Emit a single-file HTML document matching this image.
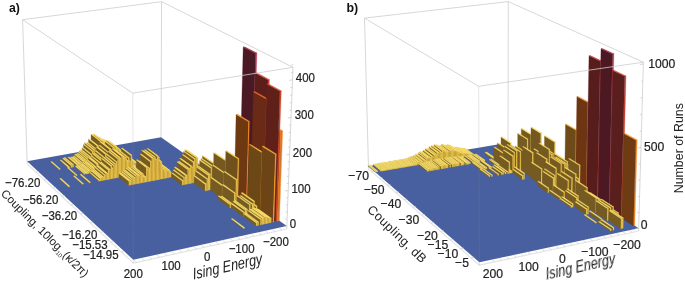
<!DOCTYPE html>
<html><head><meta charset="utf-8"><style>
html,body{margin:0;padding:0;background:#fff;width:685px;height:283px;overflow:hidden}
svg{display:block}
.bars path{stroke-width:0.3;stroke-linejoin:round}
text{font-family:'Liberation Sans',sans-serif}
</style></head><body>
<svg width="685" height="283" viewBox="0 0 685 283" xmlns="http://www.w3.org/2000/svg">
<line x1="22.6" y1="19.7" x2="161.6" y2="1.7" stroke="#cdcdcd" stroke-width="0.8"/>
<line x1="161.6" y1="1.7" x2="293.0" y2="67.3" stroke="#cdcdcd" stroke-width="0.8"/>
<line x1="22.6" y1="19.7" x2="132.8" y2="93.1" stroke="#cdcdcd" stroke-width="0.8"/>
<line x1="161.6" y1="1.7" x2="161.0" y2="140.0" stroke="#cdcdcd" stroke-width="0.8"/>
<line x1="22.6" y1="19.7" x2="27.2" y2="164.0" stroke="#cdcdcd" stroke-width="0.8"/>
<line x1="27.2" y1="164.0" x2="133.3" y2="263.1" stroke="#e4e4e4" stroke-width="1.2"/>
<line x1="133.3" y1="263.1" x2="286.7" y2="229.0" stroke="#e4e4e4" stroke-width="1.2"/>
<path d="M27.1 161.2L161.0 137.3L286.8 225.9L133.3 259.8Z" fill="#48609f"/>
<g class="bars"><path d="M127.2 157.1L128.5 156.9L128.5 155.9L127.2 156.1Z" fill="#ebc84e" stroke="#ebc84e"/>
<path d="M118.2 150.2L127.2 157.1L127.2 156.1L118.2 149.2Z" fill="#765d23" stroke="#765d23"/>
<path d="M118.2 149.2L119.5 149.0L128.5 155.9L127.2 156.1Z" fill="#f7de69" stroke="#f7de69"/>
<path d="M125.9 157.3L127.2 157.1L127.2 156.0L125.9 156.2Z" fill="#ebc84e" stroke="#ebc84e"/>
<path d="M117.0 150.4L125.9 157.3L125.9 156.2L116.9 149.3Z" fill="#765d23" stroke="#765d23"/>
<path d="M116.9 149.3L118.2 149.1L127.2 156.0L125.9 156.2Z" fill="#f7de69" stroke="#f7de69"/>
<path d="M124.6 157.6L125.9 157.3L125.9 156.0L124.6 156.2Z" fill="#ebc84e" stroke="#ebc84e"/>
<path d="M115.7 150.6L124.6 157.6L124.6 156.2L115.7 149.3Z" fill="#765d23" stroke="#765d23"/>
<path d="M115.7 149.3L116.9 149.1L125.9 156.0L124.6 156.2Z" fill="#f7de68" stroke="#f7de68"/>
<path d="M123.3 157.8L124.6 157.6L124.6 155.1L123.3 155.3Z" fill="#ebc74d" stroke="#ebc74d"/>
<path d="M114.4 150.9L123.3 157.8L123.3 155.3L114.4 148.4Z" fill="#765d23" stroke="#765d23"/>
<path d="M114.4 148.4L115.7 148.2L124.6 155.1L123.3 155.3Z" fill="#f7dd68" stroke="#f7dd68"/>
<path d="M122.0 158.1L123.3 157.8L123.3 155.3L122.0 155.5Z" fill="#ebc74d" stroke="#ebc74d"/>
<path d="M113.1 151.1L122.0 158.1L122.0 155.5L113.1 148.6Z" fill="#765d23" stroke="#765d23"/>
<path d="M113.1 148.6L114.4 148.4L123.3 155.3L122.0 155.5Z" fill="#f7dd68" stroke="#f7dd68"/>
<path d="M120.8 158.3L122.0 158.1L122.0 155.1L120.7 155.3Z" fill="#ebc74d" stroke="#ebc74d"/>
<path d="M111.9 151.3L120.8 158.3L120.7 155.3L111.8 148.4Z" fill="#765d23" stroke="#765d23"/>
<path d="M111.8 148.4L113.1 148.1L122.0 155.1L120.7 155.3Z" fill="#f7dd68" stroke="#f7dd68"/>
<path d="M119.5 158.5L120.8 158.3L120.7 153.5L119.4 153.8Z" fill="#ebc74d" stroke="#ebc74d"/>
<path d="M110.6 151.6L119.5 158.5L119.4 153.8L110.6 146.9Z" fill="#765c23" stroke="#765c23"/>
<path d="M110.6 146.9L111.8 146.6L120.7 153.5L119.4 153.8Z" fill="#f7dd67" stroke="#f7dd67"/>
<path d="M118.2 158.8L119.5 158.5L119.4 153.7L118.1 153.9Z" fill="#ebc74d" stroke="#ebc74d"/>
<path d="M109.3 151.8L118.2 158.8L118.1 153.9L109.3 147.0Z" fill="#765c23" stroke="#765c23"/>
<path d="M109.3 147.0L110.5 146.8L119.4 153.7L118.1 153.9Z" fill="#f7dd67" stroke="#f7dd67"/>
<path d="M116.9 159.0L118.2 158.8L118.1 151.8L116.8 152.1Z" fill="#ebc64c" stroke="#ebc64c"/>
<path d="M108.0 152.0L116.9 159.0L116.8 152.1L108.0 145.2Z" fill="#765c22" stroke="#765c22"/>
<path d="M108.0 145.2L109.3 144.9L118.1 151.8L116.8 152.1Z" fill="#f7dc66" stroke="#f7dc66"/>
<path d="M115.6 159.2L116.9 159.0L116.8 151.9L115.5 152.1Z" fill="#ebc64c" stroke="#ebc64c"/>
<path d="M106.8 152.2L115.6 159.2L115.5 152.1L106.7 145.2Z" fill="#765c22" stroke="#765c22"/>
<path d="M106.7 145.2L108.0 145.0L116.8 151.9L115.5 152.1Z" fill="#f7dc66" stroke="#f7dc66"/>
<path d="M114.3 159.5L115.6 159.2L115.5 149.0L114.2 149.2Z" fill="#ebc54c" stroke="#ebc54c"/>
<path d="M105.5 152.5L114.3 159.5L114.2 149.2L105.4 142.4Z" fill="#755c22" stroke="#755c22"/>
<path d="M105.4 142.4L106.7 142.1L115.5 149.0L114.2 149.2Z" fill="#f7db65" stroke="#f7db65"/>
<path d="M113.0 159.7L114.3 159.5L114.2 150.6L112.9 150.9Z" fill="#ebc54c" stroke="#ebc54c"/>
<path d="M104.2 152.7L113.0 159.7L112.9 150.9L104.1 144.0Z" fill="#755c22" stroke="#755c22"/>
<path d="M104.1 144.0L105.4 143.7L114.2 150.6L112.9 150.9Z" fill="#f7db65" stroke="#f7db65"/>
<path d="M111.7 159.9L113.0 159.7L112.9 145.9L111.6 146.2Z" fill="#ebc44b" stroke="#ebc44b"/>
<path d="M102.9 152.9L111.7 159.9L111.6 146.2L102.8 139.3Z" fill="#755b22" stroke="#755b22"/>
<path d="M102.8 139.3L104.1 139.1L112.9 145.9L111.6 146.2Z" fill="#f7da63" stroke="#f7da63"/>
<path d="M110.4 160.2L111.7 159.9L111.6 147.8L110.3 148.1Z" fill="#ebc54b" stroke="#ebc54b"/>
<path d="M101.6 153.2L110.4 160.2L110.3 148.1L101.5 141.2Z" fill="#755b22" stroke="#755b22"/>
<path d="M101.5 141.2L102.8 141.0L111.6 147.8L110.3 148.1Z" fill="#f7db64" stroke="#f7db64"/>
<path d="M109.1 160.4L110.4 160.2L110.3 148.4L109.0 148.6Z" fill="#ebc54b" stroke="#ebc54b"/>
<path d="M100.4 153.4L109.1 160.4L109.0 148.6L100.2 141.7Z" fill="#755b22" stroke="#755b22"/>
<path d="M100.2 141.7L101.5 141.5L110.3 148.4L109.0 148.6Z" fill="#f7db64" stroke="#f7db64"/>
<path d="M107.8 160.7L109.1 160.4L109.0 144.1L107.7 144.4Z" fill="#ebc34a" stroke="#ebc34a"/>
<path d="M99.1 153.6L107.8 160.7L107.7 144.4L98.9 137.5Z" fill="#755b22" stroke="#755b22"/>
<path d="M98.9 137.5L100.2 137.3L109.0 144.1L107.7 144.4Z" fill="#f7d962" stroke="#f7d962"/>
<path d="M106.5 160.9L107.8 160.7L107.7 147.2L106.4 147.5Z" fill="#ebc44b" stroke="#ebc44b"/>
<path d="M97.8 153.9L106.5 160.9L106.4 147.5L97.6 140.6Z" fill="#755b22" stroke="#755b22"/>
<path d="M97.6 140.6L98.9 140.4L107.7 147.2L106.4 147.5Z" fill="#f7da63" stroke="#f7da63"/>
<path d="M105.2 161.1L106.5 160.9L106.4 146.3L105.1 146.5Z" fill="#ebc44b" stroke="#ebc44b"/>
<path d="M96.5 154.1L105.2 161.1L105.1 146.5L96.3 139.6Z" fill="#755b22" stroke="#755b22"/>
<path d="M96.3 139.6L97.6 139.4L106.4 146.3L105.1 146.5Z" fill="#f7da63" stroke="#f7da63"/>
<path d="M103.9 161.4L105.2 161.1L105.0 142.3L103.7 142.6Z" fill="#ebc34a" stroke="#ebc34a"/>
<path d="M95.2 154.3L103.9 161.4L103.7 142.6L95.0 135.7Z" fill="#755a21" stroke="#755a21"/>
<path d="M95.0 135.7L96.3 135.5L105.0 142.3L103.7 142.6Z" fill="#f6d961" stroke="#f6d961"/>
<path d="M102.6 161.6L103.9 161.4L103.7 141.0L102.4 141.2Z" fill="#ebc249" stroke="#ebc249"/>
<path d="M93.9 154.6L102.6 161.6L102.4 141.2L93.6 134.4Z" fill="#755a21" stroke="#755a21"/>
<path d="M93.6 134.4L94.9 134.2L103.7 141.0L102.4 141.2Z" fill="#f6d860" stroke="#f6d860"/>
<path d="M101.3 161.9L102.6 161.6L102.4 144.7L101.1 144.9Z" fill="#ebc34a" stroke="#ebc34a"/>
<path d="M92.6 154.8L101.3 161.9L101.1 144.9L92.4 138.0Z" fill="#755b22" stroke="#755b22"/>
<path d="M92.4 138.0L93.7 137.8L102.4 144.7L101.1 144.9Z" fill="#f7d962" stroke="#f7d962"/>
<path d="M100.0 162.1L101.3 161.9L101.1 140.9L99.7 141.2Z" fill="#ebc249" stroke="#ebc249"/>
<path d="M91.3 155.0L100.0 162.1L99.7 141.2L91.0 134.3Z" fill="#755a21" stroke="#755a21"/>
<path d="M91.0 134.3L92.3 134.1L101.1 140.9L99.7 141.2Z" fill="#f6d860" stroke="#f6d860"/>
<path d="M98.7 162.3L100.0 162.1L99.8 147.1L98.5 147.4Z" fill="#ebc44b" stroke="#ebc44b"/>
<path d="M90.0 155.3L98.7 162.3L98.5 147.4L89.8 140.5Z" fill="#755b22" stroke="#755b22"/>
<path d="M89.8 140.5L91.1 140.2L99.8 147.1L98.5 147.4Z" fill="#f7da63" stroke="#f7da63"/>
<path d="M97.4 162.6L98.7 162.3L98.5 145.8L97.2 146.0Z" fill="#ebc34a" stroke="#ebc34a"/>
<path d="M88.7 155.5L97.4 162.6L97.2 146.0L88.5 139.2Z" fill="#755b22" stroke="#755b22"/>
<path d="M88.5 139.2L89.8 138.9L98.5 145.8L97.2 146.0Z" fill="#f7d962" stroke="#f7d962"/>
<path d="M96.1 162.8L97.4 162.6L97.2 149.4L95.9 149.6Z" fill="#ebc44b" stroke="#ebc44b"/>
<path d="M87.5 155.7L96.1 162.8L95.9 149.6L87.2 142.7Z" fill="#755b22" stroke="#755b22"/>
<path d="M87.2 142.7L88.5 142.4L97.2 149.4L95.9 149.6Z" fill="#f7da63" stroke="#f7da63"/>
<path d="M94.8 163.1L96.1 162.8L95.9 151.5L94.6 151.7Z" fill="#ebc54b" stroke="#ebc54b"/>
<path d="M86.2 156.0L94.8 163.1L94.6 151.7L86.0 144.8Z" fill="#755b22" stroke="#755b22"/>
<path d="M86.0 144.8L87.3 144.5L95.9 151.5L94.6 151.7Z" fill="#f7db64" stroke="#f7db64"/>
<path d="M93.4 163.3L94.8 163.1L94.6 149.5L93.2 149.7Z" fill="#ebc44b" stroke="#ebc44b"/>
<path d="M84.9 156.2L93.4 163.3L93.2 149.7L84.6 142.8Z" fill="#755b22" stroke="#755b22"/>
<path d="M84.6 142.8L85.9 142.5L94.6 149.5L93.2 149.7Z" fill="#f7da63" stroke="#f7da63"/>
<path d="M92.1 163.5L93.4 163.3L93.3 151.3L92.0 151.5Z" fill="#ebc54b" stroke="#ebc54b"/>
<path d="M83.6 156.4L92.1 163.5L92.0 151.5L83.4 144.6Z" fill="#755b22" stroke="#755b22"/>
<path d="M83.4 144.6L84.7 144.4L93.3 151.3L92.0 151.5Z" fill="#f7db64" stroke="#f7db64"/>
<path d="M90.8 163.8L92.1 163.5L92.0 154.4L90.7 154.7Z" fill="#ebc54c" stroke="#ebc54c"/>
<path d="M82.3 156.7L90.8 163.8L90.7 154.7L82.1 147.7Z" fill="#755c22" stroke="#755c22"/>
<path d="M82.1 147.7L83.4 147.4L92.0 154.4L90.7 154.7Z" fill="#f7db65" stroke="#f7db65"/>
<path d="M89.5 164.0L90.8 163.8L90.7 156.8L89.4 157.0Z" fill="#ebc64c" stroke="#ebc64c"/>
<path d="M81.0 156.9L89.5 164.0L89.4 157.0L80.8 150.0Z" fill="#765c22" stroke="#765c22"/>
<path d="M80.8 150.0L82.1 149.7L90.7 156.8L89.4 157.0Z" fill="#f7dc66" stroke="#f7dc66"/>
<path d="M88.2 164.3L89.5 164.0L89.4 157.7L88.1 158.0Z" fill="#ebc64d" stroke="#ebc64d"/>
<path d="M79.7 157.1L88.2 164.3L88.1 158.0L79.5 150.9Z" fill="#765c22" stroke="#765c22"/>
<path d="M79.5 150.9L80.8 150.7L89.4 157.7L88.1 158.0Z" fill="#f7dc66" stroke="#f7dc66"/>
<path d="M86.9 164.5L88.2 164.3L88.1 159.0L86.8 159.2Z" fill="#ebc64d" stroke="#ebc64d"/>
<path d="M78.4 157.4L86.9 164.5L86.8 159.2L78.3 152.1Z" fill="#765c23" stroke="#765c23"/>
<path d="M78.3 152.1L79.6 151.9L88.1 159.0L86.8 159.2Z" fill="#f7dc67" stroke="#f7dc67"/>
<path d="M85.5 164.8L86.9 164.5L86.8 160.3L85.5 160.6Z" fill="#ebc74d" stroke="#ebc74d"/>
<path d="M77.0 157.6L85.5 164.8L85.5 160.6L77.0 153.5Z" fill="#765c23" stroke="#765c23"/>
<path d="M77.0 153.5L78.3 153.2L86.8 160.3L85.5 160.6Z" fill="#f7dd67" stroke="#f7dd67"/>
<path d="M84.2 165.0L85.5 164.8L85.5 161.0L84.2 161.2Z" fill="#ebc74d" stroke="#ebc74d"/>
<path d="M75.7 157.8L84.2 165.0L84.2 161.2L75.7 154.1Z" fill="#765c23" stroke="#765c23"/>
<path d="M75.7 154.1L77.0 153.9L85.5 161.0L84.2 161.2Z" fill="#f7dd67" stroke="#f7dd67"/>
<path d="M82.9 165.2L84.2 165.0L84.2 161.3L82.8 161.5Z" fill="#ebc74d" stroke="#ebc74d"/>
<path d="M74.4 158.1L82.9 165.2L82.8 161.5L74.4 154.4Z" fill="#765c23" stroke="#765c23"/>
<path d="M74.4 154.4L75.7 154.2L84.2 161.3L82.8 161.5Z" fill="#f7dd67" stroke="#f7dd67"/>
<path d="M81.6 165.5L82.9 165.2L82.9 163.1L81.5 163.3Z" fill="#ebc74e" stroke="#ebc74e"/>
<path d="M73.1 158.3L81.6 165.5L81.5 163.3L73.1 156.2Z" fill="#765d23" stroke="#765d23"/>
<path d="M73.1 156.2L74.4 155.9L82.9 163.1L81.5 163.3Z" fill="#f7dd68" stroke="#f7dd68"/>
<path d="M80.2 165.7L81.6 165.5L81.5 163.9L80.2 164.2Z" fill="#ebc84e" stroke="#ebc84e"/>
<path d="M71.8 158.6L80.2 165.7L80.2 164.2L71.8 157.0Z" fill="#765d23" stroke="#765d23"/>
<path d="M71.8 157.0L73.1 156.8L81.5 163.9L80.2 164.2Z" fill="#f7de68" stroke="#f7de68"/>
<path d="M78.9 166.0L80.2 165.7L80.2 164.1L78.9 164.3Z" fill="#ebc84e" stroke="#ebc84e"/>
<path d="M70.5 158.8L78.9 166.0L78.9 164.3L70.5 157.2Z" fill="#765d23" stroke="#765d23"/>
<path d="M70.5 157.2L71.8 156.9L80.2 164.1L78.9 164.3Z" fill="#f7de68" stroke="#f7de68"/>
<path d="M77.6 166.2L78.9 166.0L78.9 165.0L77.6 165.3Z" fill="#ebc84e" stroke="#ebc84e"/>
<path d="M69.2 159.0L77.6 166.2L77.6 165.3L69.2 158.1Z" fill="#765d23" stroke="#765d23"/>
<path d="M69.2 158.1L70.5 157.9L78.9 165.0L77.6 165.3Z" fill="#f7de69" stroke="#f7de69"/>
<path d="M76.3 166.5L77.6 166.2L77.5 164.1L76.2 164.4Z" fill="#ebc74e" stroke="#ebc74e"/>
<path d="M67.9 159.3L76.3 166.5L76.2 164.4L67.8 157.2Z" fill="#765d23" stroke="#765d23"/>
<path d="M67.8 157.2L69.1 157.0L77.5 164.1L76.2 164.4Z" fill="#f7dd68" stroke="#f7dd68"/>
<path d="M72.3 167.2L73.6 166.9L73.6 164.6L72.2 164.8Z" fill="#ebc74d" stroke="#ebc74d"/>
<path d="M63.9 160.0L72.3 167.2L72.2 164.8L63.9 157.6Z" fill="#765d23" stroke="#765d23"/>
<path d="M63.9 157.6L65.2 157.4L73.6 164.6L72.2 164.8Z" fill="#f7dd68" stroke="#f7dd68"/>
<path d="M70.9 167.4L72.3 167.2L72.2 165.3L70.9 165.6Z" fill="#ebc74e" stroke="#ebc74e"/>
<path d="M62.6 160.2L70.9 167.4L70.9 165.6L62.6 158.4Z" fill="#765d23" stroke="#765d23"/>
<path d="M62.6 158.4L63.9 158.1L72.2 165.3L70.9 165.6Z" fill="#f7dd68" stroke="#f7dd68"/>
<path d="M68.3 167.9L69.6 167.7L69.6 167.1L68.2 167.4Z" fill="#ebc84e" stroke="#ebc84e"/>
<path d="M60.0 160.7L68.3 167.9L68.2 167.4L60.0 160.1Z" fill="#765d23" stroke="#765d23"/>
<path d="M60.0 160.1L61.3 159.9L69.6 167.1L68.2 167.4Z" fill="#f7de69" stroke="#f7de69"/>
<path d="M58.9 169.6L60.2 169.4L60.2 168.8L58.9 169.1Z" fill="#ebc84e" stroke="#ebc84e"/>
<path d="M50.7 162.4L58.9 169.6L58.9 169.1L50.7 161.8Z" fill="#765d23" stroke="#765d23"/>
<path d="M50.7 161.8L52.0 161.6L60.2 168.8L58.9 169.1Z" fill="#f7de69" stroke="#f7de69"/>
<path d="M136.7 164.5L138.0 164.2L138.0 163.2L136.7 163.4Z" fill="#ebc84e" stroke="#ebc84e"/>
<path d="M127.5 157.3L136.7 164.5L136.7 163.4L127.5 156.3Z" fill="#765d23" stroke="#765d23"/>
<path d="M127.5 156.3L128.8 156.1L138.0 163.2L136.7 163.4Z" fill="#f7de69" stroke="#f7de69"/>
<path d="M135.4 164.7L136.7 164.5L136.7 162.7L135.4 162.9Z" fill="#ebc74e" stroke="#ebc74e"/>
<path d="M126.2 157.6L135.4 164.7L135.4 162.9L126.2 155.8Z" fill="#765d23" stroke="#765d23"/>
<path d="M126.2 155.8L127.5 155.6L136.7 162.7L135.4 162.9Z" fill="#f7dd68" stroke="#f7dd68"/>
<path d="M134.1 165.0L135.4 164.7L135.4 162.4L134.1 162.6Z" fill="#ebc74d" stroke="#ebc74d"/>
<path d="M124.9 157.8L134.1 165.0L134.1 162.6L124.9 155.5Z" fill="#765d23" stroke="#765d23"/>
<path d="M124.9 155.5L126.2 155.3L135.4 162.4L134.1 162.6Z" fill="#f7dd68" stroke="#f7dd68"/>
<path d="M132.8 165.2L134.1 165.0L134.1 162.7L132.8 162.9Z" fill="#ebc74d" stroke="#ebc74d"/>
<path d="M123.6 158.0L132.8 165.2L132.8 162.9L123.6 155.8Z" fill="#765d23" stroke="#765d23"/>
<path d="M123.6 155.8L124.9 155.5L134.1 162.7L132.8 162.9Z" fill="#f7dd68" stroke="#f7dd68"/>
<path d="M131.5 165.4L132.8 165.2L132.8 162.0L131.5 162.2Z" fill="#ebc74d" stroke="#ebc74d"/>
<path d="M122.3 158.3L131.5 165.4L131.5 162.2L122.3 155.1Z" fill="#765d23" stroke="#765d23"/>
<path d="M122.3 155.1L123.6 154.9L132.8 162.0L131.5 162.2Z" fill="#f7dd68" stroke="#f7dd68"/>
<path d="M130.2 165.7L131.5 165.4L131.5 160.8L130.2 161.0Z" fill="#ebc74d" stroke="#ebc74d"/>
<path d="M121.0 158.5L130.2 165.7L130.2 161.0L121.0 153.9Z" fill="#765c23" stroke="#765c23"/>
<path d="M121.0 153.9L122.3 153.6L131.5 160.8L130.2 161.0Z" fill="#f7dd67" stroke="#f7dd67"/>
<path d="M128.9 165.9L130.2 165.7L130.2 159.6L128.9 159.9Z" fill="#ebc64d" stroke="#ebc64d"/>
<path d="M119.8 158.8L128.9 165.9L128.9 159.9L119.7 152.8Z" fill="#765c22" stroke="#765c22"/>
<path d="M119.7 152.8L121.0 152.5L130.2 159.6L128.9 159.9Z" fill="#f7dc66" stroke="#f7dc66"/>
<path d="M127.6 166.2L128.9 165.9L128.9 160.4L127.6 160.6Z" fill="#ebc64d" stroke="#ebc64d"/>
<path d="M118.5 159.0L127.6 166.2L127.6 160.6L118.4 153.5Z" fill="#765c23" stroke="#765c23"/>
<path d="M118.4 153.5L119.7 153.2L128.9 160.4L127.6 160.6Z" fill="#f7dc67" stroke="#f7dc67"/>
<path d="M126.3 166.4L127.6 166.2L127.6 157.4L126.2 157.6Z" fill="#ebc54c" stroke="#ebc54c"/>
<path d="M117.2 159.2L126.3 166.4L126.2 157.6L117.1 150.5Z" fill="#755c22" stroke="#755c22"/>
<path d="M117.1 150.5L118.4 150.3L127.6 157.4L126.2 157.6Z" fill="#f7db65" stroke="#f7db65"/>
<path d="M125.0 166.7L126.3 166.4L126.2 157.8L124.9 158.0Z" fill="#ebc64c" stroke="#ebc64c"/>
<path d="M115.9 159.5L125.0 166.7L124.9 158.0L115.8 150.9Z" fill="#765c22" stroke="#765c22"/>
<path d="M115.8 150.9L117.1 150.7L126.2 157.8L124.9 158.0Z" fill="#f7dc65" stroke="#f7dc65"/>
<path d="M123.7 166.9L125.0 166.7L124.9 157.1L123.6 157.3Z" fill="#ebc54c" stroke="#ebc54c"/>
<path d="M114.6 159.7L123.7 166.9L123.6 157.3L114.5 150.2Z" fill="#755c22" stroke="#755c22"/>
<path d="M114.5 150.2L115.8 150.0L124.9 157.1L123.6 157.3Z" fill="#f7db65" stroke="#f7db65"/>
<path d="M122.4 167.2L123.7 166.9L123.6 154.4L122.3 154.6Z" fill="#ebc44b" stroke="#ebc44b"/>
<path d="M113.3 159.9L122.4 167.2L122.3 154.6L113.2 147.5Z" fill="#755b22" stroke="#755b22"/>
<path d="M113.2 147.5L114.5 147.3L123.6 154.4L122.3 154.6Z" fill="#f7da64" stroke="#f7da64"/>
<path d="M121.1 167.4L122.4 167.2L122.3 154.1L121.0 154.4Z" fill="#ebc44b" stroke="#ebc44b"/>
<path d="M112.0 160.2L121.1 167.4L121.0 154.4L111.9 147.3Z" fill="#755b22" stroke="#755b22"/>
<path d="M111.9 147.3L113.2 147.1L122.3 154.1L121.0 154.4Z" fill="#f7da63" stroke="#f7da63"/>
<path d="M119.7 167.6L121.1 167.4L120.9 150.2L119.6 150.4Z" fill="#ebc34a" stroke="#ebc34a"/>
<path d="M110.7 160.4L119.7 167.6L119.6 150.4L110.5 143.4Z" fill="#755b22" stroke="#755b22"/>
<path d="M110.5 143.4L111.8 143.2L120.9 150.2L119.6 150.4Z" fill="#f7d962" stroke="#f7d962"/>
<path d="M118.4 167.9L119.7 167.6L119.6 149.1L118.3 149.3Z" fill="#ebc34a" stroke="#ebc34a"/>
<path d="M109.4 160.7L118.4 167.9L118.3 149.3L109.2 142.3Z" fill="#755a21" stroke="#755a21"/>
<path d="M109.2 142.3L110.5 142.1L119.6 149.1L118.3 149.3Z" fill="#f6d961" stroke="#f6d961"/>
<path d="M117.1 168.1L118.4 167.9L118.3 147.9L117.0 148.1Z" fill="#ebc249" stroke="#ebc249"/>
<path d="M108.1 160.9L117.1 168.1L117.0 148.1L107.9 141.2Z" fill="#755a21" stroke="#755a21"/>
<path d="M107.9 141.2L109.2 140.9L118.3 147.9L117.0 148.1Z" fill="#f6d861" stroke="#f6d861"/>
<path d="M115.8 168.4L117.1 168.1L117.0 147.3L115.6 147.5Z" fill="#ebc249" stroke="#ebc249"/>
<path d="M106.8 161.1L115.8 168.4L115.6 147.5L106.6 140.5Z" fill="#755a21" stroke="#755a21"/>
<path d="M106.6 140.5L107.9 140.3L117.0 147.3L115.6 147.5Z" fill="#f6d860" stroke="#f6d860"/>
<path d="M114.5 168.6L115.8 168.4L115.6 148.4L114.3 148.7Z" fill="#ebc249" stroke="#ebc249"/>
<path d="M105.5 161.4L114.5 168.6L114.3 148.7L105.3 141.7Z" fill="#755a21" stroke="#755a21"/>
<path d="M105.3 141.7L106.6 141.4L115.6 148.4L114.3 148.7Z" fill="#f6d861" stroke="#f6d861"/>
<path d="M113.2 168.9L114.5 168.6L114.4 153.5L113.0 153.7Z" fill="#ebc44b" stroke="#ebc44b"/>
<path d="M104.2 161.6L113.2 168.9L113.0 153.7L104.0 146.6Z" fill="#755b22" stroke="#755b22"/>
<path d="M104.0 146.6L105.3 146.4L114.4 153.5L113.0 153.7Z" fill="#f7da63" stroke="#f7da63"/>
<path d="M111.8 169.1L113.2 168.9L113.0 152.8L111.7 153.0Z" fill="#ebc34a" stroke="#ebc34a"/>
<path d="M102.9 161.9L111.8 169.1L111.7 153.0L102.7 146.0Z" fill="#755b22" stroke="#755b22"/>
<path d="M102.7 146.0L104.0 145.7L113.0 152.8L111.7 153.0Z" fill="#f7d962" stroke="#f7d962"/>
<path d="M110.5 169.4L111.8 169.1L111.7 149.6L110.3 149.8Z" fill="#ebc24a" stroke="#ebc24a"/>
<path d="M101.6 162.1L110.5 169.4L110.3 149.8L101.4 142.8Z" fill="#755a21" stroke="#755a21"/>
<path d="M101.4 142.8L102.7 142.6L111.7 149.6L110.3 149.8Z" fill="#f6d861" stroke="#f6d861"/>
<path d="M109.2 169.6L110.5 169.4L110.3 148.7L109.0 148.9Z" fill="#ebc249" stroke="#ebc249"/>
<path d="M100.3 162.3L109.2 169.6L109.0 148.9L100.0 141.9Z" fill="#755a21" stroke="#755a21"/>
<path d="M100.0 141.9L101.3 141.6L110.3 148.7L109.0 148.9Z" fill="#f6d860" stroke="#f6d860"/>
<path d="M107.9 169.9L109.2 169.6L109.0 152.4L107.7 152.6Z" fill="#ebc34a" stroke="#ebc34a"/>
<path d="M99.0 162.6L107.9 169.9L107.7 152.6L98.8 145.6Z" fill="#755b22" stroke="#755b22"/>
<path d="M98.8 145.6L100.1 145.3L109.0 152.4L107.7 152.6Z" fill="#f7d962" stroke="#f7d962"/>
<path d="M106.5 170.1L107.9 169.9L107.7 154.8L106.4 155.0Z" fill="#ebc44b" stroke="#ebc44b"/>
<path d="M97.7 162.8L106.5 170.1L106.4 155.0L97.5 147.9Z" fill="#755b22" stroke="#755b22"/>
<path d="M97.5 147.9L98.8 147.7L107.7 154.8L106.4 155.0Z" fill="#f7da63" stroke="#f7da63"/>
<path d="M105.2 170.4L106.5 170.1L106.4 153.8L105.0 154.0Z" fill="#ebc34a" stroke="#ebc34a"/>
<path d="M96.3 163.1L105.2 170.4L105.0 154.0L96.1 146.9Z" fill="#755b22" stroke="#755b22"/>
<path d="M96.1 146.9L97.4 146.7L106.4 153.8L105.0 154.0Z" fill="#f7d962" stroke="#f7d962"/>
<path d="M103.9 170.6L105.2 170.4L105.1 157.7L103.8 157.9Z" fill="#ebc44b" stroke="#ebc44b"/>
<path d="M95.0 163.3L103.9 170.6L103.8 157.9L94.9 150.8Z" fill="#755b22" stroke="#755b22"/>
<path d="M94.9 150.8L96.2 150.5L105.1 157.7L103.8 157.9Z" fill="#f7da64" stroke="#f7da64"/>
<path d="M102.6 170.9L103.9 170.6L103.8 159.9L102.4 160.1Z" fill="#ebc54c" stroke="#ebc54c"/>
<path d="M93.7 163.5L102.6 170.9L102.4 160.1L93.6 152.9Z" fill="#755b22" stroke="#755b22"/>
<path d="M93.6 152.9L94.9 152.7L103.8 159.9L102.4 160.1Z" fill="#f7db64" stroke="#f7db64"/>
<path d="M101.2 171.1L102.6 170.9L102.4 160.7L101.1 161.0Z" fill="#ebc54c" stroke="#ebc54c"/>
<path d="M92.4 163.8L101.2 171.1L101.1 161.0L92.3 153.8Z" fill="#755c22" stroke="#755c22"/>
<path d="M92.3 153.8L93.6 153.5L102.4 160.7L101.1 161.0Z" fill="#f7db65" stroke="#f7db65"/>
<path d="M99.9 171.4L101.2 171.1L101.1 163.1L99.8 163.3Z" fill="#ebc64c" stroke="#ebc64c"/>
<path d="M91.1 164.0L99.9 171.4L99.8 163.3L91.0 156.1Z" fill="#765c22" stroke="#765c22"/>
<path d="M91.0 156.1L92.3 155.9L101.1 163.1L99.8 163.3Z" fill="#f7dc66" stroke="#f7dc66"/>
<path d="M98.6 171.6L99.9 171.4L99.8 164.9L98.5 165.1Z" fill="#ebc64d" stroke="#ebc64d"/>
<path d="M89.8 164.3L98.6 171.6L98.5 165.1L89.7 157.9Z" fill="#765c22" stroke="#765c22"/>
<path d="M89.7 157.9L91.0 157.6L99.8 164.9L98.5 165.1Z" fill="#f7dc66" stroke="#f7dc66"/>
<path d="M97.2 171.9L98.6 171.6L98.5 164.7L97.1 164.9Z" fill="#ebc64c" stroke="#ebc64c"/>
<path d="M88.5 164.5L97.2 171.9L97.1 164.9L88.3 157.7Z" fill="#765c22" stroke="#765c22"/>
<path d="M88.3 157.7L89.7 157.4L98.5 164.7L97.1 164.9Z" fill="#f7dc66" stroke="#f7dc66"/>
<path d="M95.9 172.1L97.2 171.9L97.2 167.6L95.8 167.9Z" fill="#ebc74d" stroke="#ebc74d"/>
<path d="M87.1 164.7L95.9 172.1L95.8 167.9L87.1 160.6Z" fill="#765c23" stroke="#765c23"/>
<path d="M87.1 160.6L88.4 160.3L97.2 167.6L95.8 167.9Z" fill="#f7dd67" stroke="#f7dd67"/>
<path d="M94.6 172.4L95.9 172.1L95.9 168.8L94.5 169.1Z" fill="#ebc74d" stroke="#ebc74d"/>
<path d="M85.8 165.0L94.6 172.4L94.5 169.1L85.8 161.7Z" fill="#765d23" stroke="#765d23"/>
<path d="M85.8 161.7L87.1 161.5L95.9 168.8L94.5 169.1Z" fill="#f7dd68" stroke="#f7dd68"/>
<path d="M93.2 172.6L94.6 172.4L94.5 169.0L93.2 169.2Z" fill="#ebc74d" stroke="#ebc74d"/>
<path d="M84.5 165.2L93.2 172.6L93.2 169.2L84.4 161.9Z" fill="#765d23" stroke="#765d23"/>
<path d="M84.4 161.9L85.8 161.6L94.5 169.0L93.2 169.2Z" fill="#f7dd68" stroke="#f7dd68"/>
<path d="M91.9 172.9L93.2 172.6L93.2 169.9L91.9 170.2Z" fill="#ebc74d" stroke="#ebc74d"/>
<path d="M83.2 165.5L91.9 172.9L91.9 170.2L83.1 162.8Z" fill="#765d23" stroke="#765d23"/>
<path d="M83.1 162.8L84.4 162.6L93.2 169.9L91.9 170.2Z" fill="#f7dd68" stroke="#f7dd68"/>
<path d="M90.5 173.1L91.9 172.9L91.9 171.1L90.5 171.3Z" fill="#ebc84e" stroke="#ebc84e"/>
<path d="M81.8 165.7L90.5 173.1L90.5 171.3L81.8 164.0Z" fill="#765d23" stroke="#765d23"/>
<path d="M81.8 164.0L83.1 163.7L91.9 171.1L90.5 171.3Z" fill="#f7de68" stroke="#f7de68"/>
<path d="M89.2 173.4L90.5 173.1L90.5 171.5L89.2 171.8Z" fill="#ebc84e" stroke="#ebc84e"/>
<path d="M80.5 166.0L89.2 173.4L89.2 171.8L80.5 164.4Z" fill="#765d23" stroke="#765d23"/>
<path d="M80.5 164.4L81.8 164.1L90.5 171.5L89.2 171.8Z" fill="#f7de68" stroke="#f7de68"/>
<path d="M87.9 173.6L89.2 173.4L89.2 172.2L87.8 172.5Z" fill="#ebc84e" stroke="#ebc84e"/>
<path d="M79.2 166.2L87.9 173.6L87.8 172.5L79.2 165.1Z" fill="#765d23" stroke="#765d23"/>
<path d="M79.2 165.1L80.5 164.8L89.2 172.2L87.8 172.5Z" fill="#f7de69" stroke="#f7de69"/>
<path d="M86.5 173.9L87.9 173.6L87.9 172.9L86.5 173.2Z" fill="#ebc84e" stroke="#ebc84e"/>
<path d="M77.9 166.4L86.5 173.9L86.5 173.2L77.9 165.8Z" fill="#765d23" stroke="#765d23"/>
<path d="M77.9 165.8L79.2 165.6L87.9 172.9L86.5 173.2Z" fill="#f7de69" stroke="#f7de69"/>
<path d="M85.2 174.1L86.5 173.9L86.5 172.9L85.2 173.1Z" fill="#ebc84e" stroke="#ebc84e"/>
<path d="M76.5 166.7L85.2 174.1L85.2 173.1L76.5 165.7Z" fill="#765d23" stroke="#765d23"/>
<path d="M76.5 165.7L77.8 165.5L86.5 172.9L85.2 173.1Z" fill="#f7de69" stroke="#f7de69"/>
<path d="M83.8 174.4L85.2 174.1L85.2 173.4L83.8 173.6Z" fill="#ebc84e" stroke="#ebc84e"/>
<path d="M75.2 166.9L83.8 174.4L83.8 173.6L75.2 166.2Z" fill="#765d23" stroke="#765d23"/>
<path d="M75.2 166.2L76.5 165.9L85.2 173.4L83.8 173.6Z" fill="#f7de69" stroke="#f7de69"/>
<path d="M75.7 175.9L77.1 175.6L77.1 174.9L75.7 175.1Z" fill="#ebc84e" stroke="#ebc84e"/>
<path d="M67.2 168.4L75.7 175.9L75.7 175.1L67.2 167.7Z" fill="#765d23" stroke="#765d23"/>
<path d="M67.2 167.7L68.5 167.4L77.1 174.9L75.7 175.1Z" fill="#f7de69" stroke="#f7de69"/>
<path d="M136.0 174.1L137.3 173.8L137.3 167.9L136.0 168.1Z" fill="#ebc64d" stroke="#ebc64d"/>
<path d="M126.6 166.7L136.0 174.1L136.0 168.1L126.6 160.8Z" fill="#765c22" stroke="#765c22"/>
<path d="M126.6 160.8L127.9 160.5L137.3 167.9L136.0 168.1Z" fill="#f7dc66" stroke="#f7dc66"/>
<path d="M134.7 174.3L136.0 174.1L136.0 166.1L134.6 166.4Z" fill="#ebc64c" stroke="#ebc64c"/>
<path d="M125.3 166.9L134.7 174.3L134.6 166.4L125.2 159.1Z" fill="#765c22" stroke="#765c22"/>
<path d="M125.2 159.1L126.6 158.8L136.0 166.1L134.6 166.4Z" fill="#f7dc66" stroke="#f7dc66"/>
<path d="M133.3 174.6L134.7 174.3L134.6 166.6L133.3 166.9Z" fill="#ebc64c" stroke="#ebc64c"/>
<path d="M124.0 167.1L133.3 174.6L133.3 166.9L123.9 159.5Z" fill="#765c22" stroke="#765c22"/>
<path d="M123.9 159.5L125.2 159.3L134.6 166.6L133.3 166.9Z" fill="#f7dc66" stroke="#f7dc66"/>
<path d="M132.0 174.8L133.3 174.6L133.3 160.7L132.0 160.9Z" fill="#ebc44b" stroke="#ebc44b"/>
<path d="M122.7 167.4L132.0 174.8L132.0 160.9L122.6 153.7Z" fill="#755b22" stroke="#755b22"/>
<path d="M122.6 153.7L123.9 153.4L133.3 160.7L132.0 160.9Z" fill="#f7da63" stroke="#f7da63"/>
<path d="M130.7 175.1L132.0 174.8L131.9 155.1L130.6 155.4Z" fill="#ebc34a" stroke="#ebc34a"/>
<path d="M121.4 167.6L130.7 175.1L130.6 155.4L121.2 148.2Z" fill="#755a21" stroke="#755a21"/>
<path d="M121.2 148.2L122.5 147.9L131.9 155.1L130.6 155.4Z" fill="#f6d961" stroke="#f6d961"/>
<path d="M129.4 175.3L130.7 175.1L130.6 161.2L129.3 161.5Z" fill="#ebc44b" stroke="#ebc44b"/>
<path d="M120.0 167.9L129.4 175.3L129.3 161.5L119.9 154.2Z" fill="#755b22" stroke="#755b22"/>
<path d="M119.9 154.2L121.3 154.0L130.6 161.2L129.3 161.5Z" fill="#f7da63" stroke="#f7da63"/>
<path d="M128.0 175.6L129.4 175.3L129.3 157.7L127.9 158.0Z" fill="#ebc34a" stroke="#ebc34a"/>
<path d="M118.7 168.1L128.0 175.6L127.9 158.0L118.6 150.7Z" fill="#755b22" stroke="#755b22"/>
<path d="M118.6 150.7L119.9 150.5L129.3 157.7L127.9 158.0Z" fill="#f7d962" stroke="#f7d962"/>
<path d="M126.7 175.8L128.0 175.6L128.0 160.6L126.6 160.9Z" fill="#ebc44b" stroke="#ebc44b"/>
<path d="M117.4 168.4L126.7 175.8L126.6 160.9L117.3 153.6Z" fill="#755b22" stroke="#755b22"/>
<path d="M117.3 153.6L118.6 153.4L128.0 160.6L126.6 160.9Z" fill="#f7da63" stroke="#f7da63"/>
<path d="M125.4 176.1L126.7 175.8L126.6 157.9L125.3 158.2Z" fill="#ebc34a" stroke="#ebc34a"/>
<path d="M116.1 168.6L125.4 176.1L125.3 158.2L116.0 150.9Z" fill="#755b22" stroke="#755b22"/>
<path d="M116.0 150.9L117.3 150.7L126.6 157.9L125.3 158.2Z" fill="#f7d962" stroke="#f7d962"/>
<path d="M124.0 176.4L125.4 176.1L125.3 158.7L123.9 159.0Z" fill="#ebc34a" stroke="#ebc34a"/>
<path d="M114.8 168.9L124.0 176.4L123.9 159.0L114.6 151.7Z" fill="#755b22" stroke="#755b22"/>
<path d="M114.6 151.7L116.0 151.5L125.3 158.7L123.9 159.0Z" fill="#f7d962" stroke="#f7d962"/>
<path d="M122.7 176.6L124.0 176.4L123.9 156.7L122.6 157.0Z" fill="#ebc34a" stroke="#ebc34a"/>
<path d="M113.5 169.1L122.7 176.6L122.6 157.0L113.3 149.7Z" fill="#755a21" stroke="#755a21"/>
<path d="M113.3 149.7L114.6 149.5L123.9 156.7L122.6 157.0Z" fill="#f6d961" stroke="#f6d961"/>
<path d="M121.4 176.9L122.7 176.6L122.6 155.7L121.2 155.9Z" fill="#ebc249" stroke="#ebc249"/>
<path d="M112.1 169.4L121.4 176.9L121.2 155.9L111.9 148.7Z" fill="#755a21" stroke="#755a21"/>
<path d="M111.9 148.7L113.3 148.5L122.6 155.7L121.2 155.9Z" fill="#f6d860" stroke="#f6d860"/>
<path d="M120.0 177.1L121.4 176.9L121.2 158.3L119.9 158.5Z" fill="#ebc34a" stroke="#ebc34a"/>
<path d="M110.8 169.6L120.0 177.1L119.9 158.5L110.6 151.2Z" fill="#755a21" stroke="#755a21"/>
<path d="M110.6 151.2L112.0 151.0L121.2 158.3L119.9 158.5Z" fill="#f6d961" stroke="#f6d961"/>
<path d="M118.7 177.4L120.0 177.1L119.9 157.2L118.5 157.4Z" fill="#ebc24a" stroke="#ebc24a"/>
<path d="M109.5 169.9L118.7 177.4L118.5 157.4L109.3 150.2Z" fill="#755a21" stroke="#755a21"/>
<path d="M109.3 150.2L110.6 149.9L119.9 157.2L118.5 157.4Z" fill="#f6d861" stroke="#f6d861"/>
<path d="M117.3 177.6L118.7 177.4L118.6 158.5L117.2 158.7Z" fill="#ebc34a" stroke="#ebc34a"/>
<path d="M108.2 170.1L117.3 177.6L117.2 158.7L108.0 151.5Z" fill="#755a21" stroke="#755a21"/>
<path d="M108.0 151.5L109.3 151.2L118.6 158.5L117.2 158.7Z" fill="#f6d961" stroke="#f6d961"/>
<path d="M116.0 177.9L117.3 177.6L117.2 161.9L115.9 162.1Z" fill="#ebc44a" stroke="#ebc44a"/>
<path d="M106.8 170.4L116.0 177.9L115.9 162.1L106.7 154.8Z" fill="#755b22" stroke="#755b22"/>
<path d="M106.7 154.8L108.0 154.6L117.2 161.9L115.9 162.1Z" fill="#f7da62" stroke="#f7da62"/>
<path d="M114.7 178.1L116.0 177.9L115.9 163.9L114.5 164.2Z" fill="#ebc44b" stroke="#ebc44b"/>
<path d="M105.5 170.6L114.7 178.1L114.5 164.2L105.4 156.8Z" fill="#755b22" stroke="#755b22"/>
<path d="M105.4 156.8L106.7 156.6L115.9 163.9L114.5 164.2Z" fill="#f7da63" stroke="#f7da63"/>
<path d="M113.3 178.4L114.7 178.1L114.6 165.5L113.2 165.7Z" fill="#ebc44b" stroke="#ebc44b"/>
<path d="M104.2 170.8L113.3 178.4L113.2 165.7L104.0 158.3Z" fill="#755b22" stroke="#755b22"/>
<path d="M104.0 158.3L105.4 158.1L114.6 165.5L113.2 165.7Z" fill="#f7da64" stroke="#f7da64"/>
<path d="M112.0 178.6L113.3 178.4L113.2 168.3L111.9 168.6Z" fill="#ebc54c" stroke="#ebc54c"/>
<path d="M102.9 171.1L112.0 178.6L111.9 168.6L102.7 161.1Z" fill="#755c22" stroke="#755c22"/>
<path d="M102.7 161.1L104.1 160.9L113.2 168.3L111.9 168.6Z" fill="#f7db65" stroke="#f7db65"/>
<path d="M110.6 178.9L112.0 178.6L111.9 165.8L110.5 166.0Z" fill="#ebc44b" stroke="#ebc44b"/>
<path d="M101.5 171.3L110.6 178.9L110.5 166.0L101.4 158.6Z" fill="#755b22" stroke="#755b22"/>
<path d="M101.4 158.6L102.7 158.4L111.9 165.8L110.5 166.0Z" fill="#f7da64" stroke="#f7da64"/>
<path d="M109.3 179.2L110.6 178.9L110.5 169.5L109.2 169.8Z" fill="#ebc54c" stroke="#ebc54c"/>
<path d="M100.2 171.6L109.3 179.2L109.2 169.8L100.1 162.3Z" fill="#755c22" stroke="#755c22"/>
<path d="M100.1 162.3L101.4 162.1L110.5 169.5L109.2 169.8Z" fill="#f7db65" stroke="#f7db65"/>
<path d="M107.9 179.4L109.3 179.2L109.2 169.8L107.8 170.1Z" fill="#ebc54c" stroke="#ebc54c"/>
<path d="M98.9 171.8L107.9 179.4L107.8 170.1L98.7 162.6Z" fill="#755c22" stroke="#755c22"/>
<path d="M98.7 162.6L100.1 162.4L109.2 169.8L107.8 170.1Z" fill="#f7db65" stroke="#f7db65"/>
<path d="M106.6 179.7L107.9 179.4L107.9 173.2L106.5 173.4Z" fill="#ebc64d" stroke="#ebc64d"/>
<path d="M97.5 172.1L106.6 179.7L106.5 173.4L97.4 165.9Z" fill="#765c22" stroke="#765c22"/>
<path d="M97.4 165.9L98.8 165.7L107.9 173.2L106.5 173.4Z" fill="#f7dc66" stroke="#f7dc66"/>
<path d="M105.2 179.9L106.6 179.7L106.5 172.9L105.2 173.2Z" fill="#ebc64c" stroke="#ebc64c"/>
<path d="M96.2 172.3L105.2 179.9L105.2 173.2L96.1 165.7Z" fill="#765c22" stroke="#765c22"/>
<path d="M96.1 165.7L97.4 165.4L106.5 172.9L105.2 173.2Z" fill="#f7dc66" stroke="#f7dc66"/>
<path d="M103.9 180.2L105.2 179.9L105.2 174.9L103.8 175.1Z" fill="#ebc74d" stroke="#ebc74d"/>
<path d="M94.9 172.6L103.9 180.2L103.8 175.1L94.8 167.6Z" fill="#765c23" stroke="#765c23"/>
<path d="M94.8 167.6L96.1 167.3L105.2 174.9L103.8 175.1Z" fill="#f7dd67" stroke="#f7dd67"/>
<path d="M102.5 180.4L103.9 180.2L103.8 177.0L102.5 177.3Z" fill="#ebc74d" stroke="#ebc74d"/>
<path d="M93.5 172.8L102.5 180.4L102.5 177.3L93.5 169.7Z" fill="#765d23" stroke="#765d23"/>
<path d="M93.5 169.7L94.8 169.5L103.8 177.0L102.5 177.3Z" fill="#f7dd68" stroke="#f7dd68"/>
<path d="M101.2 180.7L102.5 180.4L102.5 177.6L101.1 177.9Z" fill="#ebc74d" stroke="#ebc74d"/>
<path d="M92.2 173.1L101.2 180.7L101.1 177.9L92.1 170.3Z" fill="#765d23" stroke="#765d23"/>
<path d="M92.1 170.3L93.5 170.0L102.5 177.6L101.1 177.9Z" fill="#f7dd68" stroke="#f7dd68"/>
<path d="M99.8 181.0L101.2 180.7L101.1 178.1L99.8 178.4Z" fill="#ebc74d" stroke="#ebc74d"/>
<path d="M90.8 173.3L99.8 181.0L99.8 178.4L90.8 170.8Z" fill="#765d23" stroke="#765d23"/>
<path d="M90.8 170.8L92.1 170.5L101.1 178.1L99.8 178.4Z" fill="#f7dd68" stroke="#f7dd68"/>
<path d="M98.5 181.2L99.8 181.0L99.8 180.0L98.4 180.2Z" fill="#ebc84e" stroke="#ebc84e"/>
<path d="M89.5 173.6L98.5 181.2L98.4 180.2L89.5 172.6Z" fill="#765d23" stroke="#765d23"/>
<path d="M89.5 172.6L90.8 172.4L99.8 180.0L98.4 180.2Z" fill="#f7de69" stroke="#f7de69"/>
<path d="M88.9 183.0L90.3 182.8L90.3 182.0L88.9 182.2Z" fill="#ebc84e" stroke="#ebc84e"/>
<path d="M80.1 175.4L88.9 183.0L88.9 182.2L80.0 174.6Z" fill="#765d23" stroke="#765d23"/>
<path d="M80.0 174.6L81.4 174.3L90.3 182.0L88.9 182.2Z" fill="#f7de69" stroke="#f7de69"/>
<path d="M82.1 184.3L83.4 184.1L83.4 183.5L82.0 183.8Z" fill="#ebc84e" stroke="#ebc84e"/>
<path d="M73.3 176.6L82.1 184.3L82.0 183.8L73.3 176.1Z" fill="#765d23" stroke="#765d23"/>
<path d="M73.3 176.1L74.6 175.8L83.4 183.5L82.0 183.8Z" fill="#f7de69" stroke="#f7de69"/>
<path d="M68.2 187.0L69.6 186.7L69.6 186.1L68.2 186.4Z" fill="#ebc84e" stroke="#ebc84e"/>
<path d="M59.6 179.2L68.2 187.0L68.2 186.4L59.6 178.6Z" fill="#765d23" stroke="#765d23"/>
<path d="M59.6 178.6L61.0 178.3L69.6 186.1L68.2 186.4Z" fill="#f7de69" stroke="#f7de69"/>
<path d="M169.9 177.3L171.2 177.1L171.2 171.9L169.9 172.1Z" fill="#ebc74d" stroke="#ebc74d"/>
<path d="M159.9 169.8L169.9 177.3L169.9 172.1L159.9 164.7Z" fill="#765c23" stroke="#765c23"/>
<path d="M159.9 164.7L161.2 164.4L171.2 171.9L169.9 172.1Z" fill="#f7dd67" stroke="#f7dd67"/>
<path d="M168.6 177.6L169.9 177.3L169.9 170.2L168.6 170.4Z" fill="#ebc64c" stroke="#ebc64c"/>
<path d="M158.6 170.1L168.6 177.6L168.6 170.4L158.6 163.0Z" fill="#765c22" stroke="#765c22"/>
<path d="M158.6 163.0L159.9 162.8L169.9 170.2L168.6 170.4Z" fill="#f7dc66" stroke="#f7dc66"/>
<path d="M167.2 177.9L168.6 177.6L168.6 170.5L167.3 170.8Z" fill="#ebc64c" stroke="#ebc64c"/>
<path d="M157.3 170.3L167.2 177.9L167.3 170.8L157.3 163.3Z" fill="#765c22" stroke="#765c22"/>
<path d="M157.3 163.3L158.6 163.1L168.6 170.5L167.3 170.8Z" fill="#f7dc66" stroke="#f7dc66"/>
<path d="M165.9 178.1L167.2 177.9L167.3 168.6L166.0 168.9Z" fill="#ebc54c" stroke="#ebc54c"/>
<path d="M156.0 170.6L165.9 178.1L166.0 168.9L156.0 161.5Z" fill="#755c22" stroke="#755c22"/>
<path d="M156.0 161.5L157.3 161.2L167.3 168.6L166.0 168.9Z" fill="#f7db65" stroke="#f7db65"/>
<path d="M164.6 178.4L165.9 178.1L166.0 169.7L164.6 170.0Z" fill="#ebc64c" stroke="#ebc64c"/>
<path d="M154.7 170.8L164.6 178.4L164.6 170.0L154.7 162.5Z" fill="#765c22" stroke="#765c22"/>
<path d="M154.7 162.5L156.0 162.3L166.0 169.7L164.6 170.0Z" fill="#f7dc66" stroke="#f7dc66"/>
<path d="M163.3 178.6L164.6 178.4L164.7 169.0L163.3 169.2Z" fill="#ebc54c" stroke="#ebc54c"/>
<path d="M153.4 171.1L163.3 178.6L163.3 169.2L153.4 161.8Z" fill="#755c22" stroke="#755c22"/>
<path d="M153.4 161.8L154.7 161.5L164.7 169.0L163.3 169.2Z" fill="#f7db65" stroke="#f7db65"/>
<path d="M162.0 178.9L163.3 178.6L163.3 166.3L162.0 166.5Z" fill="#ebc54b" stroke="#ebc54b"/>
<path d="M152.1 171.3L162.0 178.9L162.0 166.5L152.1 159.1Z" fill="#755b22" stroke="#755b22"/>
<path d="M152.1 159.1L153.4 158.9L163.3 166.3L162.0 166.5Z" fill="#f7db64" stroke="#f7db64"/>
<path d="M160.6 179.1L162.0 178.9L162.0 162.0L160.7 162.3Z" fill="#ebc34a" stroke="#ebc34a"/>
<path d="M150.8 171.6L160.6 179.1L160.7 162.3L150.8 154.9Z" fill="#755b22" stroke="#755b22"/>
<path d="M150.8 154.9L152.1 154.7L162.0 162.0L160.7 162.3Z" fill="#f7d962" stroke="#f7d962"/>
<path d="M159.3 179.4L160.6 179.1L160.7 160.8L159.4 161.1Z" fill="#ebc34a" stroke="#ebc34a"/>
<path d="M149.5 171.8L159.3 179.4L159.4 161.1L149.5 153.8Z" fill="#755a21" stroke="#755a21"/>
<path d="M149.5 153.8L150.8 153.5L160.7 160.8L159.4 161.1Z" fill="#f6d961" stroke="#f6d961"/>
<path d="M158.0 179.7L159.3 179.4L159.4 157.2L158.1 157.4Z" fill="#ebc249" stroke="#ebc249"/>
<path d="M148.2 172.1L158.0 179.7L158.1 157.4L148.2 150.1Z" fill="#755a21" stroke="#755a21"/>
<path d="M148.2 150.1L149.5 149.9L159.4 157.2L158.1 157.4Z" fill="#f6d860" stroke="#f6d860"/>
<path d="M156.7 179.9L158.0 179.7L158.1 155.7L156.7 155.9Z" fill="#ebc149" stroke="#ebc149"/>
<path d="M146.8 172.3L156.7 179.9L156.7 155.9L146.9 148.6Z" fill="#755a21" stroke="#755a21"/>
<path d="M146.9 148.6L148.2 148.4L158.1 155.7L156.7 155.9Z" fill="#f6d75f" stroke="#f6d75f"/>
<path d="M155.3 180.2L156.7 179.9L156.7 159.6L155.4 159.8Z" fill="#ebc249" stroke="#ebc249"/>
<path d="M145.5 172.6L155.3 180.2L155.4 159.8L145.5 152.5Z" fill="#755a21" stroke="#755a21"/>
<path d="M145.5 152.5L146.9 152.2L156.7 159.6L155.4 159.8Z" fill="#f6d861" stroke="#f6d861"/>
<path d="M154.0 180.4L155.3 180.2L155.4 157.0L154.1 157.2Z" fill="#ebc249" stroke="#ebc249"/>
<path d="M144.2 172.8L154.0 180.4L154.1 157.2L144.2 149.9Z" fill="#755a21" stroke="#755a21"/>
<path d="M144.2 149.9L145.5 149.7L155.4 157.0L154.1 157.2Z" fill="#f6d85f" stroke="#f6d85f"/>
<path d="M152.7 180.7L154.0 180.4L154.1 158.3L152.7 158.5Z" fill="#ebc249" stroke="#ebc249"/>
<path d="M142.9 173.1L152.7 180.7L152.7 158.5L142.9 151.2Z" fill="#755a21" stroke="#755a21"/>
<path d="M142.9 151.2L144.2 151.0L154.1 158.3L152.7 158.5Z" fill="#f6d860" stroke="#f6d860"/>
<path d="M151.3 180.9L152.7 180.7L152.7 157.6L151.4 157.9Z" fill="#ebc249" stroke="#ebc249"/>
<path d="M141.6 173.3L151.3 180.9L151.4 157.9L141.6 150.5Z" fill="#755a21" stroke="#755a21"/>
<path d="M141.6 150.5L142.9 150.3L152.7 157.6L151.4 157.9Z" fill="#f6d85f" stroke="#f6d85f"/>
<path d="M150.0 181.2L151.3 180.9L151.4 161.4L150.0 161.7Z" fill="#ebc34a" stroke="#ebc34a"/>
<path d="M140.3 173.6L150.0 181.2L150.0 161.7L140.2 154.3Z" fill="#755a21" stroke="#755a21"/>
<path d="M140.2 154.3L141.6 154.1L151.4 161.4L150.0 161.7Z" fill="#f6d961" stroke="#f6d961"/>
<path d="M148.7 181.5L150.0 181.2L150.0 168.3L148.7 168.6Z" fill="#ebc44b" stroke="#ebc44b"/>
<path d="M138.9 173.8L148.7 181.5L148.7 168.6L138.9 161.1Z" fill="#755b22" stroke="#755b22"/>
<path d="M138.9 161.1L140.2 160.9L150.0 168.3L148.7 168.6Z" fill="#f7da64" stroke="#f7da64"/>
<path d="M147.3 181.7L148.7 181.5L148.7 169.6L147.3 169.8Z" fill="#ebc54b" stroke="#ebc54b"/>
<path d="M137.6 174.1L147.3 181.7L147.3 169.8L137.6 162.3Z" fill="#755b22" stroke="#755b22"/>
<path d="M137.6 162.3L138.9 162.1L148.7 169.6L147.3 169.8Z" fill="#f7db64" stroke="#f7db64"/>
<path d="M146.0 182.0L147.3 181.7L147.3 167.1L146.0 167.4Z" fill="#ebc44b" stroke="#ebc44b"/>
<path d="M136.3 174.3L146.0 182.0L146.0 167.4L136.3 159.9Z" fill="#755b22" stroke="#755b22"/>
<path d="M136.3 159.9L137.6 159.7L147.3 167.1L146.0 167.4Z" fill="#f7da63" stroke="#f7da63"/>
<path d="M144.7 182.2L146.0 182.0L146.0 176.8L144.6 177.0Z" fill="#ebc74d" stroke="#ebc74d"/>
<path d="M135.0 174.6L144.7 182.2L144.6 177.0L135.0 169.4Z" fill="#765c23" stroke="#765c23"/>
<path d="M135.0 169.4L136.3 169.2L146.0 176.8L144.6 177.0Z" fill="#f7dd67" stroke="#f7dd67"/>
<path d="M143.3 182.5L144.7 182.2L144.6 176.9L143.3 177.1Z" fill="#ebc74d" stroke="#ebc74d"/>
<path d="M133.6 174.8L143.3 182.5L143.3 177.1L133.6 169.5Z" fill="#765c23" stroke="#765c23"/>
<path d="M133.6 169.5L135.0 169.3L144.6 176.9L143.3 177.1Z" fill="#f7dd67" stroke="#f7dd67"/>
<path d="M142.0 182.8L143.3 182.5L143.3 173.7L142.0 174.0Z" fill="#ebc64c" stroke="#ebc64c"/>
<path d="M132.3 175.1L142.0 182.8L142.0 174.0L132.3 166.4Z" fill="#765c22" stroke="#765c22"/>
<path d="M132.3 166.4L133.6 166.1L143.3 173.7L142.0 174.0Z" fill="#f7dc65" stroke="#f7dc65"/>
<path d="M140.6 183.0L142.0 182.8L142.0 174.6L140.6 174.9Z" fill="#ebc64c" stroke="#ebc64c"/>
<path d="M131.0 175.3L140.6 183.0L140.6 174.9L131.0 167.3Z" fill="#765c22" stroke="#765c22"/>
<path d="M131.0 167.3L132.3 167.0L142.0 174.6L140.6 174.9Z" fill="#f7dc66" stroke="#f7dc66"/>
<path d="M139.3 183.3L140.6 183.0L140.6 176.0L139.3 176.3Z" fill="#ebc64c" stroke="#ebc64c"/>
<path d="M129.7 175.6L139.3 183.3L139.3 176.3L129.6 168.7Z" fill="#765c22" stroke="#765c22"/>
<path d="M129.6 168.7L131.0 168.4L140.6 176.0L139.3 176.3Z" fill="#f7dc66" stroke="#f7dc66"/>
<path d="M137.9 183.5L139.3 183.3L139.3 175.2L137.9 175.5Z" fill="#ebc64c" stroke="#ebc64c"/>
<path d="M128.3 175.8L137.9 183.5L137.9 175.5L128.3 167.9Z" fill="#765c22" stroke="#765c22"/>
<path d="M128.3 167.9L129.6 167.7L139.3 175.2L137.9 175.5Z" fill="#f7dc66" stroke="#f7dc66"/>
<path d="M136.6 183.8L137.9 183.5L137.9 174.6L136.6 174.8Z" fill="#ebc64c" stroke="#ebc64c"/>
<path d="M127.0 176.1L136.6 183.8L136.6 174.8L127.0 167.3Z" fill="#765c22" stroke="#765c22"/>
<path d="M127.0 167.3L128.3 167.0L137.9 174.6L136.6 174.8Z" fill="#f7dc65" stroke="#f7dc65"/>
<path d="M135.2 184.1L136.6 183.8L136.6 175.7L135.2 175.9Z" fill="#ebc64c" stroke="#ebc64c"/>
<path d="M125.7 176.3L135.2 184.1L135.2 175.9L125.6 168.3Z" fill="#765c22" stroke="#765c22"/>
<path d="M125.6 168.3L127.0 168.1L136.6 175.7L135.2 175.9Z" fill="#f7dc66" stroke="#f7dc66"/>
<path d="M133.9 184.3L135.2 184.1L135.2 177.6L133.9 177.9Z" fill="#ebc64d" stroke="#ebc64d"/>
<path d="M124.3 176.6L133.9 184.3L133.9 177.9L124.3 170.2Z" fill="#765c22" stroke="#765c22"/>
<path d="M124.3 170.2L125.6 170.0L135.2 177.6L133.9 177.9Z" fill="#f7dc66" stroke="#f7dc66"/>
<path d="M132.5 184.6L133.9 184.3L133.9 178.2L132.5 178.4Z" fill="#ebc64d" stroke="#ebc64d"/>
<path d="M123.0 176.9L132.5 184.6L132.5 178.4L123.0 170.8Z" fill="#765c22" stroke="#765c22"/>
<path d="M123.0 170.8L124.3 170.5L133.9 178.2L132.5 178.4Z" fill="#f7dc66" stroke="#f7dc66"/>
<path d="M131.2 184.8L132.5 184.6L132.5 179.4L131.2 179.7Z" fill="#ebc74d" stroke="#ebc74d"/>
<path d="M121.7 177.1L131.2 184.8L131.2 179.7L121.6 172.0Z" fill="#765c23" stroke="#765c23"/>
<path d="M121.6 172.0L123.0 171.7L132.5 179.4L131.2 179.7Z" fill="#f7dd67" stroke="#f7dd67"/>
<path d="M129.8 185.1L131.2 184.8L131.2 180.7L129.8 181.0Z" fill="#ebc74d" stroke="#ebc74d"/>
<path d="M120.3 177.4L129.8 185.1L129.8 181.0L120.3 173.3Z" fill="#765c23" stroke="#765c23"/>
<path d="M120.3 173.3L121.6 173.0L131.2 180.7L129.8 181.0Z" fill="#f7dd67" stroke="#f7dd67"/>
<path d="M128.5 185.4L129.8 185.1L129.8 180.8L128.5 181.1Z" fill="#ebc74d" stroke="#ebc74d"/>
<path d="M119.0 177.6L128.5 185.4L128.5 181.1L119.0 173.4Z" fill="#765c23" stroke="#765c23"/>
<path d="M119.0 173.4L120.3 173.1L129.8 180.8L128.5 181.1Z" fill="#f7dd67" stroke="#f7dd67"/>
<path d="M208.2 179.9L209.5 179.6L209.6 170.7L208.3 171.0Z" fill="#ebc64c" stroke="#ebc64c"/>
<path d="M197.6 172.3L208.2 179.9L208.3 171.0L197.7 163.5Z" fill="#765c22" stroke="#765c22"/>
<path d="M197.7 163.5L199.0 163.3L209.6 170.7L208.3 171.0Z" fill="#f7dc65" stroke="#f7dc65"/>
<path d="M205.5 180.4L206.9 180.1L207.0 172.2L205.7 172.5Z" fill="#ebc64c" stroke="#ebc64c"/>
<path d="M195.0 172.8L205.5 180.4L205.7 172.5L195.1 165.0Z" fill="#765c22" stroke="#765c22"/>
<path d="M195.1 165.0L196.4 164.7L207.0 172.2L205.7 172.5Z" fill="#f7dc66" stroke="#f7dc66"/>
<path d="M202.9 180.9L204.2 180.7L204.4 170.7L203.1 171.0Z" fill="#ebc54c" stroke="#ebc54c"/>
<path d="M192.4 173.3L202.9 180.9L203.1 171.0L192.5 163.5Z" fill="#755c22" stroke="#755c22"/>
<path d="M192.5 163.5L193.8 163.2L204.4 170.7L203.1 171.0Z" fill="#f7db65" stroke="#f7db65"/>
<path d="M196.4 182.2L197.7 182.0L198.0 157.4L196.7 157.6Z" fill="#ebc149" stroke="#ebc149"/>
<path d="M185.9 174.5L196.4 182.2L196.7 157.6L186.2 150.3Z" fill="#755a21" stroke="#755a21"/>
<path d="M186.2 150.3L187.5 150.0L198.0 157.4L196.7 157.6Z" fill="#f6d75f" stroke="#f6d75f"/>
<path d="M195.1 182.5L196.4 182.2L196.7 157.0L195.4 157.2Z" fill="#ebc148" stroke="#ebc148"/>
<path d="M184.6 174.8L195.1 182.5L195.4 157.2L184.9 149.9Z" fill="#755a21" stroke="#755a21"/>
<path d="M184.9 149.9L186.2 149.6L196.7 157.0L195.4 157.2Z" fill="#f6d75f" stroke="#f6d75f"/>
<path d="M193.7 182.7L195.1 182.5L195.4 158.8L194.0 159.0Z" fill="#ebc149" stroke="#ebc149"/>
<path d="M183.3 175.1L193.7 182.7L194.0 159.0L183.5 151.6Z" fill="#755a21" stroke="#755a21"/>
<path d="M183.5 151.6L184.9 151.4L195.4 158.8L194.0 159.0Z" fill="#f6d75f" stroke="#f6d75f"/>
<path d="M192.4 183.0L193.7 182.7L194.0 161.9L192.7 162.2Z" fill="#ebc249" stroke="#ebc249"/>
<path d="M182.0 175.3L192.4 183.0L192.7 162.2L182.2 154.8Z" fill="#755a21" stroke="#755a21"/>
<path d="M182.2 154.8L183.5 154.5L194.0 161.9L192.7 162.2Z" fill="#f6d860" stroke="#f6d860"/>
<path d="M191.1 183.3L192.4 183.0L192.6 166.9L191.3 167.1Z" fill="#ebc44a" stroke="#ebc44a"/>
<path d="M180.7 175.6L191.1 183.3L191.3 167.1L180.8 159.6Z" fill="#755b22" stroke="#755b22"/>
<path d="M180.8 159.6L182.2 159.4L192.6 166.9L191.3 167.1Z" fill="#f7da62" stroke="#f7da62"/>
<path d="M189.8 183.5L191.1 183.3L191.3 165.8L190.0 166.0Z" fill="#ebc34a" stroke="#ebc34a"/>
<path d="M179.4 175.8L189.8 183.5L190.0 166.0L179.5 158.5Z" fill="#755b22" stroke="#755b22"/>
<path d="M179.5 158.5L180.9 158.3L191.3 165.8L190.0 166.0Z" fill="#f7d962" stroke="#f7d962"/>
<path d="M188.4 183.8L189.8 183.5L189.9 168.8L188.6 169.1Z" fill="#ebc44b" stroke="#ebc44b"/>
<path d="M178.1 176.1L188.4 183.8L188.6 169.1L178.2 161.6Z" fill="#755b22" stroke="#755b22"/>
<path d="M178.2 161.6L179.5 161.3L189.9 168.8L188.6 169.1Z" fill="#f7da63" stroke="#f7da63"/>
<path d="M187.1 184.0L188.4 183.8L188.6 169.2L187.3 169.5Z" fill="#ebc44b" stroke="#ebc44b"/>
<path d="M176.8 176.3L187.1 184.0L187.3 169.5L176.9 161.9Z" fill="#755b22" stroke="#755b22"/>
<path d="M176.9 161.9L178.2 161.7L188.6 169.2L187.3 169.5Z" fill="#f7da63" stroke="#f7da63"/>
<path d="M185.8 184.3L187.1 184.0L187.2 175.5L185.9 175.8Z" fill="#ebc64c" stroke="#ebc64c"/>
<path d="M175.5 176.6L185.8 184.3L185.9 175.8L175.5 168.2Z" fill="#765c22" stroke="#765c22"/>
<path d="M175.5 168.2L176.8 167.9L187.2 175.5L185.9 175.8Z" fill="#f7dc65" stroke="#f7dc65"/>
<path d="M184.5 184.6L185.8 184.3L185.9 174.7L184.6 175.0Z" fill="#ebc54c" stroke="#ebc54c"/>
<path d="M174.1 176.8L184.5 184.6L184.6 175.0L174.2 167.4Z" fill="#755c22" stroke="#755c22"/>
<path d="M174.2 167.4L175.5 167.1L185.9 174.7L184.6 175.0Z" fill="#f7db65" stroke="#f7db65"/>
<path d="M183.1 184.8L184.5 184.6L184.5 177.4L183.2 177.6Z" fill="#ebc64c" stroke="#ebc64c"/>
<path d="M172.8 177.1L183.1 184.8L183.2 177.6L172.9 170.0Z" fill="#765c22" stroke="#765c22"/>
<path d="M172.9 170.0L174.2 169.7L184.5 177.4L183.2 177.6Z" fill="#f7dc66" stroke="#f7dc66"/>
<path d="M181.8 185.1L183.1 184.8L183.2 180.6L181.9 180.8Z" fill="#ebc74d" stroke="#ebc74d"/>
<path d="M171.5 177.3L181.8 185.1L181.9 180.8L171.5 173.1Z" fill="#765c23" stroke="#765c23"/>
<path d="M171.5 173.1L172.9 172.9L183.2 180.6L181.9 180.8Z" fill="#f7dd67" stroke="#f7dd67"/>
<path d="M220.8 187.7L222.1 187.4L222.3 177.7L221.0 177.9Z" fill="#ebc54c" stroke="#ebc54c"/>
<path d="M209.8 179.9L220.8 187.7L221.0 177.9L210.0 170.2Z" fill="#755c22" stroke="#755c22"/>
<path d="M210.0 170.2L211.3 170.0L222.3 177.7L221.0 177.9Z" fill="#f7db65" stroke="#f7db65"/>
<path d="M219.4 188.0L220.8 187.7L221.0 173.7L219.7 174.0Z" fill="#ebc44b" stroke="#ebc44b"/>
<path d="M208.5 180.1L219.4 188.0L219.7 174.0L208.7 166.3Z" fill="#755b22" stroke="#755b22"/>
<path d="M208.7 166.3L210.0 166.1L221.0 173.7L219.7 174.0Z" fill="#f7da63" stroke="#f7da63"/>
<path d="M218.1 188.2L219.4 188.0L219.7 175.0L218.4 175.3Z" fill="#ebc44b" stroke="#ebc44b"/>
<path d="M207.2 180.4L218.1 188.2L218.4 175.3L207.4 167.6Z" fill="#755b22" stroke="#755b22"/>
<path d="M207.4 167.6L208.7 167.4L219.7 175.0L218.4 175.3Z" fill="#f7da64" stroke="#f7da64"/>
<path d="M216.8 188.5L218.1 188.2L218.4 174.5L217.1 174.8Z" fill="#ebc44b" stroke="#ebc44b"/>
<path d="M205.9 180.7L216.8 188.5L217.1 174.8L206.1 167.1Z" fill="#755b22" stroke="#755b22"/>
<path d="M206.1 167.1L207.4 166.9L218.4 174.5L217.1 174.8Z" fill="#f7da63" stroke="#f7da63"/>
<path d="M215.5 188.8L216.8 188.5L217.0 176.4L215.7 176.7Z" fill="#ebc54b" stroke="#ebc54b"/>
<path d="M204.6 180.9L215.5 188.8L215.7 176.7L204.8 169.0Z" fill="#755b22" stroke="#755b22"/>
<path d="M204.8 169.0L206.1 168.7L217.0 176.4L215.7 176.7Z" fill="#f7db64" stroke="#f7db64"/>
<path d="M212.8 189.3L214.1 189.0L214.6 163.3L213.3 163.6Z" fill="#ebc148" stroke="#ebc148"/>
<path d="M202.0 181.4L212.8 189.3L213.3 163.6L202.4 156.0Z" fill="#755a21" stroke="#755a21"/>
<path d="M202.4 156.0L203.7 155.8L214.6 163.3L213.3 163.6Z" fill="#f6d75f" stroke="#f6d75f"/>
<path d="M211.5 189.6L212.8 189.3L213.2 166.0L211.9 166.3Z" fill="#ebc249" stroke="#ebc249"/>
<path d="M200.7 181.7L211.5 189.6L211.9 166.3L201.0 158.7Z" fill="#755a21" stroke="#755a21"/>
<path d="M201.0 158.7L202.3 158.4L213.2 166.0L211.9 166.3Z" fill="#f6d860" stroke="#f6d860"/>
<path d="M210.2 189.8L211.5 189.6L211.9 167.7L210.5 168.0Z" fill="#ebc249" stroke="#ebc249"/>
<path d="M199.3 181.9L210.2 189.8L210.5 168.0L199.7 160.4Z" fill="#755a21" stroke="#755a21"/>
<path d="M199.7 160.4L201.0 160.1L211.9 167.7L210.5 168.0Z" fill="#f6d860" stroke="#f6d860"/>
<path d="M208.8 190.1L210.2 189.8L210.4 174.2L209.1 174.4Z" fill="#ebc44b" stroke="#ebc44b"/>
<path d="M198.0 182.2L208.8 190.1L209.1 174.4L198.2 166.7Z" fill="#755b22" stroke="#755b22"/>
<path d="M198.2 166.7L199.6 166.5L210.4 174.2L209.1 174.4Z" fill="#f7da63" stroke="#f7da63"/>
<path d="M207.5 190.4L208.8 190.1L209.1 175.0L207.8 175.3Z" fill="#ebc44b" stroke="#ebc44b"/>
<path d="M196.7 182.5L207.5 190.4L207.8 175.3L196.9 167.6Z" fill="#755b22" stroke="#755b22"/>
<path d="M196.9 167.6L198.2 167.3L209.1 175.0L207.8 175.3Z" fill="#f7da63" stroke="#f7da63"/>
<path d="M206.2 190.6L207.5 190.4L207.7 178.8L206.4 179.0Z" fill="#ebc54b" stroke="#ebc54b"/>
<path d="M195.4 182.7L206.2 190.6L206.4 179.0L195.5 171.3Z" fill="#755b22" stroke="#755b22"/>
<path d="M195.5 171.3L196.9 171.0L207.7 178.8L206.4 179.0Z" fill="#f7db64" stroke="#f7db64"/>
<path d="M204.8 190.9L206.2 190.6L206.3 183.9L204.9 184.2Z" fill="#ebc64d" stroke="#ebc64d"/>
<path d="M194.1 183.0L204.8 190.9L204.9 184.2L194.2 176.3Z" fill="#765c22" stroke="#765c22"/>
<path d="M194.2 176.3L195.5 176.1L206.3 183.9L204.9 184.2Z" fill="#f7dc66" stroke="#f7dc66"/>
<path d="M239.1 194.7L240.4 194.4L240.7 180.5L239.4 180.8Z" fill="#ebc44b" stroke="#ebc44b"/>
<path d="M227.7 186.6L239.1 194.7L239.4 180.8L228.0 173.0Z" fill="#755b22" stroke="#755b22"/>
<path d="M228.0 173.0L229.3 172.7L240.7 180.5L239.4 180.8Z" fill="#f7da63" stroke="#f7da63"/>
<path d="M237.7 195.0L239.1 194.7L239.5 178.5L238.1 178.8Z" fill="#ebc44b" stroke="#ebc44b"/>
<path d="M226.4 186.9L237.7 195.0L238.1 178.8L226.7 170.9Z" fill="#755b22" stroke="#755b22"/>
<path d="M226.7 170.9L228.0 170.7L239.5 178.5L238.1 178.8Z" fill="#f7da62" stroke="#f7da62"/>
<path d="M236.4 195.2L237.7 195.0L238.1 179.9L236.8 180.2Z" fill="#ebc44b" stroke="#ebc44b"/>
<path d="M225.1 187.2L236.4 195.2L236.8 180.2L225.4 172.4Z" fill="#755b22" stroke="#755b22"/>
<path d="M225.4 172.4L226.7 172.1L238.1 179.9L236.8 180.2Z" fill="#f7da63" stroke="#f7da63"/>
<path d="M232.4 196.1L233.7 195.8L234.1 180.2L232.8 180.5Z" fill="#ebc44b" stroke="#ebc44b"/>
<path d="M221.1 188.0L232.4 196.1L232.8 180.5L221.4 172.6Z" fill="#755b22" stroke="#755b22"/>
<path d="M221.4 172.6L222.7 172.3L234.1 180.2L232.8 180.5Z" fill="#f7da63" stroke="#f7da63"/>
<path d="M228.4 196.9L229.7 196.6L230.1 182.2L228.7 182.5Z" fill="#ebc44b" stroke="#ebc44b"/>
<path d="M217.1 188.8L228.4 196.9L228.7 182.5L217.4 174.6Z" fill="#755b22" stroke="#755b22"/>
<path d="M217.4 174.6L218.7 174.3L230.1 182.2L228.7 182.5Z" fill="#f7da63" stroke="#f7da63"/>
<path d="M224.4 197.7L225.7 197.4L226.5 160.3L225.2 160.6Z" fill="#ebbe46" stroke="#ebbe46"/>
<path d="M213.2 189.6L224.4 197.7L225.2 160.6L213.8 152.9Z" fill="#745820" stroke="#745820"/>
<path d="M213.8 152.9L215.2 152.7L226.5 160.3L225.2 160.6Z" fill="#f6d45a" stroke="#f6d45a"/>
<path d="M223.0 198.0L224.4 197.7L224.9 172.7L223.6 173.0Z" fill="#ebc149" stroke="#ebc149"/>
<path d="M211.8 189.8L223.0 198.0L223.6 173.0L212.3 165.2Z" fill="#755a21" stroke="#755a21"/>
<path d="M212.3 165.2L213.6 164.9L224.9 172.7L223.6 173.0Z" fill="#f6d75f" stroke="#f6d75f"/>
<path d="M221.7 198.3L223.0 198.0L223.3 185.5L221.9 185.8Z" fill="#ebc54b" stroke="#ebc54b"/>
<path d="M210.5 190.1L221.7 198.3L221.9 185.8L210.7 177.8Z" fill="#755b22" stroke="#755b22"/>
<path d="M210.7 177.8L212.1 177.5L223.3 185.5L221.9 185.8Z" fill="#f7db64" stroke="#f7db64"/>
<path d="M251.2 203.3L252.5 203.0L256.9 53.0L255.5 53.2Z" fill="#b93750" stroke="#b93750"/>
<path d="M239.4 194.9L251.2 203.3L255.5 53.2L243.2 47.0Z" fill="#4b1923" stroke="#4b1923"/>
<path d="M243.2 47.0L244.6 46.8L256.9 53.0L255.5 53.2Z" fill="#9f2d4b" stroke="#9f2d4b"/>
<path d="M245.8 204.4L247.1 204.1L249.4 121.3L248.1 121.6Z" fill="#f08728" stroke="#f08728"/>
<path d="M234.1 196.0L245.8 204.4L248.1 121.6L236.1 114.4Z" fill="#6e3911" stroke="#6e3911"/>
<path d="M236.1 114.4L237.4 114.1L249.4 121.3L248.1 121.6Z" fill="#f59632" stroke="#f59632"/>
<path d="M236.3 206.4L237.7 206.1L238.9 158.4L237.5 158.7Z" fill="#ecb33b" stroke="#ecb33b"/>
<path d="M224.7 198.0L236.3 206.4L237.5 158.7L225.8 150.9Z" fill="#70511c" stroke="#70511c"/>
<path d="M225.8 150.9L227.1 150.7L238.9 158.4L237.5 158.7Z" fill="#f6c64d" stroke="#f6c64d"/>
<path d="M235.0 206.7L236.3 206.4L237.0 179.5L235.6 179.7Z" fill="#ebc148" stroke="#ebc148"/>
<path d="M223.4 198.2L235.0 206.7L235.6 179.7L224.0 171.7Z" fill="#755921" stroke="#755921"/>
<path d="M224.0 171.7L225.3 171.4L237.0 179.5L235.6 179.7Z" fill="#f6d75e" stroke="#f6d75e"/>
<path d="M233.6 206.9L235.0 206.7L235.3 192.9L233.9 193.1Z" fill="#ebc44b" stroke="#ebc44b"/>
<path d="M222.1 198.5L233.6 206.9L233.9 193.1L222.3 184.9Z" fill="#755b22" stroke="#755b22"/>
<path d="M222.3 184.9L223.7 184.6L235.3 192.9L233.9 193.1Z" fill="#f7da64" stroke="#f7da64"/>
<path d="M232.2 207.2L233.6 206.9L233.7 204.5L232.3 204.8Z" fill="#ebc74d" stroke="#ebc74d"/>
<path d="M220.7 198.8L232.2 207.2L232.3 204.8L220.8 196.4Z" fill="#765d23" stroke="#765d23"/>
<path d="M220.8 196.4L222.1 196.1L233.7 204.5L232.3 204.8Z" fill="#f7dd68" stroke="#f7dd68"/>
<path d="M229.5 207.8L230.9 207.5L230.9 204.2L229.6 204.5Z" fill="#ebc74d" stroke="#ebc74d"/>
<path d="M218.0 199.3L229.5 207.8L229.6 204.5L218.1 196.1Z" fill="#765d23" stroke="#765d23"/>
<path d="M218.1 196.1L219.4 195.8L230.9 204.2L229.6 204.5Z" fill="#f7dd68" stroke="#f7dd68"/>
<path d="M263.7 212.1L265.0 211.8L269.4 79.4L268.0 79.7Z" fill="#cb4530" stroke="#cb4530"/>
<path d="M251.6 203.5L263.7 212.1L268.0 79.7L255.3 72.9Z" fill="#5c1e1b" stroke="#5c1e1b"/>
<path d="M255.3 72.9L256.7 72.7L269.4 79.4L268.0 79.7Z" fill="#d24d39" stroke="#d24d39"/>
<path d="M262.3 212.4L263.7 212.1L267.4 98.6L266.0 98.9Z" fill="#e15f23" stroke="#e15f23"/>
<path d="M250.2 203.8L262.3 212.4L266.0 98.9L253.4 91.9Z" fill="#692a16" stroke="#692a16"/>
<path d="M253.4 91.9L254.8 91.6L267.4 98.6L266.0 98.9Z" fill="#eb6e2d" stroke="#eb6e2d"/>
<path d="M259.6 213.0L261.0 212.7L262.9 152.1L261.5 152.4Z" fill="#eea52d" stroke="#eea52d"/>
<path d="M247.5 204.4L259.6 213.0L261.5 152.4L249.2 144.6Z" fill="#6c4816" stroke="#6c4816"/>
<path d="M249.2 144.6L250.6 144.4L262.9 152.1L261.5 152.4Z" fill="#f5b43c" stroke="#f5b43c"/>
<path d="M255.5 213.9L256.9 213.6L257.1 206.0L255.7 206.3Z" fill="#ebc64c" stroke="#ebc64c"/>
<path d="M243.5 205.2L255.5 213.9L255.7 206.3L243.7 197.8Z" fill="#765c22" stroke="#765c22"/>
<path d="M243.7 197.8L245.0 197.5L257.1 206.0L255.7 206.3Z" fill="#f7dc66" stroke="#f7dc66"/>
<path d="M252.8 214.4L254.1 214.2L254.5 201.1L253.2 201.4Z" fill="#ebc54b" stroke="#ebc54b"/>
<path d="M240.8 205.8L252.8 214.4L253.2 201.4L241.1 192.9Z" fill="#755b22" stroke="#755b22"/>
<path d="M241.1 192.9L242.5 192.6L254.5 201.1L253.2 201.4Z" fill="#f7db64" stroke="#f7db64"/>
<path d="M251.4 214.7L252.8 214.4L253.1 204.0L251.7 204.3Z" fill="#ebc54c" stroke="#ebc54c"/>
<path d="M239.4 206.1L251.4 214.7L251.7 204.3L239.7 195.7Z" fill="#755c22" stroke="#755c22"/>
<path d="M239.7 195.7L241.0 195.5L253.1 204.0L251.7 204.3Z" fill="#f7db65" stroke="#f7db65"/>
<path d="M248.7 215.3L250.0 215.0L250.3 204.4L249.0 204.6Z" fill="#ebc54c" stroke="#ebc54c"/>
<path d="M236.7 206.6L248.7 215.3L249.0 204.6L237.0 196.1Z" fill="#755c22" stroke="#755c22"/>
<path d="M237.0 196.1L238.3 195.8L250.3 204.4L249.0 204.6Z" fill="#f7db65" stroke="#f7db65"/>
<path d="M245.9 215.9L247.3 215.6L247.5 209.2L246.1 209.5Z" fill="#ebc64d" stroke="#ebc64d"/>
<path d="M234.0 207.2L245.9 215.9L246.1 209.5L234.1 200.8Z" fill="#765c22" stroke="#765c22"/>
<path d="M234.1 200.8L235.5 200.6L247.5 209.2L246.1 209.5Z" fill="#f7dc66" stroke="#f7dc66"/>
<path d="M244.5 216.2L245.9 215.9L246.1 209.7L244.7 210.0Z" fill="#ebc64d" stroke="#ebc64d"/>
<path d="M232.6 207.5L244.5 216.2L244.7 210.0L232.8 201.4Z" fill="#765c23" stroke="#765c23"/>
<path d="M232.8 201.4L234.1 201.1L246.1 209.7L244.7 210.0Z" fill="#f7dc67" stroke="#f7dc67"/>
<path d="M243.1 216.5L244.5 216.2L244.6 212.2L243.3 212.5Z" fill="#ebc74d" stroke="#ebc74d"/>
<path d="M231.3 207.8L243.1 216.5L243.3 212.5L231.3 203.9Z" fill="#765c23" stroke="#765c23"/>
<path d="M231.3 203.9L232.7 203.6L244.6 212.2L243.3 212.5Z" fill="#f7dd67" stroke="#f7dd67"/>
<path d="M278.0 221.0L279.4 220.7L282.7 130.8L281.3 131.1Z" fill="#ee8127" stroke="#ee8127"/>
<path d="M265.4 212.1L278.0 221.0L281.3 131.1L268.4 123.5Z" fill="#6d3712" stroke="#6d3712"/>
<path d="M268.4 123.5L269.7 123.2L282.7 130.8L281.3 131.1Z" fill="#f39031" stroke="#f39031"/>
<path d="M276.6 221.3L278.0 221.0L281.3 131.1L279.9 131.3Z" fill="#ee8127" stroke="#ee8127"/>
<path d="M264.1 212.4L276.6 221.3L279.9 131.3L267.0 123.7Z" fill="#6d3712" stroke="#6d3712"/>
<path d="M267.0 123.7L268.4 123.5L281.3 131.1L279.9 131.3Z" fill="#f39031" stroke="#f39031"/>
<path d="M275.3 221.6L276.6 221.3L281.3 90.8L279.9 91.0Z" fill="#cf492c" stroke="#cf492c"/>
<path d="M262.7 212.7L275.3 221.6L279.9 91.0L266.9 84.0Z" fill="#5f201a" stroke="#5f201a"/>
<path d="M266.9 84.0L268.3 83.8L281.3 90.8L279.9 91.0Z" fill="#d95336" stroke="#d95336"/>
<path d="M272.5 222.2L273.9 221.9L276.3 154.0L274.9 154.3Z" fill="#ef9d2c" stroke="#ef9d2c"/>
<path d="M260.0 213.3L272.5 222.2L274.9 154.3L262.1 146.4Z" fill="#6d4415" stroke="#6d4415"/>
<path d="M262.1 146.4L263.5 146.1L276.3 154.0L274.9 154.3Z" fill="#f5ac39" stroke="#f5ac39"/>
<path d="M269.7 222.8L271.1 222.5L271.3 218.2L269.9 218.5Z" fill="#ebc74d" stroke="#ebc74d"/>
<path d="M257.3 213.9L269.7 222.8L269.9 218.5L257.4 209.6Z" fill="#765c23" stroke="#765c23"/>
<path d="M257.4 209.6L258.8 209.3L271.3 218.2L269.9 218.5Z" fill="#f7dd67" stroke="#f7dd67"/>
<path d="M268.4 223.1L269.7 222.8L269.9 217.6L268.5 217.9Z" fill="#ebc74d" stroke="#ebc74d"/>
<path d="M255.9 214.1L268.4 223.1L268.5 217.9L256.1 209.0Z" fill="#765c23" stroke="#765c23"/>
<path d="M256.1 209.0L257.4 208.7L269.9 217.6L268.5 217.9Z" fill="#f7dd67" stroke="#f7dd67"/>
<path d="M267.0 223.4L268.4 223.1L268.5 217.3L267.2 217.6Z" fill="#ebc74d" stroke="#ebc74d"/>
<path d="M254.5 214.4L267.0 223.4L267.2 217.6L254.7 208.8Z" fill="#765c23" stroke="#765c23"/>
<path d="M254.7 208.8L256.1 208.5L268.5 217.3L267.2 217.6Z" fill="#f7dd67" stroke="#f7dd67"/>
<path d="M265.6 223.7L267.0 223.4L267.2 216.8L265.8 217.1Z" fill="#ebc64d" stroke="#ebc64d"/>
<path d="M253.2 214.7L265.6 223.7L265.8 217.1L253.4 208.3Z" fill="#765c22" stroke="#765c22"/>
<path d="M253.4 208.3L254.7 208.0L267.2 216.8L265.8 217.1Z" fill="#f7dc66" stroke="#f7dc66"/>
<path d="M264.2 224.0L265.6 223.7L265.8 216.7L264.4 217.0Z" fill="#ebc64d" stroke="#ebc64d"/>
<path d="M251.8 215.0L264.2 224.0L264.4 217.0L252.0 208.2Z" fill="#765c22" stroke="#765c22"/>
<path d="M252.0 208.2L253.4 207.9L265.8 216.7L264.4 217.0Z" fill="#f7dc66" stroke="#f7dc66"/>
<path d="M262.8 224.3L264.2 224.0L264.4 217.8L263.0 218.1Z" fill="#ebc64d" stroke="#ebc64d"/>
<path d="M250.4 215.3L262.8 224.3L263.0 218.1L250.6 209.2Z" fill="#765c23" stroke="#765c23"/>
<path d="M250.6 209.2L252.0 209.0L264.4 217.8L263.0 218.1Z" fill="#f7dc67" stroke="#f7dc67"/>
<path d="M261.4 224.6L262.8 224.3L263.0 218.0L261.6 218.3Z" fill="#ebc64d" stroke="#ebc64d"/>
<path d="M249.0 215.6L261.4 224.6L261.6 218.3L249.2 209.4Z" fill="#765c23" stroke="#765c23"/>
<path d="M249.2 209.4L250.6 209.1L263.0 218.0L261.6 218.3Z" fill="#f7dc67" stroke="#f7dc67"/>
<path d="M260.0 224.9L261.4 224.6L261.6 219.3L260.2 219.6Z" fill="#ebc74d" stroke="#ebc74d"/>
<path d="M247.7 215.9L260.0 224.9L260.2 219.6L247.8 210.7Z" fill="#765c23" stroke="#765c23"/>
<path d="M247.8 210.7L249.2 210.4L261.6 219.3L260.2 219.6Z" fill="#f7dd67" stroke="#f7dd67"/>
<path d="M257.2 225.5L258.6 225.2L258.7 221.9L257.3 222.2Z" fill="#ebc74d" stroke="#ebc74d"/>
<path d="M244.9 216.5L257.2 225.5L257.3 222.2L245.0 213.2Z" fill="#765d23" stroke="#765d23"/>
<path d="M245.0 213.2L246.4 212.9L258.7 221.9L257.3 222.2Z" fill="#f7dd68" stroke="#f7dd68"/>
<path d="M255.8 225.8L257.2 225.5L257.3 222.4L255.9 222.7Z" fill="#ebc74d" stroke="#ebc74d"/>
<path d="M243.5 216.8L255.8 225.8L255.9 222.7L243.6 213.8Z" fill="#765d23" stroke="#765d23"/>
<path d="M243.6 213.8L245.0 213.5L257.3 222.4L255.9 222.7Z" fill="#f7dd68" stroke="#f7dd68"/>
<path d="M243.2 228.6L244.6 228.3L244.6 227.6L243.2 227.9Z" fill="#ebc84e" stroke="#ebc84e"/>
<path d="M231.1 219.5L243.2 228.6L243.2 227.9L231.1 218.8Z" fill="#765d23" stroke="#765d23"/>
<path d="M231.1 218.8L232.5 218.5L244.6 227.6L243.2 227.9Z" fill="#f7de69" stroke="#f7de69"/></g>
<line x1="132.8" y1="93.1" x2="293.0" y2="67.3" stroke="#cdcdcd" stroke-width="0.8"/>
<line x1="132.8" y1="93.1" x2="133.3" y2="263.1" stroke="#888" stroke-width="0.6" stroke-opacity="0.35"/>
<line x1="293.0" y1="67.3" x2="286.7" y2="229.0" stroke="#cdcdcd" stroke-width="0.8"/>
<line x1="286.8" y1="225.9" x2="283.6" y2="226.6" stroke="#c4c4c4" stroke-width="0.7"/>
<line x1="287.1" y1="218.9" x2="285.4" y2="219.3" stroke="#c4c4c4" stroke-width="0.7"/>
<line x1="287.4" y1="211.8" x2="285.6" y2="212.2" stroke="#c4c4c4" stroke-width="0.7"/>
<line x1="287.7" y1="204.7" x2="285.9" y2="205.1" stroke="#c4c4c4" stroke-width="0.7"/>
<line x1="287.9" y1="197.6" x2="286.2" y2="198.0" stroke="#c4c4c4" stroke-width="0.7"/>
<line x1="288.2" y1="190.5" x2="285.0" y2="191.1" stroke="#c4c4c4" stroke-width="0.7"/>
<line x1="288.5" y1="183.3" x2="286.7" y2="183.7" stroke="#c4c4c4" stroke-width="0.7"/>
<line x1="288.8" y1="176.1" x2="287.0" y2="176.4" stroke="#c4c4c4" stroke-width="0.7"/>
<line x1="289.1" y1="168.9" x2="287.3" y2="169.2" stroke="#c4c4c4" stroke-width="0.7"/>
<line x1="289.3" y1="161.6" x2="287.6" y2="161.9" stroke="#c4c4c4" stroke-width="0.7"/>
<line x1="289.6" y1="154.3" x2="286.4" y2="154.9" stroke="#c4c4c4" stroke-width="0.7"/>
<line x1="289.9" y1="147.0" x2="288.1" y2="147.3" stroke="#c4c4c4" stroke-width="0.7"/>
<line x1="290.2" y1="139.6" x2="288.4" y2="140.0" stroke="#c4c4c4" stroke-width="0.7"/>
<line x1="290.5" y1="132.3" x2="288.7" y2="132.6" stroke="#c4c4c4" stroke-width="0.7"/>
<line x1="290.8" y1="124.9" x2="289.0" y2="125.2" stroke="#c4c4c4" stroke-width="0.7"/>
<line x1="291.0" y1="117.4" x2="287.8" y2="118.0" stroke="#c4c4c4" stroke-width="0.7"/>
<line x1="291.3" y1="110.0" x2="289.5" y2="110.3" stroke="#c4c4c4" stroke-width="0.7"/>
<line x1="291.6" y1="102.5" x2="289.8" y2="102.8" stroke="#c4c4c4" stroke-width="0.7"/>
<line x1="291.9" y1="95.0" x2="290.1" y2="95.3" stroke="#c4c4c4" stroke-width="0.7"/>
<line x1="292.2" y1="87.4" x2="290.4" y2="87.7" stroke="#c4c4c4" stroke-width="0.7"/>
<line x1="292.5" y1="79.8" x2="289.2" y2="80.4" stroke="#c4c4c4" stroke-width="0.7"/>
<line x1="292.8" y1="72.2" x2="291.0" y2="72.5" stroke="#c4c4c4" stroke-width="0.7"/>
<line x1="293.1" y1="64.6" x2="291.3" y2="64.9" stroke="#c4c4c4" stroke-width="0.7"/>
<line x1="136.6" y1="262.4" x2="134.0" y2="260.0" stroke="#cfcfcf" stroke-width="0.7"/>
<line x1="144.2" y1="260.7" x2="141.7" y2="258.3" stroke="#cfcfcf" stroke-width="0.7"/>
<line x1="151.8" y1="259.0" x2="149.2" y2="256.6" stroke="#cfcfcf" stroke-width="0.7"/>
<line x1="159.4" y1="257.3" x2="156.8" y2="255.0" stroke="#cfcfcf" stroke-width="0.7"/>
<line x1="166.9" y1="255.6" x2="164.3" y2="253.3" stroke="#cfcfcf" stroke-width="0.7"/>
<line x1="174.4" y1="254.0" x2="171.8" y2="251.7" stroke="#cfcfcf" stroke-width="0.7"/>
<line x1="181.9" y1="252.3" x2="179.2" y2="250.0" stroke="#cfcfcf" stroke-width="0.7"/>
<line x1="189.3" y1="250.7" x2="186.6" y2="248.4" stroke="#cfcfcf" stroke-width="0.7"/>
<line x1="196.7" y1="249.0" x2="193.9" y2="246.8" stroke="#cfcfcf" stroke-width="0.7"/>
<line x1="204.0" y1="247.4" x2="201.2" y2="245.1" stroke="#cfcfcf" stroke-width="0.7"/>
<line x1="211.3" y1="245.8" x2="208.5" y2="243.5" stroke="#cfcfcf" stroke-width="0.7"/>
<line x1="218.5" y1="244.2" x2="215.7" y2="241.9" stroke="#cfcfcf" stroke-width="0.7"/>
<line x1="225.7" y1="242.6" x2="222.9" y2="240.4" stroke="#cfcfcf" stroke-width="0.7"/>
<line x1="232.9" y1="241.0" x2="230.1" y2="238.8" stroke="#cfcfcf" stroke-width="0.7"/>
<line x1="240.0" y1="239.4" x2="237.2" y2="237.2" stroke="#cfcfcf" stroke-width="0.7"/>
<line x1="247.1" y1="237.8" x2="244.3" y2="235.6" stroke="#cfcfcf" stroke-width="0.7"/>
<line x1="254.2" y1="236.2" x2="251.3" y2="234.1" stroke="#cfcfcf" stroke-width="0.7"/>
<line x1="261.2" y1="234.7" x2="258.3" y2="232.5" stroke="#cfcfcf" stroke-width="0.7"/>
<line x1="268.2" y1="233.1" x2="265.3" y2="231.0" stroke="#cfcfcf" stroke-width="0.7"/>
<line x1="275.2" y1="231.6" x2="272.2" y2="229.5" stroke="#cfcfcf" stroke-width="0.7"/>
<line x1="282.1" y1="230.1" x2="279.1" y2="227.9" stroke="#cfcfcf" stroke-width="0.7"/>
<line x1="36.0" y1="172.2" x2="38.8" y2="171.7" stroke="#cfcfcf" stroke-width="0.7"/>
<line x1="44.3" y1="180.0" x2="47.2" y2="179.5" stroke="#cfcfcf" stroke-width="0.7"/>
<line x1="52.9" y1="188.0" x2="55.8" y2="187.5" stroke="#cfcfcf" stroke-width="0.7"/>
<line x1="61.8" y1="196.3" x2="64.7" y2="195.7" stroke="#cfcfcf" stroke-width="0.7"/>
<line x1="70.9" y1="204.9" x2="73.9" y2="204.3" stroke="#cfcfcf" stroke-width="0.7"/>
<line x1="80.4" y1="213.7" x2="83.4" y2="213.1" stroke="#cfcfcf" stroke-width="0.7"/>
<line x1="90.2" y1="222.8" x2="93.2" y2="222.2" stroke="#cfcfcf" stroke-width="0.7"/>
<line x1="100.3" y1="232.2" x2="103.4" y2="231.6" stroke="#cfcfcf" stroke-width="0.7"/>
<line x1="110.8" y1="242.0" x2="113.9" y2="241.3" stroke="#cfcfcf" stroke-width="0.7"/>
<line x1="121.6" y1="252.1" x2="124.8" y2="251.4" stroke="#cfcfcf" stroke-width="0.7"/>
<line x1="364.5" y1="18.1" x2="508.3" y2="1.6" stroke="#cdcdcd" stroke-width="0.8"/>
<line x1="508.3" y1="1.6" x2="643.4" y2="62.2" stroke="#cdcdcd" stroke-width="0.8"/>
<line x1="364.5" y1="18.1" x2="478.7" y2="86.3" stroke="#cdcdcd" stroke-width="0.8"/>
<line x1="508.3" y1="1.6" x2="508.0" y2="145.0" stroke="#cdcdcd" stroke-width="0.8"/>
<line x1="364.5" y1="18.1" x2="368.5" y2="168.8" stroke="#cdcdcd" stroke-width="0.8"/>
<line x1="368.5" y1="168.8" x2="479.4" y2="265.2" stroke="#e4e4e4" stroke-width="1.2"/>
<line x1="479.4" y1="265.2" x2="638.6" y2="231.0" stroke="#e4e4e4" stroke-width="1.2"/>
<path d="M368.4 166.3L508.0 142.7L638.7 228.2L479.4 262.3Z" fill="#48609f"/>
<g class="bars"><path d="M472.4 155.5L473.6 155.3L473.6 154.0L472.4 154.2Z" fill="#ebc84e" stroke="#ebc84e"/>
<path d="M464.2 149.6L472.4 155.5L472.4 154.2L464.2 148.4Z" fill="#765d23" stroke="#765d23"/>
<path d="M464.2 148.4L465.3 148.2L473.6 154.0L472.4 154.2Z" fill="#f7de68" stroke="#f7de68"/>
<path d="M471.2 155.7L472.4 155.5L472.4 154.1L471.2 154.4Z" fill="#ebc84e" stroke="#ebc84e"/>
<path d="M463.0 149.8L471.2 155.7L471.2 154.4L463.0 148.5Z" fill="#765d23" stroke="#765d23"/>
<path d="M463.0 148.5L464.2 148.3L472.4 154.1L471.2 154.4Z" fill="#f7de68" stroke="#f7de68"/>
<path d="M470.0 155.9L471.2 155.7L471.2 153.9L470.0 154.1Z" fill="#ebc84e" stroke="#ebc84e"/>
<path d="M461.8 150.1L470.0 155.9L470.0 154.1L461.8 148.3Z" fill="#765d23" stroke="#765d23"/>
<path d="M461.8 148.3L463.0 148.1L471.2 153.9L470.0 154.1Z" fill="#f7de68" stroke="#f7de68"/>
<path d="M468.8 156.1L470.0 155.9L470.0 153.8L468.8 154.0Z" fill="#ebc74e" stroke="#ebc74e"/>
<path d="M460.6 150.3L468.8 156.1L468.8 154.0L460.6 148.2Z" fill="#765d23" stroke="#765d23"/>
<path d="M460.6 148.2L461.8 148.0L470.0 153.8L468.8 154.0Z" fill="#f7dd68" stroke="#f7dd68"/>
<path d="M467.6 156.3L468.8 156.1L468.8 153.6L467.6 153.8Z" fill="#ebc74d" stroke="#ebc74d"/>
<path d="M459.4 150.5L467.6 156.3L467.6 153.8L459.4 148.0Z" fill="#765d23" stroke="#765d23"/>
<path d="M459.4 148.0L460.6 147.8L468.8 153.6L467.6 153.8Z" fill="#f7dd68" stroke="#f7dd68"/>
<path d="M466.4 156.5L467.6 156.3L467.6 153.5L466.4 153.7Z" fill="#ebc74d" stroke="#ebc74d"/>
<path d="M458.2 150.7L466.4 156.5L466.4 153.7L458.2 147.8Z" fill="#765d23" stroke="#765d23"/>
<path d="M458.2 147.8L459.4 147.6L467.6 153.5L466.4 153.7Z" fill="#f7dd68" stroke="#f7dd68"/>
<path d="M465.2 156.7L466.4 156.5L466.4 153.7L465.2 153.9Z" fill="#ebc74d" stroke="#ebc74d"/>
<path d="M457.0 150.9L465.2 156.7L465.2 153.9L457.0 148.0Z" fill="#765d23" stroke="#765d23"/>
<path d="M457.0 148.0L458.2 147.8L466.4 153.7L465.2 153.9Z" fill="#f7dd68" stroke="#f7dd68"/>
<path d="M464.0 157.0L465.2 156.7L465.2 152.8L464.0 153.1Z" fill="#ebc74d" stroke="#ebc74d"/>
<path d="M455.8 151.1L464.0 157.0L464.0 153.1L455.8 147.2Z" fill="#765c23" stroke="#765c23"/>
<path d="M455.8 147.2L457.0 147.0L465.2 152.8L464.0 153.1Z" fill="#f7dd67" stroke="#f7dd67"/>
<path d="M462.8 157.2L464.0 157.0L464.0 153.1L462.7 153.3Z" fill="#ebc74d" stroke="#ebc74d"/>
<path d="M454.6 151.3L462.8 157.2L462.7 153.3L454.6 147.5Z" fill="#765c23" stroke="#765c23"/>
<path d="M454.6 147.5L455.8 147.3L464.0 153.1L462.7 153.3Z" fill="#f7dd67" stroke="#f7dd67"/>
<path d="M461.6 157.4L462.8 157.2L462.7 153.4L461.5 153.6Z" fill="#ebc74d" stroke="#ebc74d"/>
<path d="M453.4 151.5L461.6 157.4L461.5 153.6L453.4 147.7Z" fill="#765c23" stroke="#765c23"/>
<path d="M453.4 147.7L454.6 147.5L462.7 153.4L461.5 153.6Z" fill="#f7dd67" stroke="#f7dd67"/>
<path d="M460.3 157.6L461.6 157.4L461.5 152.8L460.3 153.0Z" fill="#ebc74d" stroke="#ebc74d"/>
<path d="M452.2 151.7L460.3 157.6L460.3 153.0L452.2 147.1Z" fill="#765c23" stroke="#765c23"/>
<path d="M452.2 147.1L453.4 146.9L461.5 152.8L460.3 153.0Z" fill="#f7dd67" stroke="#f7dd67"/>
<path d="M459.1 157.8L460.3 157.6L460.3 152.6L459.1 152.8Z" fill="#ebc74d" stroke="#ebc74d"/>
<path d="M451.0 151.9L459.1 157.8L459.1 152.8L451.0 147.0Z" fill="#765c23" stroke="#765c23"/>
<path d="M451.0 147.0L452.2 146.8L460.3 152.6L459.1 152.8Z" fill="#f7dd67" stroke="#f7dd67"/>
<path d="M457.9 158.0L459.1 157.8L459.1 151.5L457.9 151.7Z" fill="#ebc64d" stroke="#ebc64d"/>
<path d="M449.8 152.1L457.9 158.0L457.9 151.7L449.8 145.8Z" fill="#765c22" stroke="#765c22"/>
<path d="M449.8 145.8L451.0 145.6L459.1 151.5L457.9 151.7Z" fill="#f7dc66" stroke="#f7dc66"/>
<path d="M456.7 158.2L457.9 158.0L457.9 151.2L456.7 151.4Z" fill="#ebc64c" stroke="#ebc64c"/>
<path d="M448.6 152.3L456.7 158.2L456.7 151.4L448.5 145.6Z" fill="#765c22" stroke="#765c22"/>
<path d="M448.5 145.6L449.7 145.4L457.9 151.2L456.7 151.4Z" fill="#f7dc66" stroke="#f7dc66"/>
<path d="M455.5 158.4L456.7 158.2L456.6 150.5L455.4 150.7Z" fill="#ebc64c" stroke="#ebc64c"/>
<path d="M447.4 152.5L455.5 158.4L455.4 150.7L447.3 144.8Z" fill="#765c22" stroke="#765c22"/>
<path d="M447.3 144.8L448.5 144.6L456.6 150.5L455.4 150.7Z" fill="#f7dc66" stroke="#f7dc66"/>
<path d="M454.3 158.6L455.5 158.4L455.4 150.9L454.2 151.1Z" fill="#ebc64c" stroke="#ebc64c"/>
<path d="M446.2 152.7L454.3 158.6L454.2 151.1L446.1 145.2Z" fill="#765c22" stroke="#765c22"/>
<path d="M446.1 145.2L447.3 145.0L455.4 150.9L454.2 151.1Z" fill="#f7dc66" stroke="#f7dc66"/>
<path d="M453.1 158.8L454.3 158.6L454.2 150.7L453.0 151.0Z" fill="#ebc64c" stroke="#ebc64c"/>
<path d="M445.0 152.9L453.1 158.8L453.0 151.0L444.9 145.1Z" fill="#765c22" stroke="#765c22"/>
<path d="M444.9 145.1L446.1 144.9L454.2 150.7L453.0 151.0Z" fill="#f7dc66" stroke="#f7dc66"/>
<path d="M451.8 159.0L453.1 158.8L453.0 151.9L451.8 152.1Z" fill="#ebc64c" stroke="#ebc64c"/>
<path d="M443.8 153.1L451.8 159.0L451.8 152.1L443.7 146.2Z" fill="#765c22" stroke="#765c22"/>
<path d="M443.7 146.2L444.9 146.0L453.0 151.9L451.8 152.1Z" fill="#f7dc66" stroke="#f7dc66"/>
<path d="M450.6 159.3L451.8 159.0L451.8 150.2L450.5 150.4Z" fill="#ebc64c" stroke="#ebc64c"/>
<path d="M442.6 153.3L450.6 159.3L450.5 150.4L442.5 144.5Z" fill="#765c22" stroke="#765c22"/>
<path d="M442.5 144.5L443.7 144.3L451.8 150.2L450.5 150.4Z" fill="#f7dc65" stroke="#f7dc65"/>
<path d="M449.4 159.5L450.6 159.3L450.5 150.4L449.3 150.6Z" fill="#ebc64c" stroke="#ebc64c"/>
<path d="M441.4 153.5L449.4 159.5L449.3 150.6L441.3 144.7Z" fill="#765c22" stroke="#765c22"/>
<path d="M441.3 144.7L442.5 144.5L450.5 150.4L449.3 150.6Z" fill="#f7dc65" stroke="#f7dc65"/>
<path d="M448.2 159.7L449.4 159.5L449.3 151.4L448.1 151.6Z" fill="#ebc64c" stroke="#ebc64c"/>
<path d="M440.2 153.7L448.2 159.7L448.1 151.6L440.1 145.7Z" fill="#765c22" stroke="#765c22"/>
<path d="M440.1 145.7L441.3 145.5L449.3 151.4L448.1 151.6Z" fill="#f7dc66" stroke="#f7dc66"/>
<path d="M446.9 159.9L448.2 159.7L448.1 151.7L446.9 151.9Z" fill="#ebc64c" stroke="#ebc64c"/>
<path d="M438.9 153.9L446.9 159.9L446.9 151.9L438.9 146.0Z" fill="#765c22" stroke="#765c22"/>
<path d="M438.9 146.0L440.1 145.8L448.1 151.7L446.9 151.9Z" fill="#f7dc66" stroke="#f7dc66"/>
<path d="M445.7 160.1L446.9 159.9L446.9 151.9L445.6 152.1Z" fill="#ebc64c" stroke="#ebc64c"/>
<path d="M437.7 154.1L445.7 160.1L445.6 152.1L437.6 146.3Z" fill="#765c22" stroke="#765c22"/>
<path d="M437.6 146.3L438.9 146.1L446.9 151.9L445.6 152.1Z" fill="#f7dc66" stroke="#f7dc66"/>
<path d="M444.5 160.3L445.7 160.1L445.6 150.5L444.4 150.7Z" fill="#ebc54c" stroke="#ebc54c"/>
<path d="M436.5 154.3L444.5 160.3L444.4 150.7L436.4 144.9Z" fill="#755c22" stroke="#755c22"/>
<path d="M436.4 144.9L437.6 144.7L445.6 150.5L444.4 150.7Z" fill="#f7db65" stroke="#f7db65"/>
<path d="M443.3 160.5L444.5 160.3L444.4 151.4L443.2 151.6Z" fill="#ebc64c" stroke="#ebc64c"/>
<path d="M435.3 154.5L443.3 160.5L443.2 151.6L435.2 145.8Z" fill="#765c22" stroke="#765c22"/>
<path d="M435.2 145.8L436.4 145.6L444.4 151.4L443.2 151.6Z" fill="#f7dc65" stroke="#f7dc65"/>
<path d="M442.0 160.7L443.3 160.5L443.2 150.4L441.9 150.6Z" fill="#ebc54c" stroke="#ebc54c"/>
<path d="M434.1 154.7L442.0 160.7L441.9 150.6L434.0 144.7Z" fill="#755c22" stroke="#755c22"/>
<path d="M434.0 144.7L435.2 144.5L443.2 150.4L441.9 150.6Z" fill="#f7db65" stroke="#f7db65"/>
<path d="M440.8 160.9L442.0 160.7L441.9 152.2L440.7 152.4Z" fill="#ebc64c" stroke="#ebc64c"/>
<path d="M432.9 155.0L440.8 160.9L440.7 152.4L432.8 146.5Z" fill="#765c22" stroke="#765c22"/>
<path d="M432.8 146.5L434.0 146.3L441.9 152.2L440.7 152.4Z" fill="#f7dc65" stroke="#f7dc65"/>
<path d="M439.6 161.2L440.8 160.9L440.7 151.4L439.5 151.6Z" fill="#ebc54c" stroke="#ebc54c"/>
<path d="M431.7 155.2L439.6 161.2L439.5 151.6L431.5 145.7Z" fill="#755c22" stroke="#755c22"/>
<path d="M431.5 145.7L432.7 145.5L440.7 151.4L439.5 151.6Z" fill="#f7db65" stroke="#f7db65"/>
<path d="M438.3 161.4L439.6 161.2L439.5 152.8L438.2 153.0Z" fill="#ebc64c" stroke="#ebc64c"/>
<path d="M430.4 155.4L438.3 161.4L438.2 153.0L430.3 147.1Z" fill="#765c22" stroke="#765c22"/>
<path d="M430.3 147.1L431.5 146.9L439.5 152.8L438.2 153.0Z" fill="#f7dc66" stroke="#f7dc66"/>
<path d="M437.1 161.6L438.3 161.4L438.2 152.5L437.0 152.8Z" fill="#ebc64c" stroke="#ebc64c"/>
<path d="M429.2 155.6L437.1 161.6L437.0 152.8L429.1 146.8Z" fill="#765c22" stroke="#765c22"/>
<path d="M429.1 146.8L430.3 146.6L438.2 152.5L437.0 152.8Z" fill="#f7dc65" stroke="#f7dc65"/>
<path d="M435.9 161.8L437.1 161.6L437.0 154.2L435.8 154.4Z" fill="#ebc64c" stroke="#ebc64c"/>
<path d="M428.0 155.8L435.9 161.8L435.8 154.4L427.9 148.5Z" fill="#765c22" stroke="#765c22"/>
<path d="M427.9 148.5L429.1 148.3L437.0 154.2L435.8 154.4Z" fill="#f7dc66" stroke="#f7dc66"/>
<path d="M434.6 162.0L435.9 161.8L435.8 155.0L434.6 155.3Z" fill="#ebc64d" stroke="#ebc64d"/>
<path d="M426.8 156.0L434.6 162.0L434.6 155.3L426.7 149.3Z" fill="#765c22" stroke="#765c22"/>
<path d="M426.7 149.3L427.9 149.1L435.8 155.0L434.6 155.3Z" fill="#f7dc66" stroke="#f7dc66"/>
<path d="M433.4 162.2L434.6 162.0L434.6 154.5L433.3 154.7Z" fill="#ebc64c" stroke="#ebc64c"/>
<path d="M425.5 156.2L433.4 162.2L433.3 154.7L425.4 148.8Z" fill="#765c22" stroke="#765c22"/>
<path d="M425.4 148.8L426.7 148.6L434.6 154.5L433.3 154.7Z" fill="#f7dc66" stroke="#f7dc66"/>
<path d="M432.2 162.4L433.4 162.2L433.3 156.6L432.1 156.8Z" fill="#ebc64d" stroke="#ebc64d"/>
<path d="M424.3 156.4L432.2 162.4L432.1 156.8L424.2 150.8Z" fill="#765c23" stroke="#765c23"/>
<path d="M424.2 150.8L425.5 150.6L433.3 156.6L432.1 156.8Z" fill="#f7dc67" stroke="#f7dc67"/>
<path d="M430.9 162.6L432.2 162.4L432.1 156.0L430.8 156.2Z" fill="#ebc64d" stroke="#ebc64d"/>
<path d="M423.1 156.6L430.9 162.6L430.8 156.2L423.0 150.2Z" fill="#765c22" stroke="#765c22"/>
<path d="M423.0 150.2L424.2 150.0L432.1 156.0L430.8 156.2Z" fill="#f7dc66" stroke="#f7dc66"/>
<path d="M429.7 162.9L430.9 162.6L430.9 157.6L429.6 157.8Z" fill="#ebc74d" stroke="#ebc74d"/>
<path d="M421.9 156.8L429.7 162.9L429.6 157.8L421.8 151.9Z" fill="#765c23" stroke="#765c23"/>
<path d="M421.8 151.9L423.0 151.7L430.9 157.6L429.6 157.8Z" fill="#f7dd67" stroke="#f7dd67"/>
<path d="M428.5 163.1L429.7 162.9L429.6 157.6L428.4 157.9Z" fill="#ebc74d" stroke="#ebc74d"/>
<path d="M420.6 157.0L428.5 163.1L428.4 157.9L420.6 151.9Z" fill="#765c23" stroke="#765c23"/>
<path d="M420.6 151.9L421.8 151.7L429.6 157.6L428.4 157.9Z" fill="#f7dd67" stroke="#f7dd67"/>
<path d="M427.2 163.3L428.5 163.1L428.4 157.8L427.1 158.0Z" fill="#ebc74d" stroke="#ebc74d"/>
<path d="M419.4 157.2L427.2 163.3L427.1 158.0L419.3 152.0Z" fill="#765c23" stroke="#765c23"/>
<path d="M419.3 152.0L420.6 151.8L428.4 157.8L427.1 158.0Z" fill="#f7dd67" stroke="#f7dd67"/>
<path d="M426.0 163.5L427.2 163.3L427.1 158.7L425.9 158.9Z" fill="#ebc74d" stroke="#ebc74d"/>
<path d="M418.2 157.4L426.0 163.5L425.9 158.9L418.1 152.9Z" fill="#765c23" stroke="#765c23"/>
<path d="M418.1 152.9L419.3 152.7L427.1 158.7L425.9 158.9Z" fill="#f7dd67" stroke="#f7dd67"/>
<path d="M424.7 163.7L426.0 163.5L425.9 160.2L424.7 160.4Z" fill="#ebc74d" stroke="#ebc74d"/>
<path d="M416.9 157.7L424.7 163.7L424.7 160.4L416.9 154.4Z" fill="#765d23" stroke="#765d23"/>
<path d="M416.9 154.4L418.1 154.2L425.9 160.2L424.7 160.4Z" fill="#f7dd68" stroke="#f7dd68"/>
<path d="M423.5 163.9L424.7 163.7L424.7 160.3L423.4 160.5Z" fill="#ebc74d" stroke="#ebc74d"/>
<path d="M415.7 157.9L423.5 163.9L423.4 160.5L415.6 154.4Z" fill="#765d23" stroke="#765d23"/>
<path d="M415.6 154.4L416.9 154.2L424.7 160.3L423.4 160.5Z" fill="#f7dd68" stroke="#f7dd68"/>
<path d="M422.2 164.1L423.5 163.9L423.4 161.5L422.2 161.7Z" fill="#ebc74d" stroke="#ebc74d"/>
<path d="M414.5 158.1L422.2 164.1L422.2 161.7L414.4 155.6Z" fill="#765d23" stroke="#765d23"/>
<path d="M414.4 155.6L415.7 155.4L423.4 161.5L422.2 161.7Z" fill="#f7dd68" stroke="#f7dd68"/>
<path d="M421.0 164.4L422.2 164.1L422.2 161.5L420.9 161.7Z" fill="#ebc74d" stroke="#ebc74d"/>
<path d="M413.2 158.3L421.0 164.4L420.9 161.7L413.2 155.7Z" fill="#765d23" stroke="#765d23"/>
<path d="M413.2 155.7L414.4 155.4L422.2 161.5L420.9 161.7Z" fill="#f7dd68" stroke="#f7dd68"/>
<path d="M419.7 164.6L421.0 164.4L421.0 162.4L419.7 162.6Z" fill="#ebc74e" stroke="#ebc74e"/>
<path d="M412.0 158.5L419.7 164.6L419.7 162.6L412.0 156.6Z" fill="#765d23" stroke="#765d23"/>
<path d="M412.0 156.6L413.2 156.4L421.0 162.4L419.7 162.6Z" fill="#f7dd68" stroke="#f7dd68"/>
<path d="M418.5 164.8L419.7 164.6L419.7 162.5L418.4 162.7Z" fill="#ebc74e" stroke="#ebc74e"/>
<path d="M410.8 158.7L418.5 164.8L418.4 162.7L410.7 156.6Z" fill="#765d23" stroke="#765d23"/>
<path d="M410.7 156.6L412.0 156.4L419.7 162.5L418.4 162.7Z" fill="#f7dd68" stroke="#f7dd68"/>
<path d="M417.2 165.0L418.5 164.8L418.5 163.2L417.2 163.4Z" fill="#ebc84e" stroke="#ebc84e"/>
<path d="M409.5 158.9L417.2 165.0L417.2 163.4L409.5 157.3Z" fill="#765d23" stroke="#765d23"/>
<path d="M409.5 157.3L410.7 157.1L418.5 163.2L417.2 163.4Z" fill="#f7de68" stroke="#f7de68"/>
<path d="M416.0 165.2L417.2 165.0L417.2 163.5L416.0 163.7Z" fill="#ebc84e" stroke="#ebc84e"/>
<path d="M408.3 159.1L416.0 165.2L416.0 163.7L408.3 157.7Z" fill="#765d23" stroke="#765d23"/>
<path d="M408.3 157.7L409.5 157.4L417.2 163.5L416.0 163.7Z" fill="#f7de68" stroke="#f7de68"/>
<path d="M414.7 165.4L416.0 165.2L416.0 164.1L414.7 164.3Z" fill="#ebc84e" stroke="#ebc84e"/>
<path d="M407.0 159.3L414.7 165.4L414.7 164.3L407.0 158.2Z" fill="#765d23" stroke="#765d23"/>
<path d="M407.0 158.2L408.3 158.0L416.0 164.1L414.7 164.3Z" fill="#f7de69" stroke="#f7de69"/>
<path d="M413.5 165.7L414.7 165.4L414.7 164.5L413.5 164.8Z" fill="#ebc84e" stroke="#ebc84e"/>
<path d="M405.8 159.5L413.5 165.7L413.5 164.8L405.8 158.7Z" fill="#765d23" stroke="#765d23"/>
<path d="M405.8 158.7L407.0 158.4L414.7 164.5L413.5 164.8Z" fill="#f7de69" stroke="#f7de69"/>
<path d="M412.2 165.9L413.5 165.7L413.5 164.8L412.2 165.0Z" fill="#ebc84e" stroke="#ebc84e"/>
<path d="M404.6 159.7L412.2 165.9L412.2 165.0L404.5 158.9Z" fill="#765d23" stroke="#765d23"/>
<path d="M404.5 158.9L405.8 158.7L413.5 164.8L412.2 165.0Z" fill="#f7de69" stroke="#f7de69"/>
<path d="M411.0 166.1L412.2 165.9L412.2 165.1L410.9 165.4Z" fill="#ebc84e" stroke="#ebc84e"/>
<path d="M403.3 160.0L411.0 166.1L410.9 165.4L403.3 159.2Z" fill="#765d23" stroke="#765d23"/>
<path d="M403.3 159.2L404.5 159.0L412.2 165.1L410.9 165.4Z" fill="#f7de69" stroke="#f7de69"/>
<path d="M409.7 166.3L411.0 166.1L410.9 165.3L409.7 165.5Z" fill="#ebc84e" stroke="#ebc84e"/>
<path d="M402.1 160.2L409.7 166.3L409.7 165.5L402.0 159.4Z" fill="#765d23" stroke="#765d23"/>
<path d="M402.0 159.4L403.3 159.2L410.9 165.3L409.7 165.5Z" fill="#f7de69" stroke="#f7de69"/>
<path d="M408.4 166.5L409.7 166.3L409.7 165.5L408.4 165.8Z" fill="#ebc84e" stroke="#ebc84e"/>
<path d="M400.8 160.4L408.4 166.5L408.4 165.8L400.8 159.6Z" fill="#765d23" stroke="#765d23"/>
<path d="M400.8 159.6L402.0 159.4L409.7 165.5L408.4 165.8Z" fill="#f7de69" stroke="#f7de69"/>
<path d="M407.2 166.7L408.4 166.5L408.4 165.8L407.2 166.0Z" fill="#ebc84e" stroke="#ebc84e"/>
<path d="M399.6 160.6L407.2 166.7L407.2 166.0L399.6 159.9Z" fill="#765d23" stroke="#765d23"/>
<path d="M399.6 159.9L400.8 159.7L408.4 165.8L407.2 166.0Z" fill="#f7de69" stroke="#f7de69"/>
<path d="M405.9 167.0L407.2 166.7L407.2 165.9L405.9 166.2Z" fill="#ebc84e" stroke="#ebc84e"/>
<path d="M398.3 160.8L405.9 167.0L405.9 166.2L398.3 160.0Z" fill="#765d23" stroke="#765d23"/>
<path d="M398.3 160.0L399.6 159.8L407.2 165.9L405.9 166.2Z" fill="#f7de69" stroke="#f7de69"/>
<path d="M404.6 167.2L405.9 167.0L405.9 166.3L404.6 166.5Z" fill="#ebc84e" stroke="#ebc84e"/>
<path d="M397.1 161.0L404.6 167.2L404.6 166.5L397.1 160.4Z" fill="#765d23" stroke="#765d23"/>
<path d="M397.1 160.4L398.3 160.1L405.9 166.3L404.6 166.5Z" fill="#f7de69" stroke="#f7de69"/>
<path d="M403.4 167.4L404.6 167.2L404.6 166.5L403.4 166.7Z" fill="#ebc84e" stroke="#ebc84e"/>
<path d="M395.8 161.2L403.4 167.4L403.4 166.7L395.8 160.6Z" fill="#765d23" stroke="#765d23"/>
<path d="M395.8 160.6L397.1 160.3L404.6 166.5L403.4 166.7Z" fill="#f7de69" stroke="#f7de69"/>
<path d="M402.1 167.6L403.4 167.4L403.4 166.6L402.1 166.8Z" fill="#ebc84e" stroke="#ebc84e"/>
<path d="M394.6 161.4L402.1 167.6L402.1 166.8L394.5 160.6Z" fill="#765d23" stroke="#765d23"/>
<path d="M394.5 160.6L395.8 160.4L403.4 166.6L402.1 166.8Z" fill="#f7de69" stroke="#f7de69"/>
<path d="M400.8 167.8L402.1 167.6L402.1 166.9L400.8 167.1Z" fill="#ebc84e" stroke="#ebc84e"/>
<path d="M393.3 161.7L400.8 167.8L400.8 167.1L393.3 160.9Z" fill="#765d23" stroke="#765d23"/>
<path d="M393.3 160.9L394.5 160.7L402.1 166.9L400.8 167.1Z" fill="#f7de69" stroke="#f7de69"/>
<path d="M399.6 168.0L400.8 167.8L400.8 167.0L399.6 167.2Z" fill="#ebc84e" stroke="#ebc84e"/>
<path d="M392.1 161.9L399.6 168.0L399.6 167.2L392.0 161.1Z" fill="#765d23" stroke="#765d23"/>
<path d="M392.0 161.1L393.3 160.8L400.8 167.0L399.6 167.2Z" fill="#f7de69" stroke="#f7de69"/>
<path d="M398.3 168.3L399.6 168.0L399.6 167.2L398.3 167.5Z" fill="#ebc84e" stroke="#ebc84e"/>
<path d="M390.8 162.1L398.3 168.3L398.3 167.5L390.8 161.3Z" fill="#765d23" stroke="#765d23"/>
<path d="M390.8 161.3L392.0 161.1L399.6 167.2L398.3 167.5Z" fill="#f7de69" stroke="#f7de69"/>
<path d="M397.0 168.5L398.3 168.3L398.3 167.5L397.0 167.7Z" fill="#ebc84e" stroke="#ebc84e"/>
<path d="M389.5 162.3L397.0 168.5L397.0 167.7L389.5 161.5Z" fill="#765d23" stroke="#765d23"/>
<path d="M389.5 161.5L390.8 161.3L398.3 167.5L397.0 167.7Z" fill="#f7de69" stroke="#f7de69"/>
<path d="M395.8 168.7L397.0 168.5L397.0 167.7L395.8 167.9Z" fill="#ebc84e" stroke="#ebc84e"/>
<path d="M388.3 162.5L395.8 168.7L395.8 167.9L388.3 161.7Z" fill="#765d23" stroke="#765d23"/>
<path d="M388.3 161.7L389.5 161.5L397.0 167.7L395.8 167.9Z" fill="#f7de69" stroke="#f7de69"/>
<path d="M394.5 168.9L395.8 168.7L395.8 168.0L394.5 168.2Z" fill="#ebc84e" stroke="#ebc84e"/>
<path d="M387.0 162.7L394.5 168.9L394.5 168.2L387.0 162.0Z" fill="#765d23" stroke="#765d23"/>
<path d="M387.0 162.0L388.3 161.8L395.8 168.0L394.5 168.2Z" fill="#f7de69" stroke="#f7de69"/>
<path d="M393.2 169.1L394.5 168.9L394.5 168.3L393.2 168.5Z" fill="#ebc84e" stroke="#ebc84e"/>
<path d="M385.8 162.9L393.2 169.1L393.2 168.5L385.7 162.3Z" fill="#765d23" stroke="#765d23"/>
<path d="M385.7 162.3L387.0 162.1L394.5 168.3L393.2 168.5Z" fill="#f7de69" stroke="#f7de69"/>
<path d="M391.9 169.4L393.2 169.1L393.2 168.3L391.9 168.6Z" fill="#ebc84e" stroke="#ebc84e"/>
<path d="M384.5 163.1L391.9 169.4L391.9 168.6L384.5 162.4Z" fill="#765d23" stroke="#765d23"/>
<path d="M384.5 162.4L385.7 162.1L393.2 168.3L391.9 168.6Z" fill="#f7de69" stroke="#f7de69"/>
<path d="M390.7 169.6L391.9 169.4L391.9 168.7L390.7 168.9Z" fill="#ebc84e" stroke="#ebc84e"/>
<path d="M383.2 163.4L390.7 169.6L390.7 168.9L383.2 162.7Z" fill="#765d23" stroke="#765d23"/>
<path d="M383.2 162.7L384.5 162.5L391.9 168.7L390.7 168.9Z" fill="#f7de69" stroke="#f7de69"/>
<path d="M389.4 169.8L390.7 169.6L390.7 168.8L389.4 169.0Z" fill="#ebc84e" stroke="#ebc84e"/>
<path d="M382.0 163.6L389.4 169.8L389.4 169.0L381.9 162.8Z" fill="#765d23" stroke="#765d23"/>
<path d="M381.9 162.8L383.2 162.6L390.7 168.8L389.4 169.0Z" fill="#f7de69" stroke="#f7de69"/>
<path d="M388.1 170.0L389.4 169.8L389.4 169.0L388.1 169.2Z" fill="#ebc84e" stroke="#ebc84e"/>
<path d="M380.7 163.8L388.1 170.0L388.1 169.2L380.7 163.0Z" fill="#765d23" stroke="#765d23"/>
<path d="M380.7 163.0L381.9 162.8L389.4 169.0L388.1 169.2Z" fill="#f7de69" stroke="#f7de69"/>
<path d="M386.8 170.2L388.1 170.0L388.1 169.4L386.8 169.6Z" fill="#ebc84e" stroke="#ebc84e"/>
<path d="M379.4 164.0L386.8 170.2L386.8 169.6L379.4 163.3Z" fill="#765d23" stroke="#765d23"/>
<path d="M379.4 163.3L380.7 163.1L388.1 169.4L386.8 169.6Z" fill="#f7de69" stroke="#f7de69"/>
<path d="M385.5 170.5L386.8 170.2L386.8 169.5L385.5 169.7Z" fill="#ebc84e" stroke="#ebc84e"/>
<path d="M378.2 164.2L385.5 170.5L385.5 169.7L378.1 163.4Z" fill="#765d23" stroke="#765d23"/>
<path d="M378.1 163.4L379.4 163.2L386.8 169.5L385.5 169.7Z" fill="#f7de69" stroke="#f7de69"/>
<path d="M384.3 170.7L385.5 170.5L385.5 169.7L384.2 169.9Z" fill="#ebc84e" stroke="#ebc84e"/>
<path d="M376.9 164.4L384.3 170.7L384.2 169.9L376.9 163.7Z" fill="#765d23" stroke="#765d23"/>
<path d="M376.9 163.7L378.1 163.5L385.5 169.7L384.2 169.9Z" fill="#f7de69" stroke="#f7de69"/>
<path d="M383.0 170.9L384.3 170.7L384.2 170.0L383.0 170.2Z" fill="#ebc84e" stroke="#ebc84e"/>
<path d="M375.6 164.7L383.0 170.9L383.0 170.2L375.6 163.9Z" fill="#765d23" stroke="#765d23"/>
<path d="M375.6 163.9L376.9 163.7L384.2 170.0L383.0 170.2Z" fill="#f7de69" stroke="#f7de69"/>
<path d="M381.7 171.1L383.0 170.9L383.0 170.3L381.7 170.5Z" fill="#ebc84e" stroke="#ebc84e"/>
<path d="M374.4 164.9L381.7 171.1L381.7 170.5L374.3 164.2Z" fill="#765d23" stroke="#765d23"/>
<path d="M374.3 164.2L375.6 164.0L383.0 170.3L381.7 170.5Z" fill="#f7de69" stroke="#f7de69"/>
<path d="M380.4 171.4L381.7 171.1L381.7 170.4L380.4 170.6Z" fill="#ebc84e" stroke="#ebc84e"/>
<path d="M373.1 165.1L380.4 171.4L380.4 170.6L373.1 164.3Z" fill="#765d23" stroke="#765d23"/>
<path d="M373.1 164.3L374.3 164.1L381.7 170.4L380.4 170.6Z" fill="#f7de69" stroke="#f7de69"/>
<path d="M376.5 172.0L377.8 171.8L377.8 171.1L376.5 171.3Z" fill="#ebc84e" stroke="#ebc84e"/>
<path d="M369.3 165.7L376.5 172.0L376.5 171.3L369.2 165.1Z" fill="#765d23" stroke="#765d23"/>
<path d="M369.2 165.1L370.5 164.9L377.8 171.1L376.5 171.3Z" fill="#f7de69" stroke="#f7de69"/>
<path d="M375.3 172.2L376.5 172.0L376.5 171.3L375.2 171.6Z" fill="#ebc84e" stroke="#ebc84e"/>
<path d="M368.0 165.9L375.3 172.2L375.2 171.6L368.0 165.3Z" fill="#765d23" stroke="#765d23"/>
<path d="M368.0 165.3L369.2 165.1L376.5 171.3L375.2 171.6Z" fill="#f7de69" stroke="#f7de69"/>
<path d="M494.6 159.5L495.8 159.3L495.8 158.2L494.6 158.4Z" fill="#ebc84e" stroke="#ebc84e"/>
<path d="M486.0 153.5L494.6 159.5L494.6 158.4L486.0 152.4Z" fill="#765d23" stroke="#765d23"/>
<path d="M486.0 152.4L487.2 152.2L495.8 158.2L494.6 158.4Z" fill="#f7de69" stroke="#f7de69"/>
<path d="M493.4 159.7L494.6 159.5L494.6 158.2L493.4 158.4Z" fill="#ebc84e" stroke="#ebc84e"/>
<path d="M484.8 153.7L493.4 159.7L493.4 158.4L484.8 152.5Z" fill="#765d23" stroke="#765d23"/>
<path d="M484.8 152.5L486.0 152.3L494.6 158.2L493.4 158.4Z" fill="#f7de68" stroke="#f7de68"/>
<path d="M483.7 161.4L485.0 161.2L484.9 160.0L483.7 160.2Z" fill="#ebc84e" stroke="#ebc84e"/>
<path d="M475.2 155.4L483.7 161.4L483.7 160.2L475.2 154.2Z" fill="#765d23" stroke="#765d23"/>
<path d="M475.2 154.2L476.4 154.0L484.9 160.0L483.7 160.2Z" fill="#f7de68" stroke="#f7de68"/>
<path d="M482.5 161.6L483.7 161.4L483.7 160.3L482.5 160.5Z" fill="#ebc84e" stroke="#ebc84e"/>
<path d="M474.0 155.6L482.5 161.6L482.5 160.5L474.0 154.5Z" fill="#765d23" stroke="#765d23"/>
<path d="M474.0 154.5L475.2 154.3L483.7 160.3L482.5 160.5Z" fill="#f7de69" stroke="#f7de69"/>
<path d="M481.3 161.8L482.5 161.6L482.5 160.5L481.3 160.7Z" fill="#ebc84e" stroke="#ebc84e"/>
<path d="M472.8 155.8L481.3 161.8L481.3 160.7L472.8 154.7Z" fill="#765d23" stroke="#765d23"/>
<path d="M472.8 154.7L474.0 154.5L482.5 160.5L481.3 160.7Z" fill="#f7de69" stroke="#f7de69"/>
<path d="M478.9 162.3L480.1 162.0L480.1 161.0L478.9 161.2Z" fill="#ebc84e" stroke="#ebc84e"/>
<path d="M470.4 156.2L478.9 162.3L478.9 161.2L470.4 155.2Z" fill="#765d23" stroke="#765d23"/>
<path d="M470.4 155.2L471.6 155.0L480.1 161.0L478.9 161.2Z" fill="#f7de69" stroke="#f7de69"/>
<path d="M477.7 162.5L478.9 162.3L478.9 161.1L477.7 161.3Z" fill="#ebc84e" stroke="#ebc84e"/>
<path d="M469.2 156.4L477.7 162.5L477.7 161.3L469.2 155.3Z" fill="#765d23" stroke="#765d23"/>
<path d="M469.2 155.3L470.4 155.1L478.9 161.1L477.7 161.3Z" fill="#f7de69" stroke="#f7de69"/>
<path d="M476.5 162.7L477.7 162.5L477.7 161.4L476.5 161.6Z" fill="#ebc84e" stroke="#ebc84e"/>
<path d="M468.0 156.6L476.5 162.7L476.5 161.6L468.0 155.6Z" fill="#765d23" stroke="#765d23"/>
<path d="M468.0 155.6L469.2 155.3L477.7 161.4L476.5 161.6Z" fill="#f7de69" stroke="#f7de69"/>
<path d="M475.2 162.9L476.5 162.7L476.4 161.5L475.2 161.7Z" fill="#ebc84e" stroke="#ebc84e"/>
<path d="M466.8 156.8L475.2 162.9L475.2 161.7L466.8 155.7Z" fill="#765d23" stroke="#765d23"/>
<path d="M466.8 155.7L468.0 155.4L476.4 161.5L475.2 161.7Z" fill="#f7de69" stroke="#f7de69"/>
<path d="M472.8 163.3L474.0 163.1L474.0 161.8L472.8 162.0Z" fill="#ebc84e" stroke="#ebc84e"/>
<path d="M464.4 157.3L472.8 163.3L472.8 162.0L464.4 156.0Z" fill="#765d23" stroke="#765d23"/>
<path d="M464.4 156.0L465.6 155.8L474.0 161.8L472.8 162.0Z" fill="#f7de68" stroke="#f7de68"/>
<path d="M469.1 164.0L470.4 163.7L470.3 162.3L469.1 162.5Z" fill="#ebc84e" stroke="#ebc84e"/>
<path d="M460.8 157.9L469.1 164.0L469.1 162.5L460.8 156.4Z" fill="#765d23" stroke="#765d23"/>
<path d="M460.8 156.4L462.0 156.2L470.3 162.3L469.1 162.5Z" fill="#f7de68" stroke="#f7de68"/>
<path d="M467.9 164.2L469.1 164.0L469.1 162.7L467.9 162.9Z" fill="#ebc84e" stroke="#ebc84e"/>
<path d="M459.6 158.1L467.9 164.2L467.9 162.9L459.5 156.8Z" fill="#765d23" stroke="#765d23"/>
<path d="M459.5 156.8L460.8 156.6L469.1 162.7L467.9 162.9Z" fill="#f7de68" stroke="#f7de68"/>
<path d="M466.7 164.4L467.9 164.2L467.9 162.5L466.7 162.7Z" fill="#ebc84e" stroke="#ebc84e"/>
<path d="M458.3 158.3L466.7 164.4L466.7 162.7L458.3 156.7Z" fill="#765d23" stroke="#765d23"/>
<path d="M458.3 156.7L459.5 156.5L467.9 162.5L466.7 162.7Z" fill="#f7de68" stroke="#f7de68"/>
<path d="M465.5 164.6L466.7 164.4L466.7 162.5L465.4 162.7Z" fill="#ebc74e" stroke="#ebc74e"/>
<path d="M457.1 158.5L465.5 164.6L465.4 162.7L457.1 156.6Z" fill="#765d23" stroke="#765d23"/>
<path d="M457.1 156.6L458.3 156.4L466.7 162.5L465.4 162.7Z" fill="#f7dd68" stroke="#f7dd68"/>
<path d="M463.0 165.0L464.2 164.8L464.2 162.7L463.0 162.9Z" fill="#ebc74e" stroke="#ebc74e"/>
<path d="M454.7 158.9L463.0 165.0L463.0 162.9L454.7 156.8Z" fill="#765d23" stroke="#765d23"/>
<path d="M454.7 156.8L455.9 156.6L464.2 162.7L463.0 162.9Z" fill="#f7dd68" stroke="#f7dd68"/>
<path d="M461.8 165.3L463.0 165.0L463.0 162.8L461.7 163.0Z" fill="#ebc74e" stroke="#ebc74e"/>
<path d="M453.5 159.1L461.8 165.3L461.7 163.0L453.5 156.9Z" fill="#765d23" stroke="#765d23"/>
<path d="M453.5 156.9L454.7 156.7L463.0 162.8L461.7 163.0Z" fill="#f7dd68" stroke="#f7dd68"/>
<path d="M460.5 165.5L461.8 165.3L461.7 162.9L460.5 163.1Z" fill="#ebc74d" stroke="#ebc74d"/>
<path d="M452.3 159.4L460.5 165.5L460.5 163.1L452.2 157.0Z" fill="#765d23" stroke="#765d23"/>
<path d="M452.2 157.0L453.5 156.8L461.7 162.9L460.5 163.1Z" fill="#f7dd68" stroke="#f7dd68"/>
<path d="M458.1 165.9L459.3 165.7L459.3 163.1L458.0 163.3Z" fill="#ebc74d" stroke="#ebc74d"/>
<path d="M449.8 159.8L458.1 165.9L458.0 163.3L449.8 157.2Z" fill="#765d23" stroke="#765d23"/>
<path d="M449.8 157.2L451.0 157.0L459.3 163.1L458.0 163.3Z" fill="#f7dd68" stroke="#f7dd68"/>
<path d="M456.8 166.1L458.1 165.9L458.0 163.0L456.8 163.2Z" fill="#ebc74d" stroke="#ebc74d"/>
<path d="M448.6 160.0L456.8 166.1L456.8 163.2L448.6 157.1Z" fill="#765d23" stroke="#765d23"/>
<path d="M448.6 157.1L449.8 156.9L458.0 163.0L456.8 163.2Z" fill="#f7dd68" stroke="#f7dd68"/>
<path d="M455.6 166.3L456.8 166.1L456.8 163.2L455.6 163.5Z" fill="#ebc74d" stroke="#ebc74d"/>
<path d="M447.4 160.2L455.6 166.3L455.6 163.5L447.3 157.4Z" fill="#765d23" stroke="#765d23"/>
<path d="M447.3 157.4L448.6 157.2L456.8 163.2L455.6 163.5Z" fill="#f7dd68" stroke="#f7dd68"/>
<path d="M454.4 166.6L455.6 166.3L455.6 163.5L454.3 163.8Z" fill="#ebc74d" stroke="#ebc74d"/>
<path d="M446.1 160.4L454.4 166.6L454.3 163.8L446.1 157.6Z" fill="#765d23" stroke="#765d23"/>
<path d="M446.1 157.6L447.3 157.4L455.6 163.5L454.3 163.8Z" fill="#f7dd68" stroke="#f7dd68"/>
<path d="M453.1 166.8L454.4 166.6L454.3 163.7L453.1 163.9Z" fill="#ebc74d" stroke="#ebc74d"/>
<path d="M444.9 160.6L453.1 166.8L453.1 163.9L444.9 157.8Z" fill="#765d23" stroke="#765d23"/>
<path d="M444.9 157.8L446.1 157.6L454.3 163.7L453.1 163.9Z" fill="#f7dd68" stroke="#f7dd68"/>
<path d="M451.9 167.0L453.1 166.8L453.1 164.2L451.8 164.4Z" fill="#ebc74d" stroke="#ebc74d"/>
<path d="M443.7 160.8L451.9 167.0L451.8 164.4L443.7 158.3Z" fill="#765d23" stroke="#765d23"/>
<path d="M443.7 158.3L444.9 158.1L453.1 164.2L451.8 164.4Z" fill="#f7dd68" stroke="#f7dd68"/>
<path d="M449.4 167.4L450.6 167.2L450.6 164.6L449.4 164.8Z" fill="#ebc74d" stroke="#ebc74d"/>
<path d="M441.2 161.3L449.4 167.4L449.4 164.8L441.2 158.7Z" fill="#765d23" stroke="#765d23"/>
<path d="M441.2 158.7L442.4 158.4L450.6 164.6L449.4 164.8Z" fill="#f7dd68" stroke="#f7dd68"/>
<path d="M446.9 167.9L448.1 167.6L448.1 165.1L446.9 165.3Z" fill="#ebc74d" stroke="#ebc74d"/>
<path d="M438.8 161.7L446.9 167.9L446.9 165.3L438.7 159.2Z" fill="#765d23" stroke="#765d23"/>
<path d="M438.7 159.2L440.0 159.0L448.1 165.1L446.9 165.3Z" fill="#f7dd68" stroke="#f7dd68"/>
<path d="M445.7 168.1L446.9 167.9L446.9 164.7L445.6 164.9Z" fill="#ebc74d" stroke="#ebc74d"/>
<path d="M437.5 161.9L445.7 168.1L445.6 164.9L437.5 158.8Z" fill="#765d23" stroke="#765d23"/>
<path d="M437.5 158.8L438.7 158.6L446.9 164.7L445.6 164.9Z" fill="#f7dd68" stroke="#f7dd68"/>
<path d="M444.4 168.3L445.7 168.1L445.6 164.8L444.4 165.1Z" fill="#ebc74d" stroke="#ebc74d"/>
<path d="M436.3 162.1L444.4 168.3L444.4 165.1L436.3 158.9Z" fill="#765d23" stroke="#765d23"/>
<path d="M436.3 158.9L437.5 158.7L445.6 164.8L444.4 165.1Z" fill="#f7dd68" stroke="#f7dd68"/>
<path d="M443.2 168.5L444.4 168.3L444.4 165.3L443.1 165.5Z" fill="#ebc74d" stroke="#ebc74d"/>
<path d="M435.1 162.3L443.2 168.5L443.1 165.5L435.0 159.4Z" fill="#765d23" stroke="#765d23"/>
<path d="M435.0 159.4L436.3 159.1L444.4 165.3L443.1 165.5Z" fill="#f7dd68" stroke="#f7dd68"/>
<path d="M441.9 168.7L443.2 168.5L443.1 165.6L441.9 165.8Z" fill="#ebc74d" stroke="#ebc74d"/>
<path d="M433.8 162.5L441.9 168.7L441.9 165.8L433.8 159.6Z" fill="#765d23" stroke="#765d23"/>
<path d="M433.8 159.6L435.0 159.4L443.1 165.6L441.9 165.8Z" fill="#f7dd68" stroke="#f7dd68"/>
<path d="M440.7 169.0L441.9 168.7L441.9 166.0L440.6 166.2Z" fill="#ebc74d" stroke="#ebc74d"/>
<path d="M432.6 162.7L440.7 169.0L440.6 166.2L432.5 160.1Z" fill="#765d23" stroke="#765d23"/>
<path d="M432.5 160.1L433.8 159.9L441.9 166.0L440.6 166.2Z" fill="#f7dd68" stroke="#f7dd68"/>
<path d="M438.2 169.4L439.4 169.2L439.4 166.4L438.1 166.6Z" fill="#ebc74d" stroke="#ebc74d"/>
<path d="M430.1 163.2L438.2 169.4L438.1 166.6L430.1 160.4Z" fill="#765d23" stroke="#765d23"/>
<path d="M430.1 160.4L431.3 160.2L439.4 166.4L438.1 166.6Z" fill="#f7dd68" stroke="#f7dd68"/>
<path d="M436.9 169.6L438.2 169.4L438.1 167.3L436.9 167.5Z" fill="#ebc74e" stroke="#ebc74e"/>
<path d="M428.9 163.4L436.9 169.6L436.9 167.5L428.8 161.3Z" fill="#765d23" stroke="#765d23"/>
<path d="M428.8 161.3L430.1 161.1L438.1 167.3L436.9 167.5Z" fill="#f7dd68" stroke="#f7dd68"/>
<path d="M435.6 169.8L436.9 169.6L436.9 167.5L435.6 167.7Z" fill="#ebc74e" stroke="#ebc74e"/>
<path d="M427.6 163.6L435.6 169.8L435.6 167.7L427.6 161.5Z" fill="#765d23" stroke="#765d23"/>
<path d="M427.6 161.5L428.8 161.3L436.9 167.5L435.6 167.7Z" fill="#f7dd68" stroke="#f7dd68"/>
<path d="M434.4 170.1L435.6 169.8L435.6 167.9L434.4 168.1Z" fill="#ebc74e" stroke="#ebc74e"/>
<path d="M426.4 163.8L434.4 170.1L434.4 168.1L426.3 161.9Z" fill="#765d23" stroke="#765d23"/>
<path d="M426.3 161.9L427.6 161.7L435.6 167.9L434.4 168.1Z" fill="#f7dd68" stroke="#f7dd68"/>
<path d="M433.1 170.3L434.4 170.1L434.4 167.8L433.1 168.0Z" fill="#ebc74e" stroke="#ebc74e"/>
<path d="M425.1 164.0L433.1 170.3L433.1 168.0L425.1 161.8Z" fill="#765d23" stroke="#765d23"/>
<path d="M425.1 161.8L426.3 161.6L434.4 167.8L433.1 168.0Z" fill="#f7dd68" stroke="#f7dd68"/>
<path d="M431.9 170.5L433.1 170.3L433.1 168.3L431.8 168.5Z" fill="#ebc74e" stroke="#ebc74e"/>
<path d="M423.9 164.2L431.9 170.5L431.8 168.5L423.9 162.3Z" fill="#765d23" stroke="#765d23"/>
<path d="M423.9 162.3L425.1 162.1L433.1 168.3L431.8 168.5Z" fill="#f7dd68" stroke="#f7dd68"/>
<path d="M430.6 170.7L431.9 170.5L431.8 168.7L430.6 168.9Z" fill="#ebc84e" stroke="#ebc84e"/>
<path d="M422.6 164.5L430.6 170.7L430.6 168.9L422.6 162.7Z" fill="#765d23" stroke="#765d23"/>
<path d="M422.6 162.7L423.9 162.4L431.8 168.7L430.6 168.9Z" fill="#f7de68" stroke="#f7de68"/>
<path d="M429.3 170.9L430.6 170.7L430.6 169.3L429.3 169.5Z" fill="#ebc84e" stroke="#ebc84e"/>
<path d="M421.4 164.7L429.3 170.9L429.3 169.5L421.4 163.3Z" fill="#765d23" stroke="#765d23"/>
<path d="M421.4 163.3L422.6 163.1L430.6 169.3L429.3 169.5Z" fill="#f7de68" stroke="#f7de68"/>
<path d="M428.1 171.2L429.3 170.9L429.3 169.3L428.1 169.5Z" fill="#ebc84e" stroke="#ebc84e"/>
<path d="M420.1 164.9L428.1 171.2L428.1 169.5L420.1 163.2Z" fill="#765d23" stroke="#765d23"/>
<path d="M420.1 163.2L421.4 163.0L429.3 169.3L428.1 169.5Z" fill="#f7de68" stroke="#f7de68"/>
<path d="M426.8 171.4L428.1 171.2L428.1 170.0L426.8 170.2Z" fill="#ebc84e" stroke="#ebc84e"/>
<path d="M418.9 165.1L426.8 171.4L426.8 170.2L418.9 163.9Z" fill="#765d23" stroke="#765d23"/>
<path d="M418.9 163.9L420.1 163.7L428.1 170.0L426.8 170.2Z" fill="#f7de69" stroke="#f7de69"/>
<path d="M530.3 161.2L531.5 161.0L531.7 134.2L530.5 134.4Z" fill="#ebc148" stroke="#ebc148"/>
<path d="M521.2 155.2L530.3 161.2L530.5 134.4L521.3 128.7Z" fill="#755921" stroke="#755921"/>
<path d="M521.3 128.7L522.5 128.6L531.7 134.2L530.5 134.4Z" fill="#f6d75e" stroke="#f6d75e"/>
<path d="M526.7 161.9L527.9 161.6L528.0 139.1L526.8 139.3Z" fill="#ebc249" stroke="#ebc249"/>
<path d="M517.7 155.8L526.7 161.9L526.8 139.3L517.7 133.5Z" fill="#755a21" stroke="#755a21"/>
<path d="M517.7 133.5L518.9 133.3L528.0 139.1L526.8 139.3Z" fill="#f6d860" stroke="#f6d860"/>
<path d="M520.7 162.9L521.9 162.7L522.0 161.1L520.8 161.3Z" fill="#ebc84e" stroke="#ebc84e"/>
<path d="M511.7 156.9L520.7 162.9L520.8 161.3L511.8 155.3Z" fill="#765d23" stroke="#765d23"/>
<path d="M511.8 155.3L512.9 155.1L522.0 161.1L520.8 161.3Z" fill="#f7de68" stroke="#f7de68"/>
<path d="M519.5 163.1L520.7 162.9L520.8 161.4L519.6 161.6Z" fill="#ebc84e" stroke="#ebc84e"/>
<path d="M510.6 157.1L519.5 163.1L519.6 161.6L510.6 155.6Z" fill="#765d23" stroke="#765d23"/>
<path d="M510.6 155.6L511.8 155.4L520.8 161.4L519.6 161.6Z" fill="#f7de68" stroke="#f7de68"/>
<path d="M517.2 163.6L518.4 163.3L518.4 161.7L517.2 162.0Z" fill="#ebc84e" stroke="#ebc84e"/>
<path d="M508.2 157.5L517.2 163.6L517.2 162.0L508.2 155.9Z" fill="#765d23" stroke="#765d23"/>
<path d="M508.2 155.9L509.4 155.7L518.4 161.7L517.2 162.0Z" fill="#f7de68" stroke="#f7de68"/>
<path d="M511.1 164.6L512.3 164.4L512.3 162.8L511.1 163.0Z" fill="#ebc84e" stroke="#ebc84e"/>
<path d="M502.2 158.5L511.1 164.6L511.1 163.0L502.2 156.9Z" fill="#765d23" stroke="#765d23"/>
<path d="M502.2 156.9L503.4 156.7L512.3 162.8L511.1 163.0Z" fill="#f7de68" stroke="#f7de68"/>
<path d="M509.9 164.8L511.1 164.6L511.2 142.7L510.0 142.9Z" fill="#ebc249" stroke="#ebc249"/>
<path d="M501.0 158.8L509.9 164.8L510.0 142.9L501.0 137.0Z" fill="#755a21" stroke="#755a21"/>
<path d="M501.0 137.0L502.2 136.8L511.2 142.7L510.0 142.9Z" fill="#f6d860" stroke="#f6d860"/>
<path d="M506.3 165.5L507.5 165.3L507.5 148.7L506.3 148.9Z" fill="#ebc34a" stroke="#ebc34a"/>
<path d="M497.4 159.4L506.3 165.5L506.3 148.9L497.4 143.0Z" fill="#755b22" stroke="#755b22"/>
<path d="M497.4 143.0L498.6 142.8L507.5 148.7L506.3 148.9Z" fill="#f7d962" stroke="#f7d962"/>
<path d="M503.9 165.9L505.1 165.7L505.1 164.3L503.9 164.5Z" fill="#ebc84e" stroke="#ebc84e"/>
<path d="M495.0 159.8L503.9 165.9L503.9 164.5L495.0 158.4Z" fill="#765d23" stroke="#765d23"/>
<path d="M495.0 158.4L496.2 158.2L505.1 164.3L503.9 164.5Z" fill="#f7de68" stroke="#f7de68"/>
<path d="M502.7 166.1L503.9 165.9L503.9 153.0L502.7 153.2Z" fill="#ebc44b" stroke="#ebc44b"/>
<path d="M493.8 160.0L502.7 166.1L502.7 153.2L493.8 147.3Z" fill="#755b22" stroke="#755b22"/>
<path d="M493.8 147.3L495.0 147.1L503.9 153.0L502.7 153.2Z" fill="#f7da64" stroke="#f7da64"/>
<path d="M499.0 166.8L500.2 166.6L500.2 165.0L499.0 165.2Z" fill="#ebc84e" stroke="#ebc84e"/>
<path d="M490.2 160.7L499.0 166.8L499.0 165.2L490.2 159.1Z" fill="#765d23" stroke="#765d23"/>
<path d="M490.2 159.1L491.4 158.9L500.2 165.0L499.0 165.2Z" fill="#f7de68" stroke="#f7de68"/>
<path d="M497.8 167.0L499.0 166.8L499.0 165.5L497.8 165.7Z" fill="#ebc84e" stroke="#ebc84e"/>
<path d="M489.0 160.9L497.8 167.0L497.8 165.7L489.0 159.6Z" fill="#765d23" stroke="#765d23"/>
<path d="M489.0 159.6L490.2 159.4L499.0 165.5L497.8 165.7Z" fill="#f7de68" stroke="#f7de68"/>
<path d="M490.5 168.3L491.7 168.1L491.7 166.9L490.5 167.1Z" fill="#ebc84e" stroke="#ebc84e"/>
<path d="M481.8 162.1L490.5 168.3L490.5 167.1L481.8 160.9Z" fill="#765d23" stroke="#765d23"/>
<path d="M481.8 160.9L483.0 160.7L491.7 166.9L490.5 167.1Z" fill="#f7de68" stroke="#f7de68"/>
<path d="M489.2 168.5L490.5 168.3L490.5 166.6L489.2 166.9Z" fill="#ebc84e" stroke="#ebc84e"/>
<path d="M480.5 162.4L489.2 168.5L489.2 166.9L480.5 160.7Z" fill="#765d23" stroke="#765d23"/>
<path d="M480.5 160.7L481.8 160.5L490.5 166.6L489.2 166.9Z" fill="#f7de68" stroke="#f7de68"/>
<path d="M485.6 169.2L486.8 169.0L486.8 167.5L485.6 167.8Z" fill="#ebc84e" stroke="#ebc84e"/>
<path d="M476.9 163.0L485.6 169.2L485.6 167.8L476.9 161.6Z" fill="#765d23" stroke="#765d23"/>
<path d="M476.9 161.6L478.1 161.3L486.8 167.5L485.6 167.8Z" fill="#f7de68" stroke="#f7de68"/>
<path d="M484.3 169.4L485.6 169.2L485.6 167.8L484.3 168.1Z" fill="#ebc84e" stroke="#ebc84e"/>
<path d="M475.7 163.2L484.3 169.4L484.3 168.1L475.7 161.9Z" fill="#765d23" stroke="#765d23"/>
<path d="M475.7 161.9L476.9 161.7L485.6 167.8L484.3 168.1Z" fill="#f7de68" stroke="#f7de68"/>
<path d="M481.9 169.9L483.1 169.6L483.1 168.0L481.9 168.3Z" fill="#ebc84e" stroke="#ebc84e"/>
<path d="M473.2 163.6L481.9 169.9L481.9 168.3L473.2 162.0Z" fill="#765d23" stroke="#765d23"/>
<path d="M473.2 162.0L474.4 161.8L483.1 168.0L481.9 168.3Z" fill="#f7de68" stroke="#f7de68"/>
<path d="M480.6 170.1L481.9 169.9L481.9 168.5L480.6 168.7Z" fill="#ebc84e" stroke="#ebc84e"/>
<path d="M472.0 163.8L480.6 170.1L480.6 168.7L472.0 162.5Z" fill="#765d23" stroke="#765d23"/>
<path d="M472.0 162.5L473.2 162.3L481.9 168.5L480.6 168.7Z" fill="#f7de68" stroke="#f7de68"/>
<path d="M540.1 167.7L541.3 167.5L541.6 132.9L540.4 133.2Z" fill="#ebbf47" stroke="#ebbf47"/>
<path d="M530.8 161.5L540.1 167.7L540.4 133.2L531.0 127.4Z" fill="#745820" stroke="#745820"/>
<path d="M531.0 127.4L532.2 127.2L541.6 132.9L540.4 133.2Z" fill="#f6d55b" stroke="#f6d55b"/>
<path d="M530.5 169.4L531.7 169.2L531.7 159.0L530.5 159.2Z" fill="#ebc54c" stroke="#ebc54c"/>
<path d="M521.2 163.2L530.5 169.4L530.5 159.2L521.3 153.2Z" fill="#755c22" stroke="#755c22"/>
<path d="M521.3 153.2L522.5 153.0L531.7 159.0L530.5 159.2Z" fill="#f7db65" stroke="#f7db65"/>
<path d="M524.4 170.5L525.6 170.3L525.7 151.9L524.5 152.1Z" fill="#ebc34a" stroke="#ebc34a"/>
<path d="M515.2 164.3L524.4 170.5L524.5 152.1L515.3 146.1Z" fill="#755b22" stroke="#755b22"/>
<path d="M515.3 146.1L516.5 145.9L525.7 151.9L524.5 152.1Z" fill="#f7d962" stroke="#f7d962"/>
<path d="M519.5 171.4L520.8 171.2L520.8 151.6L519.6 151.8Z" fill="#ebc34a" stroke="#ebc34a"/>
<path d="M510.4 165.2L519.5 171.4L519.6 151.8L510.4 145.8Z" fill="#755a21" stroke="#755a21"/>
<path d="M510.4 145.8L511.7 145.6L520.8 151.6L519.6 151.8Z" fill="#f6d961" stroke="#f6d961"/>
<path d="M515.9 172.1L517.1 171.9L517.2 150.4L516.0 150.7Z" fill="#ebc249" stroke="#ebc249"/>
<path d="M506.8 165.8L515.9 172.1L516.0 150.7L506.8 144.6Z" fill="#755a21" stroke="#755a21"/>
<path d="M506.8 144.6L508.0 144.4L517.2 150.4L516.0 150.7Z" fill="#f6d860" stroke="#f6d860"/>
<path d="M513.4 172.5L514.7 172.3L514.7 152.3L513.5 152.5Z" fill="#ebc34a" stroke="#ebc34a"/>
<path d="M504.3 166.2L513.4 172.5L513.5 152.5L504.4 146.5Z" fill="#755a21" stroke="#755a21"/>
<path d="M504.4 146.5L505.6 146.3L514.7 152.3L513.5 152.5Z" fill="#f6d961" stroke="#f6d961"/>
<path d="M512.2 172.8L513.4 172.5L513.5 155.9L512.2 156.2Z" fill="#ebc44a" stroke="#ebc44a"/>
<path d="M503.1 166.5L512.2 172.8L512.2 156.2L503.1 150.1Z" fill="#755b22" stroke="#755b22"/>
<path d="M503.1 150.1L504.4 149.9L513.5 155.9L512.2 156.2Z" fill="#f7da62" stroke="#f7da62"/>
<path d="M511.0 173.0L512.2 172.8L512.2 171.2L511.0 171.5Z" fill="#ebc84e" stroke="#ebc84e"/>
<path d="M501.9 166.7L511.0 173.0L511.0 171.5L501.9 165.2Z" fill="#765d23" stroke="#765d23"/>
<path d="M501.9 165.2L503.1 165.0L512.2 171.2L511.0 171.5Z" fill="#f7de68" stroke="#f7de68"/>
<path d="M509.7 173.2L511.0 173.0L511.0 171.4L509.7 171.6Z" fill="#ebc84e" stroke="#ebc84e"/>
<path d="M500.7 166.9L509.7 173.2L509.7 171.6L500.7 165.3Z" fill="#765d23" stroke="#765d23"/>
<path d="M500.7 165.3L501.9 165.1L511.0 171.4L509.7 171.6Z" fill="#f7de68" stroke="#f7de68"/>
<path d="M508.5 173.4L509.7 173.2L509.8 162.0L508.5 162.2Z" fill="#ebc54c" stroke="#ebc54c"/>
<path d="M499.5 167.1L508.5 173.4L508.5 162.2L499.5 156.0Z" fill="#755b22" stroke="#755b22"/>
<path d="M499.5 156.0L500.7 155.8L509.8 162.0L508.5 162.2Z" fill="#f7db64" stroke="#f7db64"/>
<path d="M507.3 173.7L508.5 173.4L508.5 172.0L507.3 172.2Z" fill="#ebc84e" stroke="#ebc84e"/>
<path d="M498.3 167.3L507.3 173.7L507.3 172.2L498.3 165.9Z" fill="#765d23" stroke="#765d23"/>
<path d="M498.3 165.9L499.5 165.7L508.5 172.0L507.3 172.2Z" fill="#f7de68" stroke="#f7de68"/>
<path d="M504.8 174.1L506.1 173.9L506.1 172.4L504.8 172.6Z" fill="#ebc84e" stroke="#ebc84e"/>
<path d="M495.8 167.8L504.8 174.1L504.8 172.6L495.8 166.3Z" fill="#765d23" stroke="#765d23"/>
<path d="M495.8 166.3L497.0 166.1L506.1 172.4L504.8 172.6Z" fill="#f7de68" stroke="#f7de68"/>
<path d="M502.4 174.6L503.6 174.3L503.6 171.0L502.4 171.3Z" fill="#ebc74d" stroke="#ebc74d"/>
<path d="M493.4 168.2L502.4 174.6L502.4 171.3L493.4 164.9Z" fill="#765d23" stroke="#765d23"/>
<path d="M493.4 164.9L494.6 164.7L503.6 171.0L502.4 171.3Z" fill="#f7dd68" stroke="#f7dd68"/>
<path d="M501.1 174.8L502.4 174.6L502.4 172.9L501.1 173.1Z" fill="#ebc84e" stroke="#ebc84e"/>
<path d="M492.1 168.4L501.1 174.8L501.1 173.1L492.1 166.7Z" fill="#765d23" stroke="#765d23"/>
<path d="M492.1 166.7L493.4 166.5L502.4 172.9L501.1 173.1Z" fill="#f7de68" stroke="#f7de68"/>
<path d="M497.4 175.5L498.6 175.2L498.6 173.9L497.4 174.1Z" fill="#ebc84e" stroke="#ebc84e"/>
<path d="M488.5 169.1L497.4 175.5L497.4 174.1L488.5 167.8Z" fill="#765d23" stroke="#765d23"/>
<path d="M488.5 167.8L489.7 167.6L498.6 173.9L497.4 174.1Z" fill="#f7de68" stroke="#f7de68"/>
<path d="M491.2 176.6L492.4 176.4L492.4 175.0L491.2 175.2Z" fill="#ebc84e" stroke="#ebc84e"/>
<path d="M482.3 170.2L491.2 176.6L491.2 175.2L482.3 168.8Z" fill="#765d23" stroke="#765d23"/>
<path d="M482.3 168.8L483.5 168.6L492.4 175.0L491.2 175.2Z" fill="#f7de68" stroke="#f7de68"/>
<path d="M488.7 177.0L489.9 176.8L489.9 175.5L488.7 175.7Z" fill="#ebc84e" stroke="#ebc84e"/>
<path d="M479.8 170.6L488.7 177.0L488.7 175.7L479.8 169.3Z" fill="#765d23" stroke="#765d23"/>
<path d="M479.8 169.3L481.1 169.1L489.9 175.5L488.7 175.7Z" fill="#f7de68" stroke="#f7de68"/>
<path d="M553.8 173.7L555.0 173.5L555.4 141.7L554.2 141.9Z" fill="#ebbf47" stroke="#ebbf47"/>
<path d="M544.2 167.4L553.8 173.7L554.2 141.9L544.5 136.0Z" fill="#745920" stroke="#745920"/>
<path d="M544.5 136.0L545.7 135.8L555.4 141.7L554.2 141.9Z" fill="#f6d55c" stroke="#f6d55c"/>
<path d="M546.5 175.0L547.8 174.8L547.9 165.5L546.6 165.7Z" fill="#ebc64c" stroke="#ebc64c"/>
<path d="M537.0 168.7L546.5 175.0L546.6 165.7L537.1 159.5Z" fill="#765c22" stroke="#765c22"/>
<path d="M537.1 159.5L538.3 159.3L547.9 165.5L546.6 165.7Z" fill="#f7dc65" stroke="#f7dc65"/>
<path d="M545.3 175.2L546.5 175.0L546.7 163.0L545.4 163.2Z" fill="#ebc54b" stroke="#ebc54b"/>
<path d="M535.8 168.9L545.3 175.2L545.4 163.2L535.9 157.0Z" fill="#755b22" stroke="#755b22"/>
<path d="M535.9 157.0L537.1 156.8L546.7 163.0L545.4 163.2Z" fill="#f7db64" stroke="#f7db64"/>
<path d="M542.9 175.7L544.1 175.5L544.3 154.8L543.1 155.0Z" fill="#ebc24a" stroke="#ebc24a"/>
<path d="M533.4 169.3L542.9 175.7L543.1 155.0L533.5 148.9Z" fill="#755a21" stroke="#755a21"/>
<path d="M533.5 148.9L534.7 148.7L544.3 154.8L543.1 155.0Z" fill="#f6d861" stroke="#f6d861"/>
<path d="M531.9 177.7L533.1 177.5L533.3 152.6L532.0 152.9Z" fill="#ebc149" stroke="#ebc149"/>
<path d="M522.5 171.3L531.9 177.7L532.0 152.9L522.6 146.7Z" fill="#755a21" stroke="#755a21"/>
<path d="M522.6 146.7L523.8 146.5L533.3 152.6L532.0 152.9Z" fill="#f6d75f" stroke="#f6d75f"/>
<path d="M523.2 179.3L524.5 179.1L524.5 173.1L523.3 173.4Z" fill="#ebc64d" stroke="#ebc64d"/>
<path d="M513.9 172.9L523.2 179.3L523.3 173.4L513.9 167.0Z" fill="#765c23" stroke="#765c23"/>
<path d="M513.9 167.0L515.1 166.7L524.5 173.1L523.3 173.4Z" fill="#f7dc67" stroke="#f7dc67"/>
<path d="M522.0 179.6L523.2 179.3L523.3 175.7L522.0 176.0Z" fill="#ebc74d" stroke="#ebc74d"/>
<path d="M512.7 173.1L522.0 179.6L522.0 176.0L512.7 169.5Z" fill="#765d23" stroke="#765d23"/>
<path d="M512.7 169.5L513.9 169.3L523.3 175.7L522.0 176.0Z" fill="#f7dd68" stroke="#f7dd68"/>
<path d="M564.2 180.5L565.5 180.3L565.7 159.9L564.5 160.2Z" fill="#ebc34a" stroke="#ebc34a"/>
<path d="M554.3 174.0L564.2 180.5L564.5 160.2L554.5 153.9Z" fill="#755a21" stroke="#755a21"/>
<path d="M554.5 153.9L555.8 153.7L565.7 159.9L564.5 160.2Z" fill="#f6d961" stroke="#f6d961"/>
<path d="M558.1 181.7L559.3 181.4L559.5 170.1L558.3 170.3Z" fill="#ebc54c" stroke="#ebc54c"/>
<path d="M548.3 175.1L558.1 181.7L558.3 170.3L548.4 163.9Z" fill="#755b22" stroke="#755b22"/>
<path d="M548.4 163.9L549.6 163.7L559.5 170.1L558.3 170.3Z" fill="#f7db64" stroke="#f7db64"/>
<path d="M556.9 181.9L558.1 181.7L558.3 169.4L557.0 169.6Z" fill="#ebc54b" stroke="#ebc54b"/>
<path d="M547.0 175.4L556.9 181.9L557.0 169.6L547.2 163.2Z" fill="#755b22" stroke="#755b22"/>
<path d="M547.2 163.2L548.4 163.0L558.3 169.4L557.0 169.6Z" fill="#f7db64" stroke="#f7db64"/>
<path d="M555.7 182.1L556.9 181.9L557.1 163.8L555.9 164.1Z" fill="#ebc34a" stroke="#ebc34a"/>
<path d="M545.8 175.6L555.7 182.1L555.9 164.1L546.0 157.7Z" fill="#755b22" stroke="#755b22"/>
<path d="M546.0 157.7L547.2 157.5L557.1 163.8L555.9 164.1Z" fill="#f7d962" stroke="#f7d962"/>
<path d="M552.0 182.8L553.2 182.6L553.5 153.2L552.3 153.4Z" fill="#ebc048" stroke="#ebc048"/>
<path d="M542.2 176.3L552.0 182.8L552.3 153.4L542.4 147.2Z" fill="#745921" stroke="#745921"/>
<path d="M542.4 147.2L543.7 147.0L553.5 153.2L552.3 153.4Z" fill="#f6d65d" stroke="#f6d65d"/>
<path d="M550.7 183.1L552.0 182.8L552.3 154.4L551.0 154.6Z" fill="#ebc048" stroke="#ebc048"/>
<path d="M541.0 176.5L550.7 183.1L551.0 154.6L541.2 148.4Z" fill="#745921" stroke="#745921"/>
<path d="M541.2 148.4L542.4 148.1L552.3 154.4L551.0 154.6Z" fill="#f6d65e" stroke="#f6d65e"/>
<path d="M548.3 183.5L549.5 183.3L549.9 149.3L548.6 149.5Z" fill="#ebbf47" stroke="#ebbf47"/>
<path d="M538.5 176.9L548.3 183.5L548.6 149.5L538.8 143.3Z" fill="#745920" stroke="#745920"/>
<path d="M538.8 143.3L540.0 143.1L549.9 149.3L548.6 149.5Z" fill="#f6d55c" stroke="#f6d55c"/>
<path d="M545.8 184.0L547.0 183.7L547.3 159.0L546.0 159.2Z" fill="#ebc149" stroke="#ebc149"/>
<path d="M536.1 177.4L545.8 184.0L546.0 159.2L536.2 152.9Z" fill="#755a21" stroke="#755a21"/>
<path d="M536.2 152.9L537.5 152.7L547.3 159.0L546.0 159.2Z" fill="#f6d75f" stroke="#f6d75f"/>
<path d="M540.8 184.9L542.1 184.7L542.2 168.7L541.0 168.9Z" fill="#ebc44b" stroke="#ebc44b"/>
<path d="M531.1 178.3L540.8 184.9L541.0 168.9L531.2 162.5Z" fill="#755b22" stroke="#755b22"/>
<path d="M531.2 162.5L532.5 162.3L542.2 168.7L541.0 168.9Z" fill="#f7da63" stroke="#f7da63"/>
<path d="M574.9 187.5L576.2 187.3L577.1 129.9L575.8 130.1Z" fill="#eea830" stroke="#eea830"/>
<path d="M564.7 180.8L574.9 187.5L575.8 130.1L565.5 124.2Z" fill="#6d4a17" stroke="#6d4a17"/>
<path d="M565.5 124.2L566.7 124.0L577.1 129.9L575.8 130.1Z" fill="#f5b840" stroke="#f5b840"/>
<path d="M568.8 188.7L570.0 188.5L570.3 168.4L569.1 168.7Z" fill="#ebc34a" stroke="#ebc34a"/>
<path d="M558.6 182.0L568.8 188.7L569.1 168.7L558.9 162.2Z" fill="#755a21" stroke="#755a21"/>
<path d="M558.9 162.2L560.1 162.0L570.3 168.4L569.1 168.7Z" fill="#f6d961" stroke="#f6d961"/>
<path d="M567.5 189.0L568.8 188.7L569.1 164.8L567.9 165.0Z" fill="#ebc249" stroke="#ebc249"/>
<path d="M557.4 182.2L567.5 189.0L567.9 165.0L557.7 158.6Z" fill="#755a21" stroke="#755a21"/>
<path d="M557.7 158.6L558.9 158.3L569.1 164.8L567.9 165.0Z" fill="#f6d860" stroke="#f6d860"/>
<path d="M566.3 189.2L567.5 189.0L567.9 161.6L566.7 161.8Z" fill="#ebc148" stroke="#ebc148"/>
<path d="M556.2 182.5L566.3 189.2L566.7 161.8L556.5 155.4Z" fill="#755921" stroke="#755921"/>
<path d="M556.5 155.4L557.7 155.2L567.9 161.6L566.7 161.8Z" fill="#f6d75e" stroke="#f6d75e"/>
<path d="M565.0 189.4L566.3 189.2L566.6 163.3L565.4 163.5Z" fill="#ebc149" stroke="#ebc149"/>
<path d="M554.9 182.7L565.0 189.4L565.4 163.5L555.2 157.1Z" fill="#755a21" stroke="#755a21"/>
<path d="M555.2 157.1L556.5 156.9L566.6 163.3L565.4 163.5Z" fill="#f6d75f" stroke="#f6d75f"/>
<path d="M563.8 189.7L565.0 189.4L565.4 164.0L564.1 164.2Z" fill="#ebc149" stroke="#ebc149"/>
<path d="M553.7 182.9L563.8 189.7L564.1 164.2L554.0 157.7Z" fill="#755a21" stroke="#755a21"/>
<path d="M554.0 157.7L555.2 157.5L565.4 164.0L564.1 164.2Z" fill="#f6d75f" stroke="#f6d75f"/>
<path d="M560.1 190.4L561.3 190.2L561.7 163.3L560.4 163.5Z" fill="#ebc148" stroke="#ebc148"/>
<path d="M550.0 183.6L560.1 190.4L560.4 163.5L550.3 157.1Z" fill="#755a21" stroke="#755a21"/>
<path d="M550.3 157.1L551.5 156.9L561.7 163.3L560.4 163.5Z" fill="#f6d75f" stroke="#f6d75f"/>
<path d="M555.1 191.4L556.3 191.1L556.6 168.1L555.3 168.4Z" fill="#ebc249" stroke="#ebc249"/>
<path d="M545.1 184.6L555.1 191.4L555.3 168.4L545.3 161.9Z" fill="#755a21" stroke="#755a21"/>
<path d="M545.3 161.9L546.5 161.6L556.6 168.1L555.3 168.4Z" fill="#f6d860" stroke="#f6d860"/>
<path d="M553.8 191.6L555.1 191.4L555.2 175.4L554.0 175.6Z" fill="#ebc44b" stroke="#ebc44b"/>
<path d="M543.8 184.8L553.8 191.6L554.0 175.6L544.0 169.0Z" fill="#755b22" stroke="#755b22"/>
<path d="M544.0 169.0L545.2 168.8L555.2 175.4L554.0 175.6Z" fill="#f7da63" stroke="#f7da63"/>
<path d="M552.6 191.8L553.8 191.6L554.0 178.0L552.7 178.2Z" fill="#ebc44b" stroke="#ebc44b"/>
<path d="M542.6 185.0L552.6 191.8L552.7 178.2L542.7 171.6Z" fill="#755b22" stroke="#755b22"/>
<path d="M542.7 171.6L543.9 171.3L554.0 178.0L552.7 178.2Z" fill="#f7da64" stroke="#f7da64"/>
<path d="M547.5 192.8L548.8 192.6L548.8 187.9L547.6 188.2Z" fill="#ebc74d" stroke="#ebc74d"/>
<path d="M537.6 186.0L547.5 192.8L547.6 188.2L537.6 181.4Z" fill="#765c23" stroke="#765c23"/>
<path d="M537.6 181.4L538.9 181.2L548.8 187.9L547.6 188.2Z" fill="#f7dd67" stroke="#f7dd67"/>
<path d="M586.0 194.8L587.2 194.5L588.9 102.1L587.6 102.3Z" fill="#ec7c27" stroke="#ec7c27"/>
<path d="M575.5 187.9L586.0 194.8L587.6 102.3L576.9 96.6Z" fill="#6d3512" stroke="#6d3512"/>
<path d="M576.9 96.6L578.2 96.4L588.9 102.1L587.6 102.3Z" fill="#f28b31" stroke="#f28b31"/>
<path d="M581.0 195.7L582.2 195.5L582.4 187.5L581.1 187.7Z" fill="#ebc64c" stroke="#ebc64c"/>
<path d="M570.5 188.8L581.0 195.7L581.1 187.7L570.6 180.9Z" fill="#765c22" stroke="#765c22"/>
<path d="M570.6 180.9L571.9 180.7L582.4 187.5L581.1 187.7Z" fill="#f7dc66" stroke="#f7dc66"/>
<path d="M578.5 196.2L579.7 196.0L580.2 165.1L579.0 165.3Z" fill="#ebc048" stroke="#ebc048"/>
<path d="M568.1 189.3L578.5 196.2L579.0 165.3L568.5 158.7Z" fill="#745921" stroke="#745921"/>
<path d="M568.5 158.7L569.7 158.5L580.2 165.1L579.0 165.3Z" fill="#f6d65d" stroke="#f6d65d"/>
<path d="M577.2 196.5L578.5 196.2L578.8 178.4L577.5 178.6Z" fill="#ebc34a" stroke="#ebc34a"/>
<path d="M566.8 189.5L577.2 196.5L577.5 178.6L567.1 171.9Z" fill="#755b22" stroke="#755b22"/>
<path d="M567.1 171.9L568.3 171.7L578.8 178.4L577.5 178.6Z" fill="#f7d962" stroke="#f7d962"/>
<path d="M574.7 197.0L576.0 196.7L576.3 174.1L575.1 174.3Z" fill="#ebc249" stroke="#ebc249"/>
<path d="M564.3 190.0L574.7 197.0L575.1 174.3L564.6 167.7Z" fill="#755a21" stroke="#755a21"/>
<path d="M564.6 167.7L565.9 167.4L576.3 174.1L575.1 174.3Z" fill="#f6d860" stroke="#f6d860"/>
<path d="M570.9 197.7L572.2 197.5L572.5 178.0L571.2 178.3Z" fill="#ebc34a" stroke="#ebc34a"/>
<path d="M560.6 190.7L570.9 197.7L571.2 178.3L560.8 171.6Z" fill="#755b22" stroke="#755b22"/>
<path d="M560.8 171.6L562.1 171.3L572.5 178.0L571.2 178.3Z" fill="#f7d962" stroke="#f7d962"/>
<path d="M567.2 198.4L568.4 198.2L568.7 180.2L567.4 180.5Z" fill="#ebc34a" stroke="#ebc34a"/>
<path d="M556.8 191.5L567.2 198.4L567.4 180.5L557.0 173.7Z" fill="#755b22" stroke="#755b22"/>
<path d="M557.0 173.7L558.3 173.5L568.7 180.2L567.4 180.5Z" fill="#f7d962" stroke="#f7d962"/>
<path d="M563.4 199.2L564.6 198.9L564.7 192.0L563.4 192.2Z" fill="#ebc64d" stroke="#ebc64d"/>
<path d="M553.1 192.2L563.4 199.2L563.4 192.2L553.2 185.3Z" fill="#765c22" stroke="#765c22"/>
<path d="M553.2 185.3L554.4 185.0L564.7 192.0L563.4 192.2Z" fill="#f7dc66" stroke="#f7dc66"/>
<path d="M559.5 199.9L560.8 199.7L560.8 197.2L559.6 197.4Z" fill="#ebc74d" stroke="#ebc74d"/>
<path d="M549.3 192.9L559.5 199.9L559.6 197.4L549.3 190.4Z" fill="#765d23" stroke="#765d23"/>
<path d="M549.3 190.4L550.6 190.2L560.8 197.2L559.6 197.4Z" fill="#f7dd68" stroke="#f7dd68"/>
<path d="M597.3 202.2L598.6 202.0L601.5 60.8L600.2 61.0Z" fill="#c5403a" stroke="#c5403a"/>
<path d="M586.5 195.1L597.3 202.2L600.2 61.0L589.0 55.7Z" fill="#571d1d" stroke="#571d1d"/>
<path d="M589.0 55.7L590.3 55.5L601.5 60.8L600.2 61.0Z" fill="#c2433f" stroke="#c2433f"/>
<path d="M593.5 203.0L594.8 202.7L594.9 198.4L593.6 198.7Z" fill="#ebc74d" stroke="#ebc74d"/>
<path d="M582.8 195.9L593.5 203.0L593.6 198.7L582.8 191.6Z" fill="#765c23" stroke="#765c23"/>
<path d="M582.8 191.6L584.1 191.4L594.9 198.4L593.6 198.7Z" fill="#f7dd67" stroke="#f7dd67"/>
<path d="M592.3 203.2L593.5 203.0L593.7 196.9L592.4 197.2Z" fill="#ebc64d" stroke="#ebc64d"/>
<path d="M581.5 196.1L592.3 203.2L592.4 197.2L581.6 190.2Z" fill="#765c23" stroke="#765c23"/>
<path d="M581.6 190.2L582.9 189.9L593.7 196.9L592.4 197.2Z" fill="#f7dc67" stroke="#f7dc67"/>
<path d="M586.0 204.5L587.2 204.2L587.5 187.5L586.3 187.8Z" fill="#ebc44b" stroke="#ebc44b"/>
<path d="M575.3 197.3L586.0 204.5L586.3 187.8L575.5 180.8Z" fill="#755b22" stroke="#755b22"/>
<path d="M575.5 180.8L576.8 180.6L587.5 187.5L586.3 187.8Z" fill="#f7da63" stroke="#f7da63"/>
<path d="M577.0 206.3L578.3 206.0L578.5 195.8L577.2 196.0Z" fill="#ebc54c" stroke="#ebc54c"/>
<path d="M566.4 199.1L577.0 206.3L577.2 196.0L566.6 188.9Z" fill="#755c22" stroke="#755c22"/>
<path d="M566.6 188.9L567.8 188.7L578.5 195.8L577.2 196.0Z" fill="#f7db65" stroke="#f7db65"/>
<path d="M575.8 206.5L577.0 206.3L577.2 197.6L575.9 197.8Z" fill="#ebc64c" stroke="#ebc64c"/>
<path d="M565.2 199.3L575.8 206.5L575.9 197.8L565.3 190.7Z" fill="#765c22" stroke="#765c22"/>
<path d="M565.3 190.7L566.5 190.5L577.2 197.6L575.9 197.8Z" fill="#f7dc66" stroke="#f7dc66"/>
<path d="M571.9 207.3L573.2 207.0L573.2 203.8L572.0 204.1Z" fill="#ebc74d" stroke="#ebc74d"/>
<path d="M561.3 200.1L571.9 207.3L572.0 204.1L561.4 196.9Z" fill="#765d23" stroke="#765d23"/>
<path d="M561.4 196.9L562.7 196.6L573.2 203.8L572.0 204.1Z" fill="#f7dd68" stroke="#f7dd68"/>
<path d="M570.6 207.5L571.9 207.3L571.9 205.8L570.6 206.0Z" fill="#ebc84e" stroke="#ebc84e"/>
<path d="M560.1 200.3L570.6 207.5L570.6 206.0L560.1 198.8Z" fill="#765d23" stroke="#765d23"/>
<path d="M560.1 198.8L561.4 198.5L571.9 205.8L570.6 206.0Z" fill="#f7de68" stroke="#f7de68"/>
<path d="M609.0 209.9L610.3 209.6L613.9 53.7L612.5 53.9Z" fill="#ba384f" stroke="#ba384f"/>
<path d="M597.9 202.6L609.0 209.9L612.5 53.9L601.0 48.7Z" fill="#4c1923" stroke="#4c1923"/>
<path d="M601.0 48.7L602.3 48.5L613.9 53.7L612.5 53.9Z" fill="#a22e4a" stroke="#a22e4a"/>
<path d="M601.4 211.4L602.7 211.2L602.9 201.5L601.6 201.8Z" fill="#ebc64c" stroke="#ebc64c"/>
<path d="M590.3 204.1L601.4 211.4L601.6 201.8L590.5 194.5Z" fill="#765c22" stroke="#765c22"/>
<path d="M590.5 194.5L591.8 194.3L602.9 201.5L601.6 201.8Z" fill="#f7dc65" stroke="#f7dc65"/>
<path d="M600.1 211.7L601.4 211.4L601.6 199.7L600.3 200.0Z" fill="#ebc54c" stroke="#ebc54c"/>
<path d="M589.0 204.3L600.1 211.7L600.3 200.0L589.3 192.8Z" fill="#755c22" stroke="#755c22"/>
<path d="M589.3 192.8L590.5 192.5L601.6 199.7L600.3 200.0Z" fill="#f7db65" stroke="#f7db65"/>
<path d="M597.5 212.2L598.8 212.0L599.1 198.8L597.8 199.1Z" fill="#ebc54b" stroke="#ebc54b"/>
<path d="M586.5 204.9L597.5 212.2L597.8 199.1L586.7 191.9Z" fill="#755b22" stroke="#755b22"/>
<path d="M586.7 191.9L588.0 191.6L599.1 198.8L597.8 199.1Z" fill="#f7db64" stroke="#f7db64"/>
<path d="M595.0 212.7L596.2 212.5L596.5 197.5L595.3 197.8Z" fill="#ebc44b" stroke="#ebc44b"/>
<path d="M584.0 205.4L595.0 212.7L595.3 197.8L584.2 190.6Z" fill="#755b22" stroke="#755b22"/>
<path d="M584.2 190.6L585.5 190.4L596.5 197.5L595.3 197.8Z" fill="#f7da63" stroke="#f7da63"/>
<path d="M587.2 214.3L588.5 214.1L588.7 206.9L587.4 207.1Z" fill="#ebc64d" stroke="#ebc64d"/>
<path d="M576.3 206.9L587.2 214.3L587.4 207.1L576.4 199.8Z" fill="#765c22" stroke="#765c22"/>
<path d="M576.4 199.8L577.7 199.5L588.7 206.9L587.4 207.1Z" fill="#f7dc66" stroke="#f7dc66"/>
<path d="M585.9 214.6L587.2 214.3L587.3 209.0L586.0 209.3Z" fill="#ebc74d" stroke="#ebc74d"/>
<path d="M575.0 207.1L585.9 214.6L586.0 209.3L575.1 201.9Z" fill="#765c23" stroke="#765c23"/>
<path d="M575.1 201.9L576.4 201.6L587.3 209.0L586.0 209.3Z" fill="#f7dd67" stroke="#f7dd67"/>
<path d="M621.1 217.8L622.4 217.5L626.0 75.9L624.6 76.1Z" fill="#c94335" stroke="#c94335"/>
<path d="M609.6 210.3L621.1 217.8L624.6 76.1L612.8 70.5Z" fill="#5a1e1c" stroke="#5a1e1c"/>
<path d="M612.8 70.5L614.1 70.3L626.0 75.9L624.6 76.1Z" fill="#cb483b" stroke="#cb483b"/>
<path d="M617.2 218.6L618.5 218.3L618.6 212.8L617.4 213.1Z" fill="#ebc74d" stroke="#ebc74d"/>
<path d="M605.8 211.0L617.2 218.6L617.4 213.1L605.9 205.6Z" fill="#765c23" stroke="#765c23"/>
<path d="M605.9 205.6L607.2 205.4L618.6 212.8L617.4 213.1Z" fill="#f7dd67" stroke="#f7dd67"/>
<path d="M612.1 219.7L613.3 219.4L613.6 206.7L612.4 206.9Z" fill="#ebc54b" stroke="#ebc54b"/>
<path d="M600.7 212.1L612.1 219.7L612.4 206.9L600.9 199.5Z" fill="#755b22" stroke="#755b22"/>
<path d="M600.9 199.5L602.2 199.3L613.6 206.7L612.4 206.9Z" fill="#f7db64" stroke="#f7db64"/>
<path d="M609.5 220.2L610.8 219.9L611.0 207.6L609.7 207.9Z" fill="#ebc54c" stroke="#ebc54c"/>
<path d="M598.1 212.6L609.5 220.2L609.7 207.9L598.4 200.4Z" fill="#755b22" stroke="#755b22"/>
<path d="M598.4 200.4L599.6 200.2L611.0 207.6L609.7 207.9Z" fill="#f7db64" stroke="#f7db64"/>
<path d="M606.9 220.7L608.2 220.5L608.4 208.2L607.1 208.4Z" fill="#ebc54c" stroke="#ebc54c"/>
<path d="M595.5 213.1L606.9 220.7L607.1 208.4L595.8 201.0Z" fill="#755b22" stroke="#755b22"/>
<path d="M595.8 201.0L597.1 200.7L608.4 208.2L607.1 208.4Z" fill="#f7db64" stroke="#f7db64"/>
<path d="M600.4 222.1L601.7 221.8L601.7 218.4L600.4 218.7Z" fill="#ebc74d" stroke="#ebc74d"/>
<path d="M589.1 214.4L600.4 222.1L600.4 218.7L589.1 211.1Z" fill="#765d23" stroke="#765d23"/>
<path d="M589.1 211.1L590.4 210.8L601.7 218.4L600.4 218.7Z" fill="#f7dd68" stroke="#f7dd68"/>
<path d="M595.1 223.2L596.4 222.9L596.4 222.2L595.1 222.5Z" fill="#ebc84e" stroke="#ebc84e"/>
<path d="M583.9 215.5L595.1 223.2L595.1 222.5L583.9 214.8Z" fill="#765d23" stroke="#765d23"/>
<path d="M583.9 214.8L585.2 214.5L596.4 222.2L595.1 222.5Z" fill="#f7de69" stroke="#f7de69"/>
<path d="M633.5 225.9L634.8 225.7L637.2 139.8L635.9 140.0Z" fill="#f08b29" stroke="#f08b29"/>
<path d="M621.7 218.2L633.5 225.9L635.9 140.0L623.8 133.4Z" fill="#6e3b12" stroke="#6e3b12"/>
<path d="M623.8 133.4L625.1 133.2L637.2 139.8L635.9 140.0Z" fill="#f59a33" stroke="#f59a33"/>
<path d="M621.8 228.4L623.1 228.1L623.3 217.7L622.0 218.0Z" fill="#ebc54c" stroke="#ebc54c"/>
<path d="M610.1 220.6L621.8 228.4L622.0 218.0L610.3 210.3Z" fill="#755c22" stroke="#755c22"/>
<path d="M610.3 210.3L611.6 210.1L623.3 217.7L622.0 218.0Z" fill="#f7db65" stroke="#f7db65"/>
<path d="M620.5 228.7L621.8 228.4L622.0 218.2L620.7 218.5Z" fill="#ebc64c" stroke="#ebc64c"/>
<path d="M608.8 220.9L620.5 228.7L620.7 218.5L609.0 210.8Z" fill="#765c22" stroke="#765c22"/>
<path d="M609.0 210.8L610.3 210.5L622.0 218.2L620.7 218.5Z" fill="#f7dc65" stroke="#f7dc65"/>
<path d="M612.6 230.4L613.9 230.1L614.0 227.5L612.6 227.7Z" fill="#ebc74d" stroke="#ebc74d"/>
<path d="M600.9 222.5L612.6 230.4L612.6 227.7L601.0 219.9Z" fill="#765d23" stroke="#765d23"/>
<path d="M601.0 219.9L602.3 219.6L614.0 227.5L612.6 227.7Z" fill="#f7dd68" stroke="#f7dd68"/>
<path d="M609.9 230.9L611.2 230.7L611.3 229.3L610.0 229.6Z" fill="#ebc84e" stroke="#ebc84e"/>
<path d="M598.3 223.0L609.9 230.9L610.0 229.6L598.4 221.7Z" fill="#765d23" stroke="#765d23"/>
<path d="M598.4 221.7L599.7 221.4L611.3 229.3L610.0 229.6Z" fill="#f7de68" stroke="#f7de68"/></g>
<line x1="478.7" y1="86.3" x2="643.4" y2="62.2" stroke="#cdcdcd" stroke-width="0.8"/>
<line x1="478.7" y1="86.3" x2="479.4" y2="265.2" stroke="#888" stroke-width="0.6" stroke-opacity="0.35"/>
<line x1="643.4" y1="62.2" x2="638.6" y2="231.0" stroke="#cdcdcd" stroke-width="0.8"/>
<line x1="638.7" y1="228.2" x2="635.4" y2="228.9" stroke="#c4c4c4" stroke-width="0.7"/>
<line x1="639.1" y1="212.3" x2="637.3" y2="212.6" stroke="#c4c4c4" stroke-width="0.7"/>
<line x1="639.6" y1="196.2" x2="637.8" y2="196.6" stroke="#c4c4c4" stroke-width="0.7"/>
<line x1="640.1" y1="180.1" x2="638.2" y2="180.4" stroke="#c4c4c4" stroke-width="0.7"/>
<line x1="640.5" y1="163.8" x2="638.7" y2="164.2" stroke="#c4c4c4" stroke-width="0.7"/>
<line x1="641.0" y1="147.4" x2="637.7" y2="148.1" stroke="#c4c4c4" stroke-width="0.7"/>
<line x1="641.5" y1="131.0" x2="639.6" y2="131.3" stroke="#c4c4c4" stroke-width="0.7"/>
<line x1="641.9" y1="114.4" x2="640.1" y2="114.7" stroke="#c4c4c4" stroke-width="0.7"/>
<line x1="642.4" y1="97.7" x2="640.6" y2="98.0" stroke="#c4c4c4" stroke-width="0.7"/>
<line x1="642.9" y1="80.9" x2="641.1" y2="81.2" stroke="#c4c4c4" stroke-width="0.7"/>
<line x1="643.4" y1="64.0" x2="640.0" y2="64.5" stroke="#c4c4c4" stroke-width="0.7"/>
<line x1="494.6" y1="261.9" x2="491.9" y2="259.7" stroke="#cfcfcf" stroke-width="0.7"/>
<line x1="501.8" y1="260.4" x2="499.1" y2="258.1" stroke="#cfcfcf" stroke-width="0.7"/>
<line x1="509.0" y1="258.8" x2="506.3" y2="256.6" stroke="#cfcfcf" stroke-width="0.7"/>
<line x1="516.2" y1="257.3" x2="513.4" y2="255.0" stroke="#cfcfcf" stroke-width="0.7"/>
<line x1="523.3" y1="255.7" x2="520.5" y2="253.5" stroke="#cfcfcf" stroke-width="0.7"/>
<line x1="530.4" y1="254.2" x2="527.6" y2="252.0" stroke="#cfcfcf" stroke-width="0.7"/>
<line x1="537.5" y1="252.7" x2="534.7" y2="250.5" stroke="#cfcfcf" stroke-width="0.7"/>
<line x1="544.5" y1="251.2" x2="541.7" y2="249.0" stroke="#cfcfcf" stroke-width="0.7"/>
<line x1="551.5" y1="249.7" x2="548.6" y2="247.5" stroke="#cfcfcf" stroke-width="0.7"/>
<line x1="558.4" y1="248.2" x2="555.5" y2="246.0" stroke="#cfcfcf" stroke-width="0.7"/>
<line x1="565.3" y1="246.7" x2="562.4" y2="244.6" stroke="#cfcfcf" stroke-width="0.7"/>
<line x1="572.2" y1="245.2" x2="569.3" y2="243.1" stroke="#cfcfcf" stroke-width="0.7"/>
<line x1="579.0" y1="243.8" x2="576.1" y2="241.6" stroke="#cfcfcf" stroke-width="0.7"/>
<line x1="585.8" y1="242.3" x2="582.8" y2="240.2" stroke="#cfcfcf" stroke-width="0.7"/>
<line x1="592.5" y1="240.9" x2="589.6" y2="238.8" stroke="#cfcfcf" stroke-width="0.7"/>
<line x1="599.3" y1="239.4" x2="596.3" y2="237.3" stroke="#cfcfcf" stroke-width="0.7"/>
<line x1="605.9" y1="238.0" x2="602.9" y2="235.9" stroke="#cfcfcf" stroke-width="0.7"/>
<line x1="612.6" y1="236.6" x2="609.6" y2="234.5" stroke="#cfcfcf" stroke-width="0.7"/>
<line x1="619.2" y1="235.1" x2="616.1" y2="233.1" stroke="#cfcfcf" stroke-width="0.7"/>
<line x1="625.8" y1="233.7" x2="622.7" y2="231.7" stroke="#cfcfcf" stroke-width="0.7"/>
<line x1="632.3" y1="232.3" x2="629.2" y2="230.3" stroke="#cfcfcf" stroke-width="0.7"/>
<line x1="371.7" y1="171.6" x2="374.6" y2="171.1" stroke="#cfcfcf" stroke-width="0.7"/>
<line x1="379.4" y1="178.3" x2="382.4" y2="177.8" stroke="#cfcfcf" stroke-width="0.7"/>
<line x1="387.4" y1="185.2" x2="390.4" y2="184.7" stroke="#cfcfcf" stroke-width="0.7"/>
<line x1="395.6" y1="192.4" x2="398.6" y2="191.8" stroke="#cfcfcf" stroke-width="0.7"/>
<line x1="404.0" y1="199.7" x2="407.1" y2="199.2" stroke="#cfcfcf" stroke-width="0.7"/>
<line x1="412.7" y1="207.3" x2="415.9" y2="206.7" stroke="#cfcfcf" stroke-width="0.7"/>
<line x1="421.7" y1="215.1" x2="424.9" y2="214.5" stroke="#cfcfcf" stroke-width="0.7"/>
<line x1="431.0" y1="223.1" x2="434.1" y2="222.5" stroke="#cfcfcf" stroke-width="0.7"/>
<line x1="440.5" y1="231.4" x2="443.7" y2="230.7" stroke="#cfcfcf" stroke-width="0.7"/>
<line x1="450.3" y1="239.9" x2="453.6" y2="239.3" stroke="#cfcfcf" stroke-width="0.7"/>
<line x1="460.5" y1="248.8" x2="463.8" y2="248.1" stroke="#cfcfcf" stroke-width="0.7"/>
<line x1="471.0" y1="257.9" x2="474.3" y2="257.2" stroke="#cfcfcf" stroke-width="0.7"/>
<g style="filter:grayscale(1)">
<text x="9" y="12.3" font-size="12.2" font-weight="bold" fill="#111">a)</text>
<text x="346.5" y="12.3" font-size="12.4" font-weight="bold" fill="#111">b)</text>
<text transform="translate(305.35,81.99) scale(1,1.10)" font-size="11.5" text-anchor="middle" fill="#222" stroke="#222" stroke-width="0.2">400</text>
<text transform="translate(304.30,119.49) scale(1,1.10)" font-size="11.5" text-anchor="middle" fill="#222" stroke="#222" stroke-width="0.2">300</text>
<text transform="translate(302.45,156.69) scale(1,1.10)" font-size="11.5" text-anchor="middle" fill="#222" stroke="#222" stroke-width="0.2">200</text>
<text transform="translate(301.05,192.79) scale(1,1.10)" font-size="11.5" text-anchor="middle" fill="#222" stroke="#222" stroke-width="0.2">100</text>
<text transform="translate(292.85,228.29) scale(1,1.10)" font-size="11.5" text-anchor="middle" fill="#222" stroke="#222" stroke-width="0.2">0</text>
<text transform="translate(133.30,277.59) scale(1,1.10)" font-size="11.5" text-anchor="middle" fill="#222" stroke="#222" stroke-width="0.2">200</text>
<text transform="translate(171.15,269.79) scale(1,1.10)" font-size="11.5" text-anchor="middle" fill="#222" stroke="#222" stroke-width="0.2">100</text>
<text transform="translate(207.25,261.19) scale(1,1.10)" font-size="11.5" text-anchor="middle" fill="#222" stroke="#222" stroke-width="0.2">0</text>
<text transform="translate(241.60,253.29) scale(1,1.10)" font-size="11.5" text-anchor="middle" fill="#222" stroke="#222" stroke-width="0.2">−100</text>
<text transform="translate(275.90,245.99) scale(1,1.10)" font-size="11.5" text-anchor="middle" fill="#222" stroke="#222" stroke-width="0.2">−200</text>
<text transform="translate(22.65,186.69) scale(1,1.10)" font-size="11.5" text-anchor="middle" fill="#222" stroke="#222" stroke-width="0.2">−76.20</text>
<text transform="translate(40.55,203.69) scale(1,1.10)" font-size="11.5" text-anchor="middle" fill="#222" stroke="#222" stroke-width="0.2">−56.20</text>
<text transform="translate(59.45,219.99) scale(1,1.10)" font-size="11.5" text-anchor="middle" fill="#222" stroke="#222" stroke-width="0.2">−36.20</text>
<text transform="translate(79.65,239.29) scale(1,1.10)" font-size="11.5" text-anchor="middle" fill="#222" stroke="#222" stroke-width="0.2">−16.20</text>
<text transform="translate(89.90,249.09) scale(1,1.10)" font-size="11.5" text-anchor="middle" fill="#222" stroke="#222" stroke-width="0.2">−15.53</text>
<text transform="translate(100.80,258.69) scale(1,1.10)" font-size="11.5" text-anchor="middle" fill="#222" stroke="#222" stroke-width="0.2">−14.95</text>
<text transform="translate(661.70,67.51) scale(1,1.10)" font-size="12.2" text-anchor="middle" fill="#222" stroke="#222" stroke-width="0.2">1000</text>
<text transform="translate(654.20,150.86) scale(1,1.10)" font-size="12.2" text-anchor="middle" fill="#222" stroke="#222" stroke-width="0.2">500</text>
<text transform="translate(644.10,229.26) scale(1,1.10)" font-size="12.2" text-anchor="middle" fill="#222" stroke="#222" stroke-width="0.2">0</text>
<text transform="translate(492.85,277.76) scale(1,1.10)" font-size="12.2" text-anchor="middle" fill="#222" stroke="#222" stroke-width="0.2">200</text>
<text transform="translate(528.70,271.06) scale(1,1.10)" font-size="12.2" text-anchor="middle" fill="#222" stroke="#222" stroke-width="0.2">100</text>
<text transform="translate(562.35,263.06) scale(1,1.10)" font-size="12.2" text-anchor="middle" fill="#222" stroke="#222" stroke-width="0.2">0</text>
<text transform="translate(594.90,255.56) scale(1,1.10)" font-size="12.2" text-anchor="middle" fill="#222" stroke="#222" stroke-width="0.2">−100</text>
<text transform="translate(627.10,248.96) scale(1,1.10)" font-size="12.2" text-anchor="middle" fill="#222" stroke="#222" stroke-width="0.2">−200</text>
<text transform="translate(358.60,179.76) scale(1,1.10)" font-size="12.2" text-anchor="middle" fill="#222" stroke="#222" stroke-width="0.2">−70</text>
<text transform="translate(374.25,193.96) scale(1,1.10)" font-size="12.2" text-anchor="middle" fill="#222" stroke="#222" stroke-width="0.2">−50</text>
<text transform="translate(390.95,208.26) scale(1,1.10)" font-size="12.2" text-anchor="middle" fill="#222" stroke="#222" stroke-width="0.2">−40</text>
<text transform="translate(408.95,223.86) scale(1,1.10)" font-size="12.2" text-anchor="middle" fill="#222" stroke="#222" stroke-width="0.2">−30</text>
<text transform="translate(427.50,239.96) scale(1,1.10)" font-size="12.2" text-anchor="middle" fill="#222" stroke="#222" stroke-width="0.2">−20</text>
<text transform="translate(437.95,248.76) scale(1,1.10)" font-size="12.2" text-anchor="middle" fill="#222" stroke="#222" stroke-width="0.2">−15</text>
<text transform="translate(447.95,257.76) scale(1,1.10)" font-size="12.2" text-anchor="middle" fill="#222" stroke="#222" stroke-width="0.2">−10</text>
<text transform="translate(462.00,267.06) scale(1,1.10)" font-size="12.2" text-anchor="middle" fill="#222" stroke="#222" stroke-width="0.2">−5</text>
<text transform="translate(193.5,279.5) rotate(-12.8) skewX(-5) scale(0.8,1)" font-size="16" font-style="italic" fill="#222">Ising Energy</text>
<text transform="translate(546.5,279.8) rotate(-12.8) skewX(-5) scale(0.8,1)" font-size="16" font-style="italic" fill="#222">Ising Energy</text>
<text transform="translate(0.3,194.2) rotate(45)" font-size="11.6" fill="#222">Coupling, 10log<tspan font-size="6" dy="3">10</tspan><tspan dy="-3">(κ/2π)</tspan></text>
<text transform="translate(366.6,210.5) rotate(44) " letter-spacing="0.4" font-size="12.6" fill="#222">Coupling, dB</text>
<text transform="translate(683,193.3) rotate(-90)" font-size="12.4" fill="#222">Number of Runs</text>
</g>
</svg>
</body></html>
